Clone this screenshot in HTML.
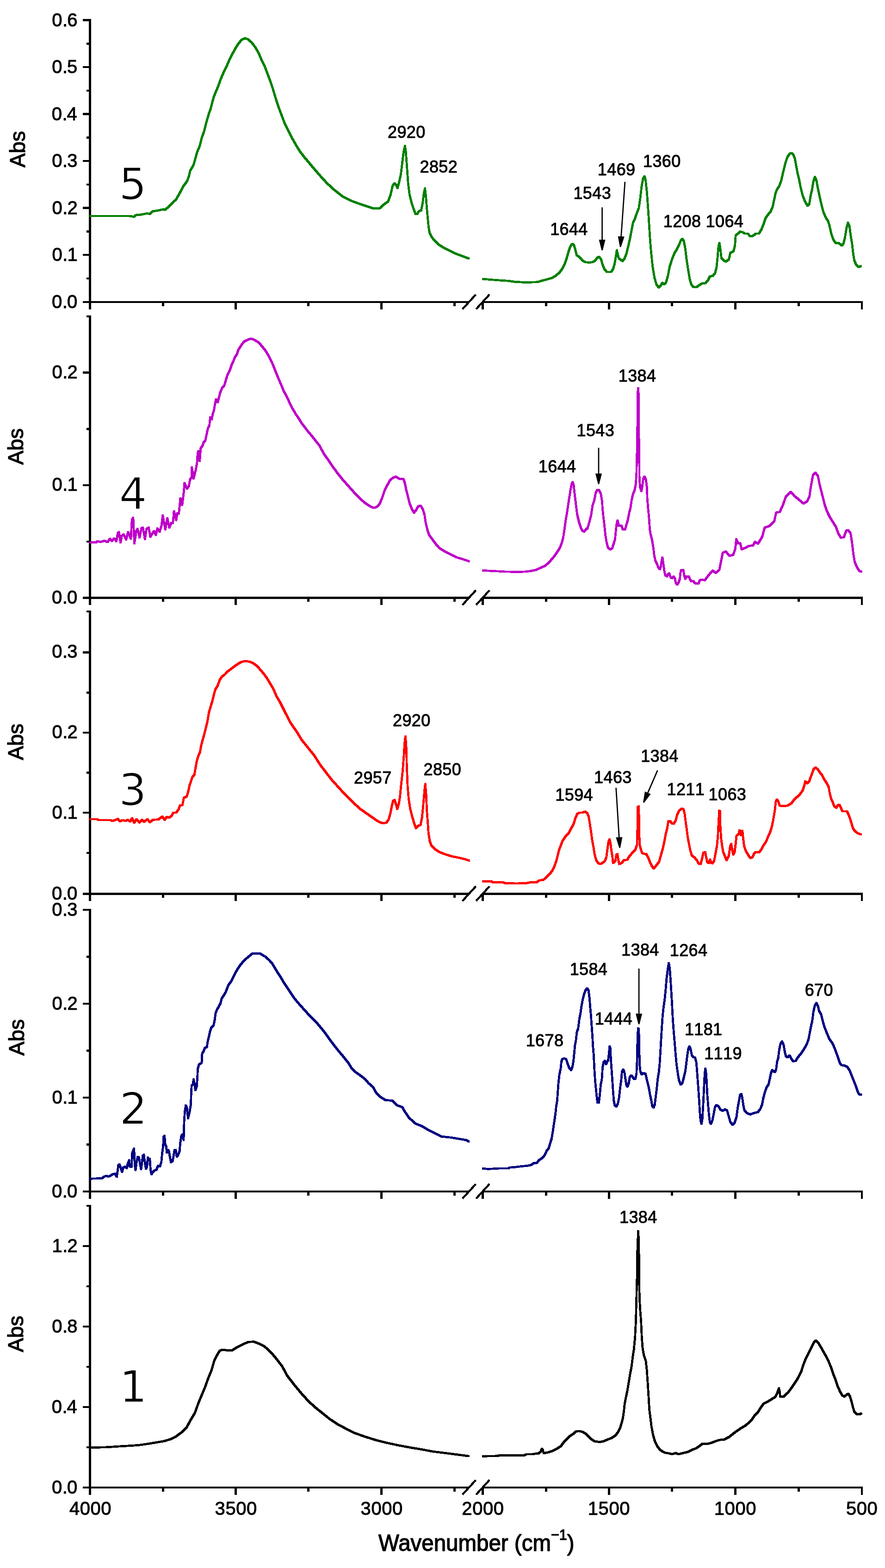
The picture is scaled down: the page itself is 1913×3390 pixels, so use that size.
<!DOCTYPE html>
<html><head><meta charset="utf-8"><title>FTIR spectra</title>
<style>html,body{margin:0;padding:0;background:#fff}svg{display:block}text{fill:#000}</style>
</head><body>
<svg width="1913" height="3390" viewBox="0 0 1913 3390" role="img" aria-label="FTIR absorbance spectra of samples 1 to 5">
<rect x="0" y="0" width="1913" height="3390" fill="#fff"/>
<g shape-rendering="crispEdges">
<rect x="192" y="41" width="5" height="628" fill="#000"/>
<rect x="192" y="651" width="822" height="4" fill="#000"/>
<rect x="1043" y="651" width="822" height="4" fill="#000"/>
<rect x="179" y="651" width="13" height="4" fill="#000"/>
<rect x="187" y="600" width="5" height="4" fill="#000"/>
<rect x="179" y="549" width="13" height="4" fill="#000"/>
<rect x="187" y="498" width="5" height="5" fill="#000"/>
<rect x="179" y="447" width="13" height="5" fill="#000"/>
<rect x="187" y="397" width="5" height="4" fill="#000"/>
<rect x="179" y="346" width="13" height="4" fill="#000"/>
<rect x="187" y="295" width="5" height="5" fill="#000"/>
<rect x="179" y="244" width="13" height="5" fill="#000"/>
<rect x="187" y="194" width="5" height="4" fill="#000"/>
<rect x="179" y="143" width="13" height="4" fill="#000"/>
<rect x="187" y="92" width="5" height="5" fill="#000"/>
<rect x="179" y="41" width="13" height="5" fill="#000"/>
<rect x="350" y="655" width="5" height="7" fill="#000"/>
<rect x="507" y="655" width="5" height="14" fill="#000"/>
<rect x="664" y="655" width="5" height="7" fill="#000"/>
<rect x="822" y="655" width="5" height="14" fill="#000"/>
<rect x="980" y="655" width="5" height="7" fill="#000"/>
<rect x="1041" y="655" width="5" height="14" fill="#000"/>
<rect x="1178" y="655" width="5" height="7" fill="#000"/>
<rect x="1314" y="655" width="5" height="14" fill="#000"/>
<rect x="1450" y="655" width="5" height="7" fill="#000"/>
<rect x="1587" y="655" width="5" height="14" fill="#000"/>
<rect x="1724" y="655" width="5" height="7" fill="#000"/>
<rect x="1861" y="655" width="4" height="14" fill="#000"/>
<line x1="999.7" y1="668.3" x2="1028.6" y2="636.7" stroke="#000" stroke-width="4.4"/>
<line x1="1029.2" y1="668.3" x2="1058.1" y2="636.7" stroke="#000" stroke-width="4.4"/>
<rect x="192" y="682" width="5" height="626" fill="#000"/>
<rect x="192" y="1290" width="822" height="5" fill="#000"/>
<rect x="1043" y="1290" width="822" height="5" fill="#000"/>
<rect x="179" y="1290" width="13" height="5" fill="#000"/>
<rect x="187" y="1169" width="5" height="4" fill="#000"/>
<rect x="179" y="1047" width="13" height="4" fill="#000"/>
<rect x="187" y="925" width="5" height="5" fill="#000"/>
<rect x="179" y="803" width="13" height="5" fill="#000"/>
<rect x="187" y="682" width="5" height="4" fill="#000"/>
<rect x="350" y="1295" width="5" height="6" fill="#000"/>
<rect x="507" y="1295" width="5" height="13" fill="#000"/>
<rect x="664" y="1295" width="5" height="6" fill="#000"/>
<rect x="822" y="1295" width="5" height="13" fill="#000"/>
<rect x="980" y="1295" width="5" height="6" fill="#000"/>
<rect x="1041" y="1295" width="5" height="13" fill="#000"/>
<rect x="1178" y="1295" width="5" height="6" fill="#000"/>
<rect x="1314" y="1295" width="5" height="13" fill="#000"/>
<rect x="1450" y="1295" width="5" height="6" fill="#000"/>
<rect x="1587" y="1295" width="5" height="13" fill="#000"/>
<rect x="1724" y="1295" width="5" height="6" fill="#000"/>
<rect x="1861" y="1295" width="4" height="13" fill="#000"/>
<line x1="999.7" y1="1307.8" x2="1028.6" y2="1276.2" stroke="#000" stroke-width="4.4"/>
<line x1="1029.2" y1="1307.8" x2="1058.1" y2="1276.2" stroke="#000" stroke-width="4.4"/>
<rect x="192" y="1320" width="5" height="628" fill="#000"/>
<rect x="192" y="1930" width="822" height="5" fill="#000"/>
<rect x="1043" y="1930" width="822" height="5" fill="#000"/>
<rect x="179" y="1930" width="13" height="5" fill="#000"/>
<rect x="187" y="1842" width="5" height="4" fill="#000"/>
<rect x="179" y="1755" width="13" height="4" fill="#000"/>
<rect x="187" y="1668" width="5" height="5" fill="#000"/>
<rect x="179" y="1582" width="13" height="4" fill="#000"/>
<rect x="187" y="1495" width="5" height="5" fill="#000"/>
<rect x="179" y="1408" width="13" height="5" fill="#000"/>
<rect x="187" y="1320" width="5" height="4" fill="#000"/>
<rect x="350" y="1935" width="5" height="6" fill="#000"/>
<rect x="507" y="1935" width="5" height="13" fill="#000"/>
<rect x="664" y="1935" width="5" height="6" fill="#000"/>
<rect x="822" y="1935" width="5" height="13" fill="#000"/>
<rect x="980" y="1935" width="5" height="6" fill="#000"/>
<rect x="1041" y="1935" width="5" height="13" fill="#000"/>
<rect x="1178" y="1935" width="5" height="6" fill="#000"/>
<rect x="1314" y="1935" width="5" height="13" fill="#000"/>
<rect x="1450" y="1935" width="5" height="6" fill="#000"/>
<rect x="1587" y="1935" width="5" height="13" fill="#000"/>
<rect x="1724" y="1935" width="5" height="6" fill="#000"/>
<rect x="1861" y="1935" width="4" height="13" fill="#000"/>
<line x1="999.7" y1="1947.8" x2="1028.6" y2="1916.2" stroke="#000" stroke-width="4.4"/>
<line x1="1029.2" y1="1947.8" x2="1058.1" y2="1916.2" stroke="#000" stroke-width="4.4"/>
<rect x="192" y="1965" width="5" height="627" fill="#000"/>
<rect x="192" y="2574" width="822" height="4" fill="#000"/>
<rect x="1043" y="2574" width="822" height="4" fill="#000"/>
<rect x="179" y="2574" width="13" height="4" fill="#000"/>
<rect x="187" y="2472" width="5" height="5" fill="#000"/>
<rect x="179" y="2371" width="13" height="4" fill="#000"/>
<rect x="187" y="2269" width="5" height="5" fill="#000"/>
<rect x="179" y="2168" width="13" height="4" fill="#000"/>
<rect x="187" y="2066" width="5" height="5" fill="#000"/>
<rect x="179" y="1965" width="13" height="4" fill="#000"/>
<rect x="350" y="2578" width="5" height="7" fill="#000"/>
<rect x="507" y="2578" width="5" height="14" fill="#000"/>
<rect x="664" y="2578" width="5" height="7" fill="#000"/>
<rect x="822" y="2578" width="5" height="14" fill="#000"/>
<rect x="980" y="2578" width="5" height="7" fill="#000"/>
<rect x="1041" y="2578" width="5" height="14" fill="#000"/>
<rect x="1178" y="2578" width="5" height="7" fill="#000"/>
<rect x="1314" y="2578" width="5" height="14" fill="#000"/>
<rect x="1450" y="2578" width="5" height="7" fill="#000"/>
<rect x="1587" y="2578" width="5" height="14" fill="#000"/>
<rect x="1724" y="2578" width="5" height="7" fill="#000"/>
<rect x="1861" y="2578" width="4" height="14" fill="#000"/>
<line x1="999.7" y1="2591.3" x2="1028.6" y2="2559.7" stroke="#000" stroke-width="4.4"/>
<line x1="1029.2" y1="2591.3" x2="1058.1" y2="2559.7" stroke="#000" stroke-width="4.4"/>
<rect x="192" y="2605" width="5" height="627" fill="#000"/>
<rect x="192" y="3214" width="822" height="4" fill="#000"/>
<rect x="1043" y="3214" width="822" height="4" fill="#000"/>
<rect x="179" y="3214" width="13" height="4" fill="#000"/>
<rect x="187" y="3127" width="5" height="4" fill="#000"/>
<rect x="179" y="3040" width="13" height="4" fill="#000"/>
<rect x="187" y="2953" width="5" height="4" fill="#000"/>
<rect x="179" y="2866" width="13" height="4" fill="#000"/>
<rect x="187" y="2779" width="5" height="4" fill="#000"/>
<rect x="179" y="2692" width="13" height="4" fill="#000"/>
<rect x="187" y="2605" width="5" height="4" fill="#000"/>
<rect x="350" y="3218" width="5" height="7" fill="#000"/>
<rect x="507" y="3218" width="5" height="14" fill="#000"/>
<rect x="664" y="3218" width="5" height="7" fill="#000"/>
<rect x="822" y="3218" width="5" height="14" fill="#000"/>
<rect x="980" y="3218" width="5" height="7" fill="#000"/>
<rect x="1041" y="3218" width="5" height="14" fill="#000"/>
<rect x="1178" y="3218" width="5" height="7" fill="#000"/>
<rect x="1314" y="3218" width="5" height="14" fill="#000"/>
<rect x="1450" y="3218" width="5" height="7" fill="#000"/>
<rect x="1587" y="3218" width="5" height="14" fill="#000"/>
<rect x="1724" y="3218" width="5" height="7" fill="#000"/>
<rect x="1861" y="3218" width="4" height="14" fill="#000"/>
<line x1="999.7" y1="3231.3" x2="1028.6" y2="3199.7" stroke="#000" stroke-width="4.4"/>
<line x1="1029.2" y1="3231.3" x2="1058.1" y2="3199.7" stroke="#000" stroke-width="4.4"/>
<g fill="none" stroke="#008000" stroke-linejoin="round" stroke-linecap="butt">
<polyline points="194.1,467.1 256.0,467.1 280.8,467.1 290.1,468.7 293.2,465.0 303.5,464.2 317.9,461.5 324.1,462.5 330.3,456.8 340.6,455.3 353.0,452.6 356.1,453.9 365.4,446.4 375.7,435.3 379.8,432.6 388.1,418.2 396.3,402.7 404.6,391.3 408.7,380.0 410.9,369.5 418.2,357.1 422.3,342.7 426.4,328.2 431.6,315.8 435.7,299.3 440.9,284.9 444.4,270.5 449.1,253.9 452.2,243.6 455.3,235.4 459.4,218.9 462.5,208.6 466.7,198.2 471.8,185.9 477.0,171.4 483.2,157.0 489.4,144.6 495.5,130.2 501.7,117.8 507.9,106.4 514.1,96.1 522.4,85.8 529.6,82.7 536.8,85.2 545.1,93.0 553.3,104.4 559.5,115.7 565.7,130.2 571.9,142.5 578.1,159.0 584.3,175.5 590.5,194.1 596.6,214.7 602.8,233.3 609.0,249.8 615.2,266.3 623.5,282.8 631.7,299.3 640.0,313.8 648.2,327.2 658.5,340.6 660.0,342.2 675.7,361.0 691.4,379.3 707.0,396.3 722.7,410.7 741.0,425.0 759.3,434.2 775.0,439.9 790.7,445.2 806.4,450.4 820.7,450.4 829.9,442.0 839.0,435.5 844.3,421.1 848.7,401.5 852.9,396.3 856.5,400.2 859.1,406.8 862.5,395.0 866.5,376.7 869.1,355.8 872.2,329.7 875.4,315.3 877.4,329.7 879.5,358.4 882.1,395.0 885.3,421.1 890.0,439.4 893.9,451.2 898.3,462.9 901.7,462.9 905.7,456.4 910.4,455.1 913.5,439.4 916.1,418.5 918.7,407.3 920.8,426.4 922.7,449.9 924.5,470.8 926.6,491.7 928.7,503.5 933.1,512.6 939.6,520.4 947.5,528.3 957.9,534.8 971.0,541.3 984.1,547.9 999.8,553.9 1014.1,559.1" stroke-width="4.5"/>
<polyline points="192.9,465.9 254.8,465.9 279.6,465.9 288.9,467.5 292.0,463.8 302.3,463.0 316.7,460.3 322.9,461.3 329.1,455.6 339.4,454.1 351.8,451.4 354.9,452.7 364.2,445.2 374.5,434.1 378.6,431.4 386.9,417.0 395.1,401.5 403.4,390.1 407.5,378.8 409.7,368.3 417.0,355.9 421.1,341.5 425.2,327.0 430.4,314.6 434.5,298.1 439.7,283.7 443.2,269.3 447.9,252.7 451.0,242.4 454.1,234.2 458.2,217.7 461.3,207.4 465.5,197.0 470.6,184.7 475.8,170.2 482.0,155.8 488.2,143.4 494.3,129.0 500.5,116.6 506.7,105.2 512.9,94.9 521.2,84.6 528.4,81.5 535.6,84.0 543.9,91.8 552.1,103.2 558.3,114.5 564.5,129.0 570.7,141.3 576.9,157.8 583.1,174.3 589.3,192.9 595.4,213.5 601.6,232.1 607.8,248.6 614.0,265.1 622.3,281.6 630.5,298.1 638.8,312.6 647.0,326.0 657.3,339.4 658.8,341.0 674.5,359.8 690.2,378.1 705.8,395.1 721.5,409.5 739.8,423.8 758.1,433.0 773.8,438.7 789.5,444.0 805.2,449.2 819.5,449.2 828.7,440.8 837.8,434.3 843.1,419.9 847.5,400.3 851.7,395.1 855.3,399.0 857.9,405.6 861.3,393.8 865.3,375.5 867.9,354.6 871.0,328.5 874.2,314.1 876.2,328.5 878.3,357.2 880.9,393.8 884.1,419.9 888.8,438.2 892.7,450.0 897.1,461.7 900.5,461.7 904.5,455.2 909.2,453.9 912.3,438.2 914.9,417.3 917.5,406.1 919.6,425.2 921.5,448.7 923.3,469.6 925.4,490.5 927.5,502.3 931.9,511.4 938.4,519.2 946.3,527.1 956.7,533.6 969.8,540.1 982.9,546.7 998.6,552.7 1012.9,557.9" stroke-width="2.2"/>
<polyline points="192.9,468.3 254.8,468.3 279.6,468.3 288.9,469.9 292.0,466.2 302.3,465.4 316.7,462.7 322.9,463.7 329.1,458.0 339.4,456.5 351.8,453.8 354.9,455.1 364.2,447.6 374.5,436.5 378.6,433.8 386.9,419.4 395.1,403.9 403.4,392.5 407.5,381.2 409.7,370.7 417.0,358.3 421.1,343.9 425.2,329.4 430.4,317.0 434.5,300.5 439.7,286.1 443.2,271.7 447.9,255.1 451.0,244.8 454.1,236.6 458.2,220.1 461.3,209.8 465.5,199.4 470.6,187.1 475.8,172.6 482.0,158.2 488.2,145.8 494.3,131.4 500.5,119.0 506.7,107.6 512.9,97.3 521.2,87.0 528.4,83.9 535.6,86.4 543.9,94.2 552.1,105.6 558.3,116.9 564.5,131.4 570.7,143.7 576.9,160.2 583.1,176.7 589.3,195.3 595.4,215.9 601.6,234.5 607.8,251.0 614.0,267.5 622.3,284.0 630.5,300.5 638.8,315.0 647.0,328.4 657.3,341.8 658.8,343.4 674.5,362.2 690.2,380.5 705.8,397.5 721.5,411.9 739.8,426.2 758.1,435.4 773.8,441.1 789.5,446.4 805.2,451.6 819.5,451.6 828.7,443.2 837.8,436.7 843.1,422.3 847.5,402.7 851.7,397.5 855.3,401.4 857.9,408.0 861.3,396.2 865.3,377.9 867.9,357.0 871.0,330.9 874.2,316.5 876.2,330.9 878.3,359.6 880.9,396.2 884.1,422.3 888.8,440.6 892.7,452.4 897.1,464.1 900.5,464.1 904.5,457.6 909.2,456.3 912.3,440.6 914.9,419.7 917.5,408.5 919.6,427.6 921.5,451.1 923.3,472.0 925.4,492.9 927.5,504.7 931.9,513.8 938.4,521.6 946.3,529.5 956.7,536.0 969.8,542.5 982.9,549.1 998.6,555.1 1012.9,560.3" stroke-width="2.2"/>
<polyline points="195.3,465.9 257.2,465.9 282.0,465.9 291.3,467.5 294.4,463.8 304.7,463.0 319.1,460.3 325.3,461.3 331.5,455.6 341.8,454.1 354.2,451.4 357.3,452.7 366.6,445.2 376.9,434.1 381.0,431.4 389.3,417.0 397.5,401.5 405.8,390.1 409.9,378.8 412.1,368.3 419.4,355.9 423.5,341.5 427.6,327.0 432.8,314.6 436.9,298.1 442.1,283.7 445.6,269.3 450.3,252.7 453.4,242.4 456.5,234.2 460.6,217.7 463.7,207.4 467.9,197.0 473.0,184.7 478.2,170.2 484.4,155.8 490.6,143.4 496.7,129.0 502.9,116.6 509.1,105.2 515.3,94.9 523.6,84.6 530.8,81.5 538.0,84.0 546.3,91.8 554.5,103.2 560.7,114.5 566.9,129.0 573.1,141.3 579.3,157.8 585.5,174.3 591.7,192.9 597.8,213.5 604.0,232.1 610.2,248.6 616.4,265.1 624.7,281.6 632.9,298.1 641.2,312.6 649.4,326.0 659.7,339.4 661.2,341.0 676.9,359.8 692.6,378.1 708.2,395.1 723.9,409.5 742.2,423.8 760.5,433.0 776.2,438.7 791.9,444.0 807.6,449.2 821.9,449.2 831.1,440.8 840.2,434.3 845.5,419.9 849.9,400.3 854.1,395.1 857.7,399.0 860.3,405.6 863.7,393.8 867.7,375.5 870.3,354.6 873.4,328.5 876.6,314.1 878.6,328.5 880.7,357.2 883.3,393.8 886.5,419.9 891.2,438.2 895.1,450.0 899.5,461.7 902.9,461.7 906.9,455.2 911.6,453.9 914.7,438.2 917.3,417.3 919.9,406.1 922.0,425.2 923.9,448.7 925.7,469.6 927.8,490.5 929.9,502.3 934.3,511.4 940.8,519.2 948.7,527.1 959.1,533.6 972.2,540.1 985.3,546.7 1001.0,552.7 1015.3,557.9" stroke-width="2.2"/>
<polyline points="195.3,468.3 257.2,468.3 282.0,468.3 291.3,469.9 294.4,466.2 304.7,465.4 319.1,462.7 325.3,463.7 331.5,458.0 341.8,456.5 354.2,453.8 357.3,455.1 366.6,447.6 376.9,436.5 381.0,433.8 389.3,419.4 397.5,403.9 405.8,392.5 409.9,381.2 412.1,370.7 419.4,358.3 423.5,343.9 427.6,329.4 432.8,317.0 436.9,300.5 442.1,286.1 445.6,271.7 450.3,255.1 453.4,244.8 456.5,236.6 460.6,220.1 463.7,209.8 467.9,199.4 473.0,187.1 478.2,172.6 484.4,158.2 490.6,145.8 496.7,131.4 502.9,119.0 509.1,107.6 515.3,97.3 523.6,87.0 530.8,83.9 538.0,86.4 546.3,94.2 554.5,105.6 560.7,116.9 566.9,131.4 573.1,143.7 579.3,160.2 585.5,176.7 591.7,195.3 597.8,215.9 604.0,234.5 610.2,251.0 616.4,267.5 624.7,284.0 632.9,300.5 641.2,315.0 649.4,328.4 659.7,341.8 661.2,343.4 676.9,362.2 692.6,380.5 708.2,397.5 723.9,411.9 742.2,426.2 760.5,435.4 776.2,441.1 791.9,446.4 807.6,451.6 821.9,451.6 831.1,443.2 840.2,436.7 845.5,422.3 849.9,402.7 854.1,397.5 857.7,401.4 860.3,408.0 863.7,396.2 867.7,377.9 870.3,357.0 873.4,330.9 876.6,316.5 878.6,330.9 880.7,359.6 883.3,396.2 886.5,422.3 891.2,440.6 895.1,452.4 899.5,464.1 902.9,464.1 906.9,457.6 911.6,456.3 914.7,440.6 917.3,419.7 919.9,408.5 922.0,427.6 923.9,451.1 925.7,472.0 927.8,492.9 929.9,504.7 934.3,513.8 940.8,521.6 948.7,529.5 959.1,536.0 972.2,542.5 985.3,549.1 1001.0,555.1 1015.3,560.3" stroke-width="2.2"/>
</g>
<g fill="none" stroke="#008000" stroke-linejoin="round" stroke-linecap="butt">
<polyline points="1043.4,603.1 1054.8,604.1 1077.5,605.9 1098.1,607.2 1112.5,609.2 1137.3,610.7 1162.0,609.7 1172.4,606.6 1182.7,603.9 1193.0,601.0 1201.3,596.2 1209.5,589.0 1215.7,580.8 1220.9,570.5 1225.0,558.1 1228.5,545.7 1231.8,535.4 1234.7,529.2 1238.0,527.5 1240.9,530.2 1243.5,539.5 1246.6,551.9 1252.8,556.0 1259.0,563.2 1265.2,566.7 1273.5,567.6 1280.7,566.7 1286.9,563.2 1291.0,557.0 1294.5,555.2 1299.3,560.4 1302.4,571.7 1306.5,582.0 1311.7,587.8 1320.9,587.8 1325.1,582.0 1328.2,571.7 1330.9,557.3 1333.3,540.8 1335.0,549.0 1337.5,558.3 1341.6,561.4 1345.7,564.5 1349.8,559.3 1354.0,549.0 1358.1,532.5 1362.2,513.9 1365.3,497.4 1368.4,480.9 1372.5,472.7 1376.7,460.3 1380.8,450.0 1383.9,429.4 1387.0,402.5 1390.1,386.0 1393.2,380.9 1395.6,390.2 1398.3,414.9 1400.4,443.8 1402.4,472.7 1403.9,497.4 1405.5,522.2 1407.6,547.0 1410.7,575.8 1414.8,600.6 1419.0,615.0 1424.1,621.7 1428.2,617.1 1432.0,610.9 1435.5,615.0 1439.6,610.9 1443.7,596.5 1447.8,575.8 1453.0,559.3 1458.2,547.0 1463.3,538.7 1467.4,530.5 1471.6,520.1 1475.1,516.6 1478.2,521.2 1480.9,534.6 1483.9,559.3 1487.0,580.0 1491.2,604.7 1494.3,615.0 1498.4,620.2 1504.6,621.2 1510.8,617.1 1517.0,613.0 1525.2,612.0 1530.4,605.8 1534.5,597.5 1540.7,596.5 1545.8,590.3 1548.9,577.9 1551.0,557.3 1553.1,532.5 1555.1,525.3 1557.2,538.7 1559.3,557.3 1563.4,562.4 1568.5,565.5 1570.0,565.2 1575.5,560.8 1578.8,546.5 1585.4,543.2 1588.7,531.1 1590.2,509.1 1594.2,505.8 1599.7,500.7 1606.3,502.5 1609.6,505.1 1616.2,505.1 1621.7,510.8 1627.2,510.2 1633.8,505.1 1640.4,505.1 1645.9,495.9 1650.3,484.9 1654.7,471.7 1660.2,464.0 1665.7,457.4 1670.1,447.5 1673.4,432.0 1676.7,416.6 1680.0,408.9 1684.4,402.3 1688.8,390.2 1693.2,370.4 1697.6,352.8 1702.0,339.6 1706.9,332.6 1710.9,330.8 1714.8,334.1 1717.9,341.8 1720.8,357.2 1724.1,374.8 1727.4,388.0 1730.7,405.6 1735.1,423.2 1740.6,436.5 1745.6,444.8 1749.4,440.9 1752.2,423.2 1755.3,410.0 1758.2,392.4 1761.5,382.5 1764.8,390.2 1767.6,405.6 1771.4,423.2 1774.7,438.7 1779.1,456.3 1784.6,469.5 1790.1,478.3 1793.4,489.3 1796.7,504.7 1801.1,517.9 1806.6,525.6 1813.2,525.6 1819.8,531.1 1823.1,526.7 1826.4,513.5 1829.7,493.7 1833.0,481.6 1836.3,489.3 1838.5,506.9 1841.8,526.7 1844.0,546.5 1846.9,564.1 1850.6,571.8 1856.1,577.3 1861.6,575.1" stroke-width="4.5"/>
<polyline points="1042.2,601.9 1053.6,602.9 1076.3,604.7 1096.9,606.0 1111.3,608.0 1136.1,609.5 1160.8,608.5 1171.2,605.4 1181.5,602.7 1191.8,599.8 1200.1,595.0 1208.3,587.8 1214.5,579.6 1219.7,569.3 1223.8,556.9 1227.3,544.5 1230.6,534.2 1233.5,528.0 1236.8,526.3 1239.7,529.0 1242.3,538.3 1245.4,550.7 1251.6,554.8 1257.8,562.0 1264.0,565.5 1272.3,566.4 1279.5,565.5 1285.7,562.0 1289.8,555.8 1293.3,554.0 1298.1,559.2 1301.2,570.5 1305.3,580.8 1310.5,586.6 1319.7,586.6 1323.9,580.8 1327.0,570.5 1329.7,556.1 1332.1,539.6 1333.8,547.8 1336.3,557.1 1340.4,560.2 1344.5,563.3 1348.6,558.1 1352.8,547.8 1356.9,531.3 1361.0,512.7 1364.1,496.2 1367.2,479.7 1371.3,471.5 1375.5,459.1 1379.6,448.8 1382.7,428.2 1385.8,401.3 1388.9,384.8 1392.0,379.7 1394.4,389.0 1397.1,413.7 1399.2,442.6 1401.2,471.5 1402.7,496.2 1404.3,521.0 1406.4,545.8 1409.5,574.6 1413.6,599.4 1417.8,613.8 1422.9,620.5 1427.0,615.9 1430.8,609.7 1434.3,613.8 1438.4,609.7 1442.5,595.3 1446.6,574.6 1451.8,558.1 1457.0,545.8 1462.1,537.5 1466.2,529.3 1470.4,518.9 1473.9,515.4 1477.0,520.0 1479.7,533.4 1482.7,558.1 1485.8,578.8 1490.0,603.5 1493.1,613.8 1497.2,619.0 1503.4,620.0 1509.6,615.9 1515.8,611.8 1524.0,610.8 1529.2,604.6 1533.3,596.3 1539.5,595.3 1544.6,589.1 1547.7,576.7 1549.8,556.1 1551.9,531.3 1553.9,524.1 1556.0,537.5 1558.1,556.1 1562.2,561.2 1567.3,564.3 1568.8,564.0 1574.3,559.6 1577.6,545.3 1584.2,542.0 1587.5,529.9 1589.0,507.9 1593.0,504.6 1598.5,499.5 1605.1,501.3 1608.4,503.9 1615.0,503.9 1620.5,509.6 1626.0,509.0 1632.6,503.9 1639.2,503.9 1644.7,494.7 1649.1,483.7 1653.5,470.5 1659.0,462.8 1664.5,456.2 1668.9,446.3 1672.2,430.8 1675.5,415.4 1678.8,407.7 1683.2,401.1 1687.6,389.0 1692.0,369.2 1696.4,351.6 1700.8,338.4 1705.7,331.4 1709.7,329.6 1713.6,332.9 1716.7,340.6 1719.6,356.0 1722.9,373.6 1726.2,386.8 1729.5,404.4 1733.9,422.0 1739.4,435.3 1744.4,443.6 1748.2,439.7 1751.0,422.0 1754.1,408.8 1757.0,391.2 1760.3,381.3 1763.6,389.0 1766.4,404.4 1770.2,422.0 1773.5,437.5 1777.9,455.1 1783.4,468.3 1788.9,477.1 1792.2,488.1 1795.5,503.5 1799.9,516.7 1805.4,524.4 1812.0,524.4 1818.6,529.9 1821.9,525.5 1825.2,512.3 1828.5,492.5 1831.8,480.4 1835.1,488.1 1837.3,505.7 1840.6,525.5 1842.8,545.3 1845.7,562.9 1849.4,570.6 1854.9,576.1 1860.4,573.9" stroke-width="2.2"/>
<polyline points="1042.2,604.3 1053.6,605.3 1076.3,607.1 1096.9,608.4 1111.3,610.4 1136.1,611.9 1160.8,610.9 1171.2,607.8 1181.5,605.1 1191.8,602.2 1200.1,597.4 1208.3,590.2 1214.5,582.0 1219.7,571.7 1223.8,559.3 1227.3,546.9 1230.6,536.6 1233.5,530.4 1236.8,528.7 1239.7,531.4 1242.3,540.7 1245.4,553.1 1251.6,557.2 1257.8,564.4 1264.0,567.9 1272.3,568.8 1279.5,567.9 1285.7,564.4 1289.8,558.2 1293.3,556.4 1298.1,561.6 1301.2,572.9 1305.3,583.2 1310.5,589.0 1319.7,589.0 1323.9,583.2 1327.0,572.9 1329.7,558.5 1332.1,542.0 1333.8,550.2 1336.3,559.5 1340.4,562.6 1344.5,565.7 1348.6,560.5 1352.8,550.2 1356.9,533.7 1361.0,515.1 1364.1,498.6 1367.2,482.1 1371.3,473.9 1375.5,461.5 1379.6,451.2 1382.7,430.6 1385.8,403.7 1388.9,387.2 1392.0,382.1 1394.4,391.4 1397.1,416.1 1399.2,445.0 1401.2,473.9 1402.7,498.6 1404.3,523.4 1406.4,548.2 1409.5,577.0 1413.6,601.8 1417.8,616.2 1422.9,622.9 1427.0,618.3 1430.8,612.1 1434.3,616.2 1438.4,612.1 1442.5,597.7 1446.6,577.0 1451.8,560.5 1457.0,548.2 1462.1,539.9 1466.2,531.7 1470.4,521.3 1473.9,517.8 1477.0,522.4 1479.7,535.8 1482.7,560.5 1485.8,581.2 1490.0,605.9 1493.1,616.2 1497.2,621.4 1503.4,622.4 1509.6,618.3 1515.8,614.2 1524.0,613.2 1529.2,607.0 1533.3,598.7 1539.5,597.7 1544.6,591.5 1547.7,579.1 1549.8,558.5 1551.9,533.7 1553.9,526.5 1556.0,539.9 1558.1,558.5 1562.2,563.6 1567.3,566.7 1568.8,566.4 1574.3,562.0 1577.6,547.7 1584.2,544.4 1587.5,532.3 1589.0,510.3 1593.0,507.0 1598.5,501.9 1605.1,503.7 1608.4,506.3 1615.0,506.3 1620.5,512.0 1626.0,511.4 1632.6,506.3 1639.2,506.3 1644.7,497.1 1649.1,486.1 1653.5,472.9 1659.0,465.2 1664.5,458.6 1668.9,448.7 1672.2,433.2 1675.5,417.8 1678.8,410.1 1683.2,403.5 1687.6,391.4 1692.0,371.6 1696.4,354.0 1700.8,340.8 1705.7,333.8 1709.7,332.0 1713.6,335.3 1716.7,343.0 1719.6,358.4 1722.9,376.0 1726.2,389.2 1729.5,406.8 1733.9,424.4 1739.4,437.7 1744.4,446.0 1748.2,442.1 1751.0,424.4 1754.1,411.2 1757.0,393.6 1760.3,383.7 1763.6,391.4 1766.4,406.8 1770.2,424.4 1773.5,439.9 1777.9,457.5 1783.4,470.7 1788.9,479.5 1792.2,490.5 1795.5,505.9 1799.9,519.1 1805.4,526.8 1812.0,526.8 1818.6,532.3 1821.9,527.9 1825.2,514.7 1828.5,494.9 1831.8,482.8 1835.1,490.5 1837.3,508.1 1840.6,527.9 1842.8,547.7 1845.7,565.3 1849.4,573.0 1854.9,578.5 1860.4,576.3" stroke-width="2.2"/>
<polyline points="1044.6,601.9 1056.0,602.9 1078.7,604.7 1099.3,606.0 1113.7,608.0 1138.5,609.5 1163.2,608.5 1173.6,605.4 1183.9,602.7 1194.2,599.8 1202.5,595.0 1210.7,587.8 1216.9,579.6 1222.1,569.3 1226.2,556.9 1229.7,544.5 1233.0,534.2 1235.9,528.0 1239.2,526.3 1242.1,529.0 1244.7,538.3 1247.8,550.7 1254.0,554.8 1260.2,562.0 1266.4,565.5 1274.7,566.4 1281.9,565.5 1288.1,562.0 1292.2,555.8 1295.7,554.0 1300.5,559.2 1303.6,570.5 1307.7,580.8 1312.9,586.6 1322.1,586.6 1326.3,580.8 1329.4,570.5 1332.1,556.1 1334.5,539.6 1336.2,547.8 1338.7,557.1 1342.8,560.2 1346.9,563.3 1351.0,558.1 1355.2,547.8 1359.3,531.3 1363.4,512.7 1366.5,496.2 1369.6,479.7 1373.7,471.5 1377.9,459.1 1382.0,448.8 1385.1,428.2 1388.2,401.3 1391.3,384.8 1394.4,379.7 1396.8,389.0 1399.5,413.7 1401.6,442.6 1403.6,471.5 1405.1,496.2 1406.7,521.0 1408.8,545.8 1411.9,574.6 1416.0,599.4 1420.2,613.8 1425.3,620.5 1429.4,615.9 1433.2,609.7 1436.7,613.8 1440.8,609.7 1444.9,595.3 1449.0,574.6 1454.2,558.1 1459.4,545.8 1464.5,537.5 1468.6,529.3 1472.8,518.9 1476.3,515.4 1479.4,520.0 1482.1,533.4 1485.1,558.1 1488.2,578.8 1492.4,603.5 1495.5,613.8 1499.6,619.0 1505.8,620.0 1512.0,615.9 1518.2,611.8 1526.4,610.8 1531.6,604.6 1535.7,596.3 1541.9,595.3 1547.0,589.1 1550.1,576.7 1552.2,556.1 1554.3,531.3 1556.3,524.1 1558.4,537.5 1560.5,556.1 1564.6,561.2 1569.7,564.3 1571.2,564.0 1576.7,559.6 1580.0,545.3 1586.6,542.0 1589.9,529.9 1591.4,507.9 1595.4,504.6 1600.9,499.5 1607.5,501.3 1610.8,503.9 1617.4,503.9 1622.9,509.6 1628.4,509.0 1635.0,503.9 1641.6,503.9 1647.1,494.7 1651.5,483.7 1655.9,470.5 1661.4,462.8 1666.9,456.2 1671.3,446.3 1674.6,430.8 1677.9,415.4 1681.2,407.7 1685.6,401.1 1690.0,389.0 1694.4,369.2 1698.8,351.6 1703.2,338.4 1708.1,331.4 1712.1,329.6 1716.0,332.9 1719.1,340.6 1722.0,356.0 1725.3,373.6 1728.6,386.8 1731.9,404.4 1736.3,422.0 1741.8,435.3 1746.8,443.6 1750.6,439.7 1753.4,422.0 1756.5,408.8 1759.4,391.2 1762.7,381.3 1766.0,389.0 1768.8,404.4 1772.6,422.0 1775.9,437.5 1780.3,455.1 1785.8,468.3 1791.3,477.1 1794.6,488.1 1797.9,503.5 1802.3,516.7 1807.8,524.4 1814.4,524.4 1821.0,529.9 1824.3,525.5 1827.6,512.3 1830.9,492.5 1834.2,480.4 1837.5,488.1 1839.7,505.7 1843.0,525.5 1845.2,545.3 1848.1,562.9 1851.8,570.6 1857.3,576.1 1862.8,573.9" stroke-width="2.2"/>
<polyline points="1044.6,604.3 1056.0,605.3 1078.7,607.1 1099.3,608.4 1113.7,610.4 1138.5,611.9 1163.2,610.9 1173.6,607.8 1183.9,605.1 1194.2,602.2 1202.5,597.4 1210.7,590.2 1216.9,582.0 1222.1,571.7 1226.2,559.3 1229.7,546.9 1233.0,536.6 1235.9,530.4 1239.2,528.7 1242.1,531.4 1244.7,540.7 1247.8,553.1 1254.0,557.2 1260.2,564.4 1266.4,567.9 1274.7,568.8 1281.9,567.9 1288.1,564.4 1292.2,558.2 1295.7,556.4 1300.5,561.6 1303.6,572.9 1307.7,583.2 1312.9,589.0 1322.1,589.0 1326.3,583.2 1329.4,572.9 1332.1,558.5 1334.5,542.0 1336.2,550.2 1338.7,559.5 1342.8,562.6 1346.9,565.7 1351.0,560.5 1355.2,550.2 1359.3,533.7 1363.4,515.1 1366.5,498.6 1369.6,482.1 1373.7,473.9 1377.9,461.5 1382.0,451.2 1385.1,430.6 1388.2,403.7 1391.3,387.2 1394.4,382.1 1396.8,391.4 1399.5,416.1 1401.6,445.0 1403.6,473.9 1405.1,498.6 1406.7,523.4 1408.8,548.2 1411.9,577.0 1416.0,601.8 1420.2,616.2 1425.3,622.9 1429.4,618.3 1433.2,612.1 1436.7,616.2 1440.8,612.1 1444.9,597.7 1449.0,577.0 1454.2,560.5 1459.4,548.2 1464.5,539.9 1468.6,531.7 1472.8,521.3 1476.3,517.8 1479.4,522.4 1482.1,535.8 1485.1,560.5 1488.2,581.2 1492.4,605.9 1495.5,616.2 1499.6,621.4 1505.8,622.4 1512.0,618.3 1518.2,614.2 1526.4,613.2 1531.6,607.0 1535.7,598.7 1541.9,597.7 1547.0,591.5 1550.1,579.1 1552.2,558.5 1554.3,533.7 1556.3,526.5 1558.4,539.9 1560.5,558.5 1564.6,563.6 1569.7,566.7 1571.2,566.4 1576.7,562.0 1580.0,547.7 1586.6,544.4 1589.9,532.3 1591.4,510.3 1595.4,507.0 1600.9,501.9 1607.5,503.7 1610.8,506.3 1617.4,506.3 1622.9,512.0 1628.4,511.4 1635.0,506.3 1641.6,506.3 1647.1,497.1 1651.5,486.1 1655.9,472.9 1661.4,465.2 1666.9,458.6 1671.3,448.7 1674.6,433.2 1677.9,417.8 1681.2,410.1 1685.6,403.5 1690.0,391.4 1694.4,371.6 1698.8,354.0 1703.2,340.8 1708.1,333.8 1712.1,332.0 1716.0,335.3 1719.1,343.0 1722.0,358.4 1725.3,376.0 1728.6,389.2 1731.9,406.8 1736.3,424.4 1741.8,437.7 1746.8,446.0 1750.6,442.1 1753.4,424.4 1756.5,411.2 1759.4,393.6 1762.7,383.7 1766.0,391.4 1768.8,406.8 1772.6,424.4 1775.9,439.9 1780.3,457.5 1785.8,470.7 1791.3,479.5 1794.6,490.5 1797.9,505.9 1802.3,519.1 1807.8,526.8 1814.4,526.8 1821.0,532.3 1824.3,527.9 1827.6,514.7 1830.9,494.9 1834.2,482.8 1837.5,490.5 1839.7,508.1 1843.0,527.9 1845.2,547.7 1848.1,565.3 1851.8,573.0 1857.3,578.5 1862.8,576.3" stroke-width="2.2"/>
</g>
<g fill="none" stroke="#be00c8" stroke-linejoin="round" stroke-linecap="butt">
<polyline points="193.9,1172.9 207.9,1172.4 210.6,1170.2 216.8,1171.6 225.8,1169.3 232.9,1172.0 237.4,1164.8 241.9,1169.3 246.9,1163.9 251.7,1170.2 254.4,1153.2 257.1,1150.5 260.6,1172.9 263.3,1158.6 267.2,1155.0 272.6,1166.6 276.7,1150.5 283.0,1164.8 285.1,1123.7 288.0,1119.2 290.5,1174.7 294.6,1148.7 297.3,1143.4 301.8,1162.2 305.9,1141.6 308.9,1140.7 313.4,1165.7 316.6,1143.4 321.4,1140.7 325.0,1160.4 333.1,1147.9 337.0,1156.8 340.2,1142.5 345.2,1149.6 349.1,1136.2 351.8,1113.9 357.2,1145.2 361.7,1120.1 366.1,1140.7 370.6,1130.0 373.8,1130.9 376.0,1104.9 381.0,1124.6 383.1,1109.4 386.7,1110.3 389.9,1077.2 393.9,1091.5 397.4,1062.9 398.7,1044.4 404.2,1056.5 408.6,1049.9 410.8,1036.7 414.1,1032.3 414.8,1010.3 418.5,1034.5 422.9,1016.9 425.8,1001.5 427.3,979.5 428.9,975.1 431.7,997.1 433.9,968.5 437.7,964.1 440.5,955.3 443.8,953.1 446.0,942.1 449.3,926.7 452.6,920.1 454.4,902.5 457.5,906.9 459.7,895.9 462.5,887.1 464.7,873.9 466.9,862.9 470.7,869.5 473.5,858.5 475.7,849.7 480.1,838.7 484.5,834.3 487.8,823.2 491.8,810.0 496.6,801.2 500.6,789.1 504.3,781.4 507.6,772.6 512.0,766.0 515.4,756.1 520.9,747.3 527.5,738.5 534.1,735.2 542.9,731.9 551.7,735.7 559.4,740.7 567.1,749.5 574.8,759.4 581.4,770.4 586.9,781.4 592.4,794.6 596.8,805.6 601.2,816.6 607.8,832.0 613.3,845.3 619.9,857.4 625.4,869.5 632.0,882.7 639.7,895.9 647.4,906.9 651.8,914.6 659.5,924.5 666.1,933.3 673.8,942.1 681.5,952.0 690.3,963.0 696.9,975.1 699.8,980.9 709.7,994.5 719.6,1009.3 729.5,1022.9 739.4,1035.3 749.3,1046.5 759.2,1057.6 769.1,1068.7 779.0,1078.7 788.9,1087.3 798.8,1094.0 807.5,1098.0 814.9,1096.0 821.1,1088.6 826.1,1076.2 831.0,1061.3 837.2,1048.9 843.4,1037.8 849.6,1032.8 855.8,1030.4 863.2,1035.3 871.9,1035.3 875.1,1044.0 878.1,1058.8 881.8,1073.7 885.5,1088.6 890.5,1100.9 894.9,1108.4 899.1,1103.4 904.1,1094.7 909.0,1093.0 914.0,1100.9 917.7,1113.3 920.2,1130.6 923.9,1145.5 927.6,1156.6 935.0,1166.5 942.4,1176.5 949.9,1185.1 959.8,1191.3 972.2,1197.5 987.0,1204.9 1001.9,1209.4 1014.3,1213.6" stroke-width="4.5"/>
<polyline points="192.7,1171.7 206.7,1171.2 209.4,1169.0 215.6,1170.4 224.6,1168.1 231.7,1170.8 236.2,1163.6 240.7,1168.1 245.7,1162.7 250.5,1169.0 253.2,1152.0 255.9,1149.3 259.4,1171.7 262.1,1157.4 266.0,1153.8 271.4,1165.4 275.5,1149.3 281.8,1163.6 283.9,1122.5 286.8,1118.0 289.3,1173.5 293.4,1147.5 296.1,1142.2 300.6,1161.0 304.7,1140.4 307.7,1139.5 312.2,1164.5 315.4,1142.2 320.2,1139.5 323.8,1159.2 331.9,1146.7 335.8,1155.6 339.0,1141.3 344.0,1148.4 347.9,1135.0 350.6,1112.7 356.0,1144.0 360.5,1118.9 364.9,1139.5 369.4,1128.8 372.6,1129.7 374.8,1103.7 379.8,1123.4 381.9,1108.2 385.5,1109.1 388.7,1076.0 392.7,1090.3 396.2,1061.7 397.5,1043.2 403.0,1055.3 407.4,1048.7 409.6,1035.5 412.9,1031.1 413.6,1009.1 417.3,1033.3 421.7,1015.7 424.6,1000.3 426.1,978.3 427.7,973.9 430.5,995.9 432.7,967.3 436.5,962.9 439.3,954.1 442.6,951.9 444.8,940.9 448.1,925.5 451.4,918.9 453.2,901.3 456.3,905.7 458.5,894.7 461.3,885.9 463.5,872.7 465.7,861.7 469.5,868.3 472.3,857.3 474.5,848.5 478.9,837.5 483.3,833.1 486.6,822.0 490.6,808.8 495.4,800.0 499.4,787.9 503.1,780.2 506.4,771.4 510.8,764.8 514.2,754.9 519.7,746.1 526.3,737.3 532.9,734.0 541.7,730.7 550.5,734.5 558.2,739.5 565.9,748.3 573.6,758.2 580.2,769.2 585.7,780.2 591.2,793.4 595.6,804.4 600.0,815.4 606.6,830.8 612.1,844.1 618.7,856.2 624.2,868.3 630.8,881.5 638.5,894.7 646.2,905.7 650.6,913.4 658.3,923.3 664.9,932.1 672.6,940.9 680.3,950.8 689.1,961.8 695.7,973.9 698.6,979.7 708.5,993.3 718.4,1008.1 728.3,1021.7 738.2,1034.1 748.1,1045.3 758.0,1056.4 767.9,1067.5 777.8,1077.5 787.7,1086.1 797.6,1092.8 806.3,1096.8 813.7,1094.8 819.9,1087.4 824.9,1075.0 829.8,1060.1 836.0,1047.7 842.2,1036.6 848.4,1031.6 854.6,1029.2 862.0,1034.1 870.7,1034.1 873.9,1042.8 876.9,1057.6 880.6,1072.5 884.3,1087.4 889.3,1099.7 893.7,1107.2 897.9,1102.2 902.9,1093.5 907.8,1091.8 912.8,1099.7 916.5,1112.1 919.0,1129.4 922.7,1144.3 926.4,1155.4 933.8,1165.3 941.2,1175.3 948.7,1183.9 958.6,1190.1 971.0,1196.3 985.8,1203.7 1000.7,1208.2 1013.1,1212.4" stroke-width="2.2"/>
<polyline points="192.7,1174.1 206.7,1173.6 209.4,1171.4 215.6,1172.8 224.6,1170.5 231.7,1173.2 236.2,1166.0 240.7,1170.5 245.7,1165.1 250.5,1171.4 253.2,1154.4 255.9,1151.7 259.4,1174.1 262.1,1159.8 266.0,1156.2 271.4,1167.8 275.5,1151.7 281.8,1166.0 283.9,1124.9 286.8,1120.4 289.3,1175.9 293.4,1149.9 296.1,1144.6 300.6,1163.4 304.7,1142.8 307.7,1141.9 312.2,1166.9 315.4,1144.6 320.2,1141.9 323.8,1161.6 331.9,1149.1 335.8,1158.0 339.0,1143.7 344.0,1150.8 347.9,1137.4 350.6,1115.1 356.0,1146.4 360.5,1121.3 364.9,1141.9 369.4,1131.2 372.6,1132.1 374.8,1106.1 379.8,1125.8 381.9,1110.6 385.5,1111.5 388.7,1078.4 392.7,1092.7 396.2,1064.1 397.5,1045.6 403.0,1057.7 407.4,1051.1 409.6,1037.9 412.9,1033.5 413.6,1011.5 417.3,1035.7 421.7,1018.1 424.6,1002.7 426.1,980.7 427.7,976.3 430.5,998.3 432.7,969.7 436.5,965.3 439.3,956.5 442.6,954.3 444.8,943.3 448.1,927.9 451.4,921.3 453.2,903.7 456.3,908.1 458.5,897.1 461.3,888.3 463.5,875.1 465.7,864.1 469.5,870.7 472.3,859.7 474.5,850.9 478.9,839.9 483.3,835.5 486.6,824.4 490.6,811.2 495.4,802.4 499.4,790.3 503.1,782.6 506.4,773.8 510.8,767.2 514.2,757.3 519.7,748.5 526.3,739.7 532.9,736.4 541.7,733.1 550.5,736.9 558.2,741.9 565.9,750.7 573.6,760.6 580.2,771.6 585.7,782.6 591.2,795.8 595.6,806.8 600.0,817.8 606.6,833.2 612.1,846.5 618.7,858.6 624.2,870.7 630.8,883.9 638.5,897.1 646.2,908.1 650.6,915.8 658.3,925.7 664.9,934.5 672.6,943.3 680.3,953.2 689.1,964.2 695.7,976.3 698.6,982.1 708.5,995.7 718.4,1010.5 728.3,1024.1 738.2,1036.5 748.1,1047.7 758.0,1058.8 767.9,1069.9 777.8,1079.9 787.7,1088.5 797.6,1095.2 806.3,1099.2 813.7,1097.2 819.9,1089.8 824.9,1077.4 829.8,1062.5 836.0,1050.1 842.2,1039.0 848.4,1034.0 854.6,1031.6 862.0,1036.5 870.7,1036.5 873.9,1045.2 876.9,1060.0 880.6,1074.9 884.3,1089.8 889.3,1102.1 893.7,1109.6 897.9,1104.6 902.9,1095.9 907.8,1094.2 912.8,1102.1 916.5,1114.5 919.0,1131.8 922.7,1146.7 926.4,1157.8 933.8,1167.7 941.2,1177.7 948.7,1186.3 958.6,1192.5 971.0,1198.7 985.8,1206.1 1000.7,1210.6 1013.1,1214.8" stroke-width="2.2"/>
<polyline points="195.1,1171.7 209.1,1171.2 211.8,1169.0 218.0,1170.4 227.0,1168.1 234.1,1170.8 238.6,1163.6 243.1,1168.1 248.1,1162.7 252.9,1169.0 255.6,1152.0 258.3,1149.3 261.8,1171.7 264.5,1157.4 268.4,1153.8 273.8,1165.4 277.9,1149.3 284.2,1163.6 286.3,1122.5 289.2,1118.0 291.7,1173.5 295.8,1147.5 298.5,1142.2 303.0,1161.0 307.1,1140.4 310.1,1139.5 314.6,1164.5 317.8,1142.2 322.6,1139.5 326.2,1159.2 334.3,1146.7 338.2,1155.6 341.4,1141.3 346.4,1148.4 350.3,1135.0 353.0,1112.7 358.4,1144.0 362.9,1118.9 367.3,1139.5 371.8,1128.8 375.0,1129.7 377.2,1103.7 382.2,1123.4 384.3,1108.2 387.9,1109.1 391.1,1076.0 395.1,1090.3 398.6,1061.7 399.9,1043.2 405.4,1055.3 409.8,1048.7 412.0,1035.5 415.3,1031.1 416.0,1009.1 419.7,1033.3 424.1,1015.7 427.0,1000.3 428.5,978.3 430.1,973.9 432.9,995.9 435.1,967.3 438.9,962.9 441.7,954.1 445.0,951.9 447.2,940.9 450.5,925.5 453.8,918.9 455.6,901.3 458.7,905.7 460.9,894.7 463.7,885.9 465.9,872.7 468.1,861.7 471.9,868.3 474.7,857.3 476.9,848.5 481.3,837.5 485.7,833.1 489.0,822.0 493.0,808.8 497.8,800.0 501.8,787.9 505.5,780.2 508.8,771.4 513.2,764.8 516.6,754.9 522.1,746.1 528.7,737.3 535.3,734.0 544.1,730.7 552.9,734.5 560.6,739.5 568.3,748.3 576.0,758.2 582.6,769.2 588.1,780.2 593.6,793.4 598.0,804.4 602.4,815.4 609.0,830.8 614.5,844.1 621.1,856.2 626.6,868.3 633.2,881.5 640.9,894.7 648.6,905.7 653.0,913.4 660.7,923.3 667.3,932.1 675.0,940.9 682.7,950.8 691.5,961.8 698.1,973.9 701.0,979.7 710.9,993.3 720.8,1008.1 730.7,1021.7 740.6,1034.1 750.5,1045.3 760.4,1056.4 770.3,1067.5 780.2,1077.5 790.1,1086.1 800.0,1092.8 808.7,1096.8 816.1,1094.8 822.3,1087.4 827.3,1075.0 832.2,1060.1 838.4,1047.7 844.6,1036.6 850.8,1031.6 857.0,1029.2 864.4,1034.1 873.1,1034.1 876.3,1042.8 879.3,1057.6 883.0,1072.5 886.7,1087.4 891.7,1099.7 896.1,1107.2 900.3,1102.2 905.3,1093.5 910.2,1091.8 915.2,1099.7 918.9,1112.1 921.4,1129.4 925.1,1144.3 928.8,1155.4 936.2,1165.3 943.6,1175.3 951.1,1183.9 961.0,1190.1 973.4,1196.3 988.2,1203.7 1003.1,1208.2 1015.5,1212.4" stroke-width="2.2"/>
<polyline points="195.1,1174.1 209.1,1173.6 211.8,1171.4 218.0,1172.8 227.0,1170.5 234.1,1173.2 238.6,1166.0 243.1,1170.5 248.1,1165.1 252.9,1171.4 255.6,1154.4 258.3,1151.7 261.8,1174.1 264.5,1159.8 268.4,1156.2 273.8,1167.8 277.9,1151.7 284.2,1166.0 286.3,1124.9 289.2,1120.4 291.7,1175.9 295.8,1149.9 298.5,1144.6 303.0,1163.4 307.1,1142.8 310.1,1141.9 314.6,1166.9 317.8,1144.6 322.6,1141.9 326.2,1161.6 334.3,1149.1 338.2,1158.0 341.4,1143.7 346.4,1150.8 350.3,1137.4 353.0,1115.1 358.4,1146.4 362.9,1121.3 367.3,1141.9 371.8,1131.2 375.0,1132.1 377.2,1106.1 382.2,1125.8 384.3,1110.6 387.9,1111.5 391.1,1078.4 395.1,1092.7 398.6,1064.1 399.9,1045.6 405.4,1057.7 409.8,1051.1 412.0,1037.9 415.3,1033.5 416.0,1011.5 419.7,1035.7 424.1,1018.1 427.0,1002.7 428.5,980.7 430.1,976.3 432.9,998.3 435.1,969.7 438.9,965.3 441.7,956.5 445.0,954.3 447.2,943.3 450.5,927.9 453.8,921.3 455.6,903.7 458.7,908.1 460.9,897.1 463.7,888.3 465.9,875.1 468.1,864.1 471.9,870.7 474.7,859.7 476.9,850.9 481.3,839.9 485.7,835.5 489.0,824.4 493.0,811.2 497.8,802.4 501.8,790.3 505.5,782.6 508.8,773.8 513.2,767.2 516.6,757.3 522.1,748.5 528.7,739.7 535.3,736.4 544.1,733.1 552.9,736.9 560.6,741.9 568.3,750.7 576.0,760.6 582.6,771.6 588.1,782.6 593.6,795.8 598.0,806.8 602.4,817.8 609.0,833.2 614.5,846.5 621.1,858.6 626.6,870.7 633.2,883.9 640.9,897.1 648.6,908.1 653.0,915.8 660.7,925.7 667.3,934.5 675.0,943.3 682.7,953.2 691.5,964.2 698.1,976.3 701.0,982.1 710.9,995.7 720.8,1010.5 730.7,1024.1 740.6,1036.5 750.5,1047.7 760.4,1058.8 770.3,1069.9 780.2,1079.9 790.1,1088.5 800.0,1095.2 808.7,1099.2 816.1,1097.2 822.3,1089.8 827.3,1077.4 832.2,1062.5 838.4,1050.1 844.6,1039.0 850.8,1034.0 857.0,1031.6 864.4,1036.5 873.1,1036.5 876.3,1045.2 879.3,1060.0 883.0,1074.9 886.7,1089.8 891.7,1102.1 896.1,1109.6 900.3,1104.6 905.3,1095.9 910.2,1094.2 915.2,1102.1 918.9,1114.5 921.4,1131.8 925.1,1146.7 928.8,1157.8 936.2,1167.7 943.6,1177.7 951.1,1186.3 961.0,1192.5 973.4,1198.7 988.2,1206.1 1003.1,1210.6 1015.5,1214.8" stroke-width="2.2"/>
</g>
<g fill="none" stroke="#be00c8" stroke-linejoin="round" stroke-linecap="butt">
<polyline points="1043.4,1233.4 1071.3,1234.8 1091.9,1235.9 1116.7,1236.5 1133.2,1236.1 1145.5,1234.8 1157.9,1232.4 1168.2,1227.8 1178.6,1223.1 1186.8,1215.8 1193.0,1208.6 1199.2,1201.4 1205.4,1192.1 1210.5,1183.9 1214.7,1172.5 1217.8,1160.1 1220.2,1143.6 1222.9,1125.1 1225.6,1108.6 1228.1,1092.0 1230.6,1075.5 1233.2,1059.0 1235.7,1046.7 1237.8,1042.1 1240.0,1048.7 1242.1,1067.3 1244.6,1087.9 1247.7,1112.7 1251.8,1129.2 1255.9,1141.6 1259.0,1147.8 1262.7,1149.4 1267.3,1143.6 1270.0,1142.3 1274.0,1128.4 1277.9,1112.6 1280.9,1092.8 1284.8,1080.9 1287.8,1065.1 1290.8,1059.5 1294.7,1059.2 1298.7,1067.1 1301.3,1082.9 1302.7,1102.7 1304.6,1120.5 1306.6,1136.4 1308.6,1156.2 1311.2,1172.0 1314.0,1183.9 1319.5,1188.2 1323.5,1184.9 1326.4,1176.0 1329.4,1166.1 1331.4,1146.3 1333.0,1132.4 1334.9,1125.5 1337.7,1136.4 1343.6,1136.8 1346.2,1144.7 1351.2,1144.7 1354.1,1134.4 1357.1,1124.5 1360.1,1108.6 1363.1,1096.8 1365.4,1080.9 1368.0,1069.1 1372.0,1059.2 1374.5,1045.3 1375.9,1021.5 1376.9,978.0 1377.9,918.6 1378.9,839.4 1380.1,839.4 1380.9,918.6 1381.5,978.0 1382.3,1037.4 1383.8,1053.2 1386.4,1062.1 1388.4,1051.2 1390.4,1035.4 1393.1,1029.9 1396.3,1037.4 1398.3,1053.2 1399.1,1077.0 1401.1,1100.7 1403.0,1120.5 1404.6,1144.3 1406.6,1156.2 1409.6,1168.0 1412.2,1183.9 1414.1,1199.7 1416.5,1211.6 1419.5,1217.5 1422.4,1225.5 1426.0,1231.0 1428.4,1225.5 1430.0,1213.6 1431.9,1205.3 1433.9,1219.5 1435.9,1233.4 1437.9,1243.3 1441.3,1246.2 1444.2,1241.3 1446.6,1239.7 1449.2,1247.2 1452.1,1250.2 1456.1,1246.2 1459.1,1251.2 1460.5,1259.1 1463.6,1264.1 1467.0,1259.1 1469.6,1251.2 1471.0,1237.3 1472.9,1231.8 1476.9,1231.8 1478.9,1243.3 1481.4,1251.6 1484.2,1246.2 1488.8,1246.2 1491.7,1253.2 1494.7,1257.1 1498.7,1256.1 1501.6,1260.1 1505.6,1262.1 1509.6,1261.5 1513.1,1254.2 1516.5,1253.2 1523.5,1254.4 1531.4,1244.0 1540.5,1233.5 1547.0,1238.7 1554.9,1232.2 1558.8,1212.6 1562.2,1195.6 1568.5,1192.2 1577.1,1201.6 1584.9,1199.5 1589.4,1186.5 1591.5,1165.6 1595.4,1174.7 1599.8,1173.9 1603.2,1187.8 1612.4,1183.9 1617.6,1180.7 1628.1,1179.1 1632.0,1171.3 1638.5,1175.5 1647.7,1160.3 1652.9,1140.7 1663.3,1137.3 1673.8,1126.4 1677.7,1108.1 1685.6,1106.8 1692.1,1092.4 1698.6,1074.1 1709.1,1063.1 1716.9,1072.0 1727.4,1080.6 1736.5,1088.5 1744.4,1084.5 1749.6,1074.1 1753.0,1050.6 1757.4,1027.0 1762.1,1021.8 1767.9,1028.3 1771.8,1048.0 1777.0,1068.9 1782.3,1089.8 1787.5,1105.4 1794.0,1118.5 1800.6,1129.0 1807.1,1139.4 1812.3,1153.8 1817.5,1162.4 1824.1,1161.6 1829.3,1147.3 1833.2,1146.0 1838.4,1152.5 1841.8,1173.4 1844.5,1196.9 1847.6,1215.2 1852.8,1227.0 1858.0,1234.8 1862.8,1236.1" stroke-width="4.5"/>
<polyline points="1042.2,1232.2 1070.1,1233.6 1090.7,1234.7 1115.5,1235.3 1132.0,1234.9 1144.3,1233.6 1156.7,1231.2 1167.0,1226.6 1177.4,1221.9 1185.6,1214.6 1191.8,1207.4 1198.0,1200.2 1204.2,1190.9 1209.3,1182.7 1213.5,1171.3 1216.6,1158.9 1219.0,1142.4 1221.7,1123.9 1224.4,1107.4 1226.9,1090.8 1229.4,1074.3 1232.0,1057.8 1234.5,1045.5 1236.6,1040.9 1238.8,1047.5 1240.9,1066.1 1243.4,1086.7 1246.5,1111.5 1250.6,1128.0 1254.7,1140.4 1257.8,1146.6 1261.5,1148.2 1266.1,1142.4 1268.8,1141.1 1272.8,1127.2 1276.7,1111.4 1279.7,1091.6 1283.6,1079.7 1286.6,1063.9 1289.6,1058.3 1293.5,1058.0 1297.5,1065.9 1300.1,1081.7 1301.5,1101.5 1303.4,1119.3 1305.4,1135.2 1307.4,1155.0 1310.0,1170.8 1312.8,1182.7 1318.3,1187.0 1322.3,1183.7 1325.2,1174.8 1328.2,1164.9 1330.2,1145.1 1331.8,1131.2 1333.7,1124.3 1336.5,1135.2 1342.4,1135.6 1345.0,1143.5 1350.0,1143.5 1352.9,1133.2 1355.9,1123.3 1358.9,1107.4 1361.9,1095.6 1364.2,1079.7 1366.8,1067.9 1370.8,1058.0 1373.3,1044.1 1374.7,1020.3 1375.7,976.8 1376.7,917.4 1377.7,838.2 1378.9,838.2 1379.7,917.4 1380.3,976.8 1381.1,1036.2 1382.6,1052.0 1385.2,1060.9 1387.2,1050.0 1389.2,1034.2 1391.9,1028.7 1395.1,1036.2 1397.1,1052.0 1397.9,1075.8 1399.9,1099.5 1401.8,1119.3 1403.4,1143.1 1405.4,1155.0 1408.4,1166.8 1411.0,1182.7 1412.9,1198.5 1415.3,1210.4 1418.3,1216.3 1421.2,1224.3 1424.8,1229.8 1427.2,1224.3 1428.8,1212.4 1430.7,1204.1 1432.7,1218.3 1434.7,1232.2 1436.7,1242.1 1440.1,1245.0 1443.0,1240.1 1445.4,1238.5 1448.0,1246.0 1450.9,1249.0 1454.9,1245.0 1457.9,1250.0 1459.3,1257.9 1462.4,1262.9 1465.8,1257.9 1468.4,1250.0 1469.8,1236.1 1471.7,1230.6 1475.7,1230.6 1477.7,1242.1 1480.2,1250.4 1483.0,1245.0 1487.6,1245.0 1490.5,1252.0 1493.5,1255.9 1497.5,1254.9 1500.4,1258.9 1504.4,1260.9 1508.4,1260.3 1511.9,1253.0 1515.3,1252.0 1522.3,1253.2 1530.2,1242.8 1539.3,1232.3 1545.8,1237.5 1553.7,1231.0 1557.6,1211.4 1561.0,1194.4 1567.3,1191.0 1575.9,1200.4 1583.7,1198.3 1588.2,1185.3 1590.3,1164.4 1594.2,1173.5 1598.6,1172.7 1602.0,1186.6 1611.2,1182.7 1616.4,1179.5 1626.9,1177.9 1630.8,1170.1 1637.3,1174.3 1646.5,1159.1 1651.7,1139.5 1662.1,1136.1 1672.6,1125.2 1676.5,1106.9 1684.4,1105.6 1690.9,1091.2 1697.4,1072.9 1707.9,1061.9 1715.7,1070.8 1726.2,1079.4 1735.3,1087.3 1743.2,1083.3 1748.4,1072.9 1751.8,1049.4 1756.2,1025.8 1760.9,1020.6 1766.7,1027.1 1770.6,1046.8 1775.8,1067.7 1781.1,1088.6 1786.3,1104.2 1792.8,1117.3 1799.4,1127.8 1805.9,1138.2 1811.1,1152.6 1816.3,1161.2 1822.9,1160.4 1828.1,1146.1 1832.0,1144.8 1837.2,1151.3 1840.6,1172.2 1843.3,1195.7 1846.4,1214.0 1851.6,1225.8 1856.8,1233.6 1861.6,1234.9" stroke-width="2.2"/>
<polyline points="1042.2,1234.6 1070.1,1236.0 1090.7,1237.1 1115.5,1237.7 1132.0,1237.3 1144.3,1236.0 1156.7,1233.6 1167.0,1229.0 1177.4,1224.3 1185.6,1217.0 1191.8,1209.8 1198.0,1202.6 1204.2,1193.3 1209.3,1185.1 1213.5,1173.7 1216.6,1161.3 1219.0,1144.8 1221.7,1126.3 1224.4,1109.8 1226.9,1093.2 1229.4,1076.7 1232.0,1060.2 1234.5,1047.9 1236.6,1043.3 1238.8,1049.9 1240.9,1068.5 1243.4,1089.1 1246.5,1113.9 1250.6,1130.4 1254.7,1142.8 1257.8,1149.0 1261.5,1150.6 1266.1,1144.8 1268.8,1143.5 1272.8,1129.6 1276.7,1113.8 1279.7,1094.0 1283.6,1082.1 1286.6,1066.3 1289.6,1060.7 1293.5,1060.4 1297.5,1068.3 1300.1,1084.1 1301.5,1103.9 1303.4,1121.7 1305.4,1137.6 1307.4,1157.4 1310.0,1173.2 1312.8,1185.1 1318.3,1189.4 1322.3,1186.1 1325.2,1177.2 1328.2,1167.3 1330.2,1147.5 1331.8,1133.6 1333.7,1126.7 1336.5,1137.6 1342.4,1138.0 1345.0,1145.9 1350.0,1145.9 1352.9,1135.6 1355.9,1125.7 1358.9,1109.8 1361.9,1098.0 1364.2,1082.1 1366.8,1070.3 1370.8,1060.4 1373.3,1046.5 1374.7,1022.7 1375.7,979.2 1376.7,919.8 1377.7,840.6 1378.9,840.6 1379.7,919.8 1380.3,979.2 1381.1,1038.6 1382.6,1054.4 1385.2,1063.3 1387.2,1052.4 1389.2,1036.6 1391.9,1031.1 1395.1,1038.6 1397.1,1054.4 1397.9,1078.2 1399.9,1101.9 1401.8,1121.7 1403.4,1145.5 1405.4,1157.4 1408.4,1169.2 1411.0,1185.1 1412.9,1200.9 1415.3,1212.8 1418.3,1218.7 1421.2,1226.7 1424.8,1232.2 1427.2,1226.7 1428.8,1214.8 1430.7,1206.5 1432.7,1220.7 1434.7,1234.6 1436.7,1244.5 1440.1,1247.4 1443.0,1242.5 1445.4,1240.9 1448.0,1248.4 1450.9,1251.4 1454.9,1247.4 1457.9,1252.4 1459.3,1260.3 1462.4,1265.3 1465.8,1260.3 1468.4,1252.4 1469.8,1238.5 1471.7,1233.0 1475.7,1233.0 1477.7,1244.5 1480.2,1252.8 1483.0,1247.4 1487.6,1247.4 1490.5,1254.4 1493.5,1258.3 1497.5,1257.3 1500.4,1261.3 1504.4,1263.3 1508.4,1262.7 1511.9,1255.4 1515.3,1254.4 1522.3,1255.6 1530.2,1245.2 1539.3,1234.7 1545.8,1239.9 1553.7,1233.4 1557.6,1213.8 1561.0,1196.8 1567.3,1193.4 1575.9,1202.8 1583.7,1200.7 1588.2,1187.7 1590.3,1166.8 1594.2,1175.9 1598.6,1175.1 1602.0,1189.0 1611.2,1185.1 1616.4,1181.9 1626.9,1180.3 1630.8,1172.5 1637.3,1176.7 1646.5,1161.5 1651.7,1141.9 1662.1,1138.5 1672.6,1127.6 1676.5,1109.3 1684.4,1108.0 1690.9,1093.6 1697.4,1075.3 1707.9,1064.3 1715.7,1073.2 1726.2,1081.8 1735.3,1089.7 1743.2,1085.7 1748.4,1075.3 1751.8,1051.8 1756.2,1028.2 1760.9,1023.0 1766.7,1029.5 1770.6,1049.2 1775.8,1070.1 1781.1,1091.0 1786.3,1106.6 1792.8,1119.7 1799.4,1130.2 1805.9,1140.6 1811.1,1155.0 1816.3,1163.6 1822.9,1162.8 1828.1,1148.5 1832.0,1147.2 1837.2,1153.7 1840.6,1174.6 1843.3,1198.1 1846.4,1216.4 1851.6,1228.2 1856.8,1236.0 1861.6,1237.3" stroke-width="2.2"/>
<polyline points="1044.6,1232.2 1072.5,1233.6 1093.1,1234.7 1117.9,1235.3 1134.4,1234.9 1146.7,1233.6 1159.1,1231.2 1169.4,1226.6 1179.8,1221.9 1188.0,1214.6 1194.2,1207.4 1200.4,1200.2 1206.6,1190.9 1211.7,1182.7 1215.9,1171.3 1219.0,1158.9 1221.4,1142.4 1224.1,1123.9 1226.8,1107.4 1229.3,1090.8 1231.8,1074.3 1234.4,1057.8 1236.9,1045.5 1239.0,1040.9 1241.2,1047.5 1243.3,1066.1 1245.8,1086.7 1248.9,1111.5 1253.0,1128.0 1257.1,1140.4 1260.2,1146.6 1263.9,1148.2 1268.5,1142.4 1271.2,1141.1 1275.2,1127.2 1279.1,1111.4 1282.1,1091.6 1286.0,1079.7 1289.0,1063.9 1292.0,1058.3 1295.9,1058.0 1299.9,1065.9 1302.5,1081.7 1303.9,1101.5 1305.8,1119.3 1307.8,1135.2 1309.8,1155.0 1312.4,1170.8 1315.2,1182.7 1320.7,1187.0 1324.7,1183.7 1327.6,1174.8 1330.6,1164.9 1332.6,1145.1 1334.2,1131.2 1336.1,1124.3 1338.9,1135.2 1344.8,1135.6 1347.4,1143.5 1352.4,1143.5 1355.3,1133.2 1358.3,1123.3 1361.3,1107.4 1364.3,1095.6 1366.6,1079.7 1369.2,1067.9 1373.2,1058.0 1375.7,1044.1 1377.1,1020.3 1378.1,976.8 1379.1,917.4 1380.1,838.2 1381.3,838.2 1382.1,917.4 1382.7,976.8 1383.5,1036.2 1385.0,1052.0 1387.6,1060.9 1389.6,1050.0 1391.6,1034.2 1394.3,1028.7 1397.5,1036.2 1399.5,1052.0 1400.3,1075.8 1402.3,1099.5 1404.2,1119.3 1405.8,1143.1 1407.8,1155.0 1410.8,1166.8 1413.4,1182.7 1415.3,1198.5 1417.7,1210.4 1420.7,1216.3 1423.6,1224.3 1427.2,1229.8 1429.6,1224.3 1431.2,1212.4 1433.1,1204.1 1435.1,1218.3 1437.1,1232.2 1439.1,1242.1 1442.5,1245.0 1445.4,1240.1 1447.8,1238.5 1450.4,1246.0 1453.3,1249.0 1457.3,1245.0 1460.3,1250.0 1461.7,1257.9 1464.8,1262.9 1468.2,1257.9 1470.8,1250.0 1472.2,1236.1 1474.1,1230.6 1478.1,1230.6 1480.1,1242.1 1482.6,1250.4 1485.4,1245.0 1490.0,1245.0 1492.9,1252.0 1495.9,1255.9 1499.9,1254.9 1502.8,1258.9 1506.8,1260.9 1510.8,1260.3 1514.3,1253.0 1517.7,1252.0 1524.7,1253.2 1532.6,1242.8 1541.7,1232.3 1548.2,1237.5 1556.1,1231.0 1560.0,1211.4 1563.4,1194.4 1569.7,1191.0 1578.3,1200.4 1586.1,1198.3 1590.6,1185.3 1592.7,1164.4 1596.6,1173.5 1601.0,1172.7 1604.4,1186.6 1613.6,1182.7 1618.8,1179.5 1629.3,1177.9 1633.2,1170.1 1639.7,1174.3 1648.9,1159.1 1654.1,1139.5 1664.5,1136.1 1675.0,1125.2 1678.9,1106.9 1686.8,1105.6 1693.3,1091.2 1699.8,1072.9 1710.3,1061.9 1718.1,1070.8 1728.6,1079.4 1737.7,1087.3 1745.6,1083.3 1750.8,1072.9 1754.2,1049.4 1758.6,1025.8 1763.3,1020.6 1769.1,1027.1 1773.0,1046.8 1778.2,1067.7 1783.5,1088.6 1788.7,1104.2 1795.2,1117.3 1801.8,1127.8 1808.3,1138.2 1813.5,1152.6 1818.7,1161.2 1825.3,1160.4 1830.5,1146.1 1834.4,1144.8 1839.6,1151.3 1843.0,1172.2 1845.7,1195.7 1848.8,1214.0 1854.0,1225.8 1859.2,1233.6 1864.0,1234.9" stroke-width="2.2"/>
<polyline points="1044.6,1234.6 1072.5,1236.0 1093.1,1237.1 1117.9,1237.7 1134.4,1237.3 1146.7,1236.0 1159.1,1233.6 1169.4,1229.0 1179.8,1224.3 1188.0,1217.0 1194.2,1209.8 1200.4,1202.6 1206.6,1193.3 1211.7,1185.1 1215.9,1173.7 1219.0,1161.3 1221.4,1144.8 1224.1,1126.3 1226.8,1109.8 1229.3,1093.2 1231.8,1076.7 1234.4,1060.2 1236.9,1047.9 1239.0,1043.3 1241.2,1049.9 1243.3,1068.5 1245.8,1089.1 1248.9,1113.9 1253.0,1130.4 1257.1,1142.8 1260.2,1149.0 1263.9,1150.6 1268.5,1144.8 1271.2,1143.5 1275.2,1129.6 1279.1,1113.8 1282.1,1094.0 1286.0,1082.1 1289.0,1066.3 1292.0,1060.7 1295.9,1060.4 1299.9,1068.3 1302.5,1084.1 1303.9,1103.9 1305.8,1121.7 1307.8,1137.6 1309.8,1157.4 1312.4,1173.2 1315.2,1185.1 1320.7,1189.4 1324.7,1186.1 1327.6,1177.2 1330.6,1167.3 1332.6,1147.5 1334.2,1133.6 1336.1,1126.7 1338.9,1137.6 1344.8,1138.0 1347.4,1145.9 1352.4,1145.9 1355.3,1135.6 1358.3,1125.7 1361.3,1109.8 1364.3,1098.0 1366.6,1082.1 1369.2,1070.3 1373.2,1060.4 1375.7,1046.5 1377.1,1022.7 1378.1,979.2 1379.1,919.8 1380.1,840.6 1381.3,840.6 1382.1,919.8 1382.7,979.2 1383.5,1038.6 1385.0,1054.4 1387.6,1063.3 1389.6,1052.4 1391.6,1036.6 1394.3,1031.1 1397.5,1038.6 1399.5,1054.4 1400.3,1078.2 1402.3,1101.9 1404.2,1121.7 1405.8,1145.5 1407.8,1157.4 1410.8,1169.2 1413.4,1185.1 1415.3,1200.9 1417.7,1212.8 1420.7,1218.7 1423.6,1226.7 1427.2,1232.2 1429.6,1226.7 1431.2,1214.8 1433.1,1206.5 1435.1,1220.7 1437.1,1234.6 1439.1,1244.5 1442.5,1247.4 1445.4,1242.5 1447.8,1240.9 1450.4,1248.4 1453.3,1251.4 1457.3,1247.4 1460.3,1252.4 1461.7,1260.3 1464.8,1265.3 1468.2,1260.3 1470.8,1252.4 1472.2,1238.5 1474.1,1233.0 1478.1,1233.0 1480.1,1244.5 1482.6,1252.8 1485.4,1247.4 1490.0,1247.4 1492.9,1254.4 1495.9,1258.3 1499.9,1257.3 1502.8,1261.3 1506.8,1263.3 1510.8,1262.7 1514.3,1255.4 1517.7,1254.4 1524.7,1255.6 1532.6,1245.2 1541.7,1234.7 1548.2,1239.9 1556.1,1233.4 1560.0,1213.8 1563.4,1196.8 1569.7,1193.4 1578.3,1202.8 1586.1,1200.7 1590.6,1187.7 1592.7,1166.8 1596.6,1175.9 1601.0,1175.1 1604.4,1189.0 1613.6,1185.1 1618.8,1181.9 1629.3,1180.3 1633.2,1172.5 1639.7,1176.7 1648.9,1161.5 1654.1,1141.9 1664.5,1138.5 1675.0,1127.6 1678.9,1109.3 1686.8,1108.0 1693.3,1093.6 1699.8,1075.3 1710.3,1064.3 1718.1,1073.2 1728.6,1081.8 1737.7,1089.7 1745.6,1085.7 1750.8,1075.3 1754.2,1051.8 1758.6,1028.2 1763.3,1023.0 1769.1,1029.5 1773.0,1049.2 1778.2,1070.1 1783.5,1091.0 1788.7,1106.6 1795.2,1119.7 1801.8,1130.2 1808.3,1140.6 1813.5,1155.0 1818.7,1163.6 1825.3,1162.8 1830.5,1148.5 1834.4,1147.2 1839.6,1153.7 1843.0,1174.6 1845.7,1198.1 1848.8,1216.4 1854.0,1228.2 1859.2,1236.0 1864.0,1237.3" stroke-width="2.2"/>
</g>
<g fill="none" stroke="#ff0000" stroke-linejoin="round" stroke-linecap="butt">
<polyline points="194.5,1770.9 210.6,1770.9 212.7,1772.9 239.5,1772.9 242.6,1775.0 247.8,1773.5 255.0,1770.5 259.1,1776.2 265.3,1772.9 271.5,1775.0 275.6,1772.5 281.8,1776.2 285.3,1768.8 290.1,1778.7 295.2,1770.9 301.4,1778.3 306.6,1772.5 311.7,1777.1 318.3,1770.9 324.1,1777.7 330.3,1772.5 342.7,1771.5 350.9,1765.3 356.1,1772.5 360.2,1765.9 365.4,1768.0 371.6,1763.2 374.7,1757.0 380.9,1757.0 386.0,1749.8 389.1,1741.6 394.3,1740.5 397.4,1725.1 403.5,1722.0 406.6,1712.7 409.7,1698.2 413.9,1685.9 415.9,1679.7 420.1,1675.5 422.1,1663.2 425.2,1646.7 428.3,1635.3 432.4,1626.0 434.5,1613.6 437.6,1601.3 440.7,1590.9 443.8,1578.6 446.9,1566.2 448.3,1560.0 451.6,1540.3 455.1,1528.6 458.6,1516.9 462.1,1502.9 465.6,1490.0 470.3,1483.0 475.0,1470.2 479.6,1463.1 485.5,1458.5 492.5,1451.4 501.8,1444.4 511.2,1437.4 520.6,1431.6 529.9,1429.2 539.3,1430.4 547.4,1433.9 555.6,1439.8 562.6,1447.9 569.7,1456.1 576.7,1465.5 583.7,1477.2 590.7,1488.9 597.7,1505.2 604.7,1516.9 611.7,1530.9 618.8,1545.0 625.8,1559.0 635.1,1573.0 643.3,1584.7 651.5,1598.8 660.9,1610.5 670.2,1622.1 679.6,1633.8 692.4,1653.9 704.8,1670.0 717.1,1686.1 729.5,1699.7 741.9,1713.3 754.3,1725.7 766.7,1738.1 779.0,1749.2 791.4,1757.9 803.8,1766.5 816.2,1775.2 826.1,1779.7 834.7,1778.9 839.7,1772.7 843.4,1760.4 846.4,1745.5 849.6,1731.9 852.8,1729.4 855.8,1738.1 858.8,1749.2 862.0,1738.1 864.5,1723.2 866.9,1698.5 870.2,1668.7 872.6,1639.0 874.4,1609.3 876.3,1592.0 878.1,1611.8 879.3,1653.9 881.0,1698.5 883.5,1728.2 886.7,1748.0 891.7,1767.8 895.4,1780.2 899.1,1790.6 904.1,1785.1 909.0,1783.9 912.2,1767.8 914.7,1743.0 917.2,1713.3 919.2,1694.7 921.2,1718.3 922.6,1750.5 924.6,1777.7 926.4,1802.4 928.8,1817.3 932.5,1828.4 940.0,1835.9 949.9,1842.1 962.3,1847.0 977.1,1851.5 992.0,1854.4 1004.3,1857.4 1014.7,1860.6" stroke-width="4.5"/>
<polyline points="193.3,1769.7 209.4,1769.7 211.5,1771.7 238.3,1771.7 241.4,1773.8 246.6,1772.3 253.8,1769.3 257.9,1775.0 264.1,1771.7 270.3,1773.8 274.4,1771.3 280.6,1775.0 284.1,1767.6 288.9,1777.5 294.0,1769.7 300.2,1777.1 305.4,1771.3 310.5,1775.9 317.1,1769.7 322.9,1776.5 329.1,1771.3 341.5,1770.3 349.7,1764.1 354.9,1771.3 359.0,1764.7 364.2,1766.8 370.4,1762.0 373.5,1755.8 379.7,1755.8 384.8,1748.6 387.9,1740.4 393.1,1739.3 396.2,1723.9 402.3,1720.8 405.4,1711.5 408.5,1697.0 412.7,1684.7 414.7,1678.5 418.9,1674.3 420.9,1662.0 424.0,1645.5 427.1,1634.1 431.2,1624.8 433.3,1612.4 436.4,1600.1 439.5,1589.7 442.6,1577.4 445.7,1565.0 447.1,1558.8 450.4,1539.1 453.9,1527.4 457.4,1515.7 460.9,1501.7 464.4,1488.8 469.1,1481.8 473.8,1469.0 478.4,1461.9 484.3,1457.3 491.3,1450.2 500.6,1443.2 510.0,1436.2 519.4,1430.4 528.7,1428.0 538.1,1429.2 546.2,1432.7 554.4,1438.6 561.4,1446.7 568.5,1454.9 575.5,1464.3 582.5,1476.0 589.5,1487.7 596.5,1504.0 603.5,1515.7 610.5,1529.7 617.6,1543.8 624.6,1557.8 633.9,1571.8 642.1,1583.5 650.3,1597.6 659.7,1609.3 669.0,1620.9 678.4,1632.6 691.2,1652.7 703.6,1668.8 715.9,1684.9 728.3,1698.5 740.7,1712.1 753.1,1724.5 765.5,1736.9 777.8,1748.0 790.2,1756.7 802.6,1765.3 815.0,1774.0 824.9,1778.5 833.5,1777.7 838.5,1771.5 842.2,1759.2 845.2,1744.3 848.4,1730.7 851.6,1728.2 854.6,1736.9 857.6,1748.0 860.8,1736.9 863.3,1722.0 865.7,1697.3 869.0,1667.5 871.4,1637.8 873.2,1608.1 875.1,1590.8 876.9,1610.6 878.1,1652.7 879.8,1697.3 882.3,1727.0 885.5,1746.8 890.5,1766.6 894.2,1779.0 897.9,1789.4 902.9,1783.9 907.8,1782.7 911.0,1766.6 913.5,1741.8 916.0,1712.1 918.0,1693.5 920.0,1717.1 921.4,1749.3 923.4,1776.5 925.2,1801.2 927.6,1816.1 931.3,1827.2 938.8,1834.7 948.7,1840.9 961.1,1845.8 975.9,1850.3 990.8,1853.2 1003.1,1856.2 1013.5,1859.4" stroke-width="2.2"/>
<polyline points="193.3,1772.1 209.4,1772.1 211.5,1774.1 238.3,1774.1 241.4,1776.2 246.6,1774.7 253.8,1771.7 257.9,1777.4 264.1,1774.1 270.3,1776.2 274.4,1773.7 280.6,1777.4 284.1,1770.0 288.9,1779.9 294.0,1772.1 300.2,1779.5 305.4,1773.7 310.5,1778.3 317.1,1772.1 322.9,1778.9 329.1,1773.7 341.5,1772.7 349.7,1766.5 354.9,1773.7 359.0,1767.1 364.2,1769.2 370.4,1764.4 373.5,1758.2 379.7,1758.2 384.8,1751.0 387.9,1742.8 393.1,1741.7 396.2,1726.3 402.3,1723.2 405.4,1713.9 408.5,1699.4 412.7,1687.1 414.7,1680.9 418.9,1676.7 420.9,1664.4 424.0,1647.9 427.1,1636.5 431.2,1627.2 433.3,1614.8 436.4,1602.5 439.5,1592.1 442.6,1579.8 445.7,1567.4 447.1,1561.2 450.4,1541.5 453.9,1529.8 457.4,1518.1 460.9,1504.1 464.4,1491.2 469.1,1484.2 473.8,1471.4 478.4,1464.3 484.3,1459.7 491.3,1452.6 500.6,1445.6 510.0,1438.6 519.4,1432.8 528.7,1430.4 538.1,1431.6 546.2,1435.1 554.4,1441.0 561.4,1449.1 568.5,1457.3 575.5,1466.7 582.5,1478.4 589.5,1490.1 596.5,1506.4 603.5,1518.1 610.5,1532.1 617.6,1546.2 624.6,1560.2 633.9,1574.2 642.1,1585.9 650.3,1600.0 659.7,1611.7 669.0,1623.3 678.4,1635.0 691.2,1655.1 703.6,1671.2 715.9,1687.3 728.3,1700.9 740.7,1714.5 753.1,1726.9 765.5,1739.3 777.8,1750.4 790.2,1759.1 802.6,1767.7 815.0,1776.4 824.9,1780.9 833.5,1780.1 838.5,1773.9 842.2,1761.6 845.2,1746.7 848.4,1733.1 851.6,1730.6 854.6,1739.3 857.6,1750.4 860.8,1739.3 863.3,1724.4 865.7,1699.7 869.0,1669.9 871.4,1640.2 873.2,1610.5 875.1,1593.2 876.9,1613.0 878.1,1655.1 879.8,1699.7 882.3,1729.4 885.5,1749.2 890.5,1769.0 894.2,1781.4 897.9,1791.8 902.9,1786.3 907.8,1785.1 911.0,1769.0 913.5,1744.2 916.0,1714.5 918.0,1695.9 920.0,1719.5 921.4,1751.7 923.4,1778.9 925.2,1803.6 927.6,1818.5 931.3,1829.6 938.8,1837.1 948.7,1843.3 961.1,1848.2 975.9,1852.7 990.8,1855.6 1003.1,1858.6 1013.5,1861.8" stroke-width="2.2"/>
<polyline points="195.7,1769.7 211.8,1769.7 213.9,1771.7 240.7,1771.7 243.8,1773.8 249.0,1772.3 256.2,1769.3 260.3,1775.0 266.5,1771.7 272.7,1773.8 276.8,1771.3 283.0,1775.0 286.5,1767.6 291.3,1777.5 296.4,1769.7 302.6,1777.1 307.8,1771.3 312.9,1775.9 319.5,1769.7 325.3,1776.5 331.5,1771.3 343.9,1770.3 352.1,1764.1 357.3,1771.3 361.4,1764.7 366.6,1766.8 372.8,1762.0 375.9,1755.8 382.1,1755.8 387.2,1748.6 390.3,1740.4 395.5,1739.3 398.6,1723.9 404.7,1720.8 407.8,1711.5 410.9,1697.0 415.1,1684.7 417.1,1678.5 421.3,1674.3 423.3,1662.0 426.4,1645.5 429.5,1634.1 433.6,1624.8 435.7,1612.4 438.8,1600.1 441.9,1589.7 445.0,1577.4 448.1,1565.0 449.5,1558.8 452.8,1539.1 456.3,1527.4 459.8,1515.7 463.3,1501.7 466.8,1488.8 471.5,1481.8 476.2,1469.0 480.8,1461.9 486.7,1457.3 493.7,1450.2 503.0,1443.2 512.4,1436.2 521.8,1430.4 531.1,1428.0 540.5,1429.2 548.6,1432.7 556.8,1438.6 563.8,1446.7 570.9,1454.9 577.9,1464.3 584.9,1476.0 591.9,1487.7 598.9,1504.0 605.9,1515.7 612.9,1529.7 620.0,1543.8 627.0,1557.8 636.3,1571.8 644.5,1583.5 652.7,1597.6 662.1,1609.3 671.4,1620.9 680.8,1632.6 693.6,1652.7 706.0,1668.8 718.3,1684.9 730.7,1698.5 743.1,1712.1 755.5,1724.5 767.9,1736.9 780.2,1748.0 792.6,1756.7 805.0,1765.3 817.4,1774.0 827.3,1778.5 835.9,1777.7 840.9,1771.5 844.6,1759.2 847.6,1744.3 850.8,1730.7 854.0,1728.2 857.0,1736.9 860.0,1748.0 863.2,1736.9 865.7,1722.0 868.1,1697.3 871.4,1667.5 873.8,1637.8 875.6,1608.1 877.5,1590.8 879.3,1610.6 880.5,1652.7 882.2,1697.3 884.7,1727.0 887.9,1746.8 892.9,1766.6 896.6,1779.0 900.3,1789.4 905.3,1783.9 910.2,1782.7 913.4,1766.6 915.9,1741.8 918.4,1712.1 920.4,1693.5 922.4,1717.1 923.8,1749.3 925.8,1776.5 927.6,1801.2 930.0,1816.1 933.7,1827.2 941.2,1834.7 951.1,1840.9 963.5,1845.8 978.3,1850.3 993.2,1853.2 1005.5,1856.2 1015.9,1859.4" stroke-width="2.2"/>
<polyline points="195.7,1772.1 211.8,1772.1 213.9,1774.1 240.7,1774.1 243.8,1776.2 249.0,1774.7 256.2,1771.7 260.3,1777.4 266.5,1774.1 272.7,1776.2 276.8,1773.7 283.0,1777.4 286.5,1770.0 291.3,1779.9 296.4,1772.1 302.6,1779.5 307.8,1773.7 312.9,1778.3 319.5,1772.1 325.3,1778.9 331.5,1773.7 343.9,1772.7 352.1,1766.5 357.3,1773.7 361.4,1767.1 366.6,1769.2 372.8,1764.4 375.9,1758.2 382.1,1758.2 387.2,1751.0 390.3,1742.8 395.5,1741.7 398.6,1726.3 404.7,1723.2 407.8,1713.9 410.9,1699.4 415.1,1687.1 417.1,1680.9 421.3,1676.7 423.3,1664.4 426.4,1647.9 429.5,1636.5 433.6,1627.2 435.7,1614.8 438.8,1602.5 441.9,1592.1 445.0,1579.8 448.1,1567.4 449.5,1561.2 452.8,1541.5 456.3,1529.8 459.8,1518.1 463.3,1504.1 466.8,1491.2 471.5,1484.2 476.2,1471.4 480.8,1464.3 486.7,1459.7 493.7,1452.6 503.0,1445.6 512.4,1438.6 521.8,1432.8 531.1,1430.4 540.5,1431.6 548.6,1435.1 556.8,1441.0 563.8,1449.1 570.9,1457.3 577.9,1466.7 584.9,1478.4 591.9,1490.1 598.9,1506.4 605.9,1518.1 612.9,1532.1 620.0,1546.2 627.0,1560.2 636.3,1574.2 644.5,1585.9 652.7,1600.0 662.1,1611.7 671.4,1623.3 680.8,1635.0 693.6,1655.1 706.0,1671.2 718.3,1687.3 730.7,1700.9 743.1,1714.5 755.5,1726.9 767.9,1739.3 780.2,1750.4 792.6,1759.1 805.0,1767.7 817.4,1776.4 827.3,1780.9 835.9,1780.1 840.9,1773.9 844.6,1761.6 847.6,1746.7 850.8,1733.1 854.0,1730.6 857.0,1739.3 860.0,1750.4 863.2,1739.3 865.7,1724.4 868.1,1699.7 871.4,1669.9 873.8,1640.2 875.6,1610.5 877.5,1593.2 879.3,1613.0 880.5,1655.1 882.2,1699.7 884.7,1729.4 887.9,1749.2 892.9,1769.0 896.6,1781.4 900.3,1791.8 905.3,1786.3 910.2,1785.1 913.4,1769.0 915.9,1744.2 918.4,1714.5 920.4,1695.9 922.4,1719.5 923.8,1751.7 925.8,1778.9 927.6,1803.6 930.0,1818.5 933.7,1829.6 941.2,1837.1 951.1,1843.3 963.5,1848.2 978.3,1852.7 993.2,1855.6 1005.5,1858.6 1015.9,1861.8" stroke-width="2.2"/>
</g>
<g fill="none" stroke="#ff0000" stroke-linejoin="round" stroke-linecap="butt">
<polyline points="1043.4,1905.4 1063.0,1905.8 1065.1,1907.4 1087.8,1907.8 1091.9,1909.5 1116.7,1909.9 1137.3,1909.5 1145.5,1907.8 1160.0,1907.4 1166.2,1903.3 1174.4,1902.3 1180.6,1897.1 1186.8,1890.9 1193.0,1883.7 1198.2,1873.4 1202.3,1862.0 1205.4,1849.7 1208.5,1837.3 1212.6,1827.0 1215.7,1818.7 1220.9,1810.5 1225.0,1805.3 1230.1,1800.1 1235.3,1789.8 1240.0,1781.6 1243.5,1769.2 1247.7,1759.9 1251.8,1756.8 1259.0,1756.8 1264.2,1754.7 1269.3,1757.8 1272.4,1765.1 1275.1,1781.6 1277.6,1798.1 1280.1,1816.6 1282.8,1831.1 1285.4,1847.6 1288.9,1860.0 1293.1,1866.2 1297.8,1868.2 1300.0,1867.2 1307.2,1862.0 1310.7,1853.8 1312.8,1837.3 1315.5,1818.7 1317.5,1814.6 1319.6,1822.8 1321.7,1839.3 1323.7,1851.7 1325.2,1866.2 1329.9,1862.0 1332.6,1847.6 1334.7,1846.6 1336.7,1860.0 1338.8,1868.2 1344.4,1865.1 1348.5,1859.6 1355.7,1858.9 1360.9,1850.7 1367.1,1843.5 1373.2,1837.3 1376.8,1827.0 1378.0,1789.8 1378.8,1744.4 1380.9,1743.4 1381.7,1789.8 1382.5,1824.9 1385.0,1835.2 1387.7,1843.5 1391.8,1845.9 1397.0,1846.6 1401.1,1853.8 1405.2,1864.1 1408.9,1872.4 1413.1,1877.5 1418.6,1871.3 1424.8,1863.1 1429.0,1847.6 1433.1,1833.1 1436.2,1818.7 1439.3,1802.2 1442.4,1789.8 1444.8,1775.4 1448.6,1775.0 1452.7,1780.5 1456.8,1780.5 1460.9,1773.3 1464.0,1760.9 1468.2,1752.7 1473.3,1748.1 1477.4,1749.6 1479.9,1758.9 1482.0,1775.4 1484.0,1789.8 1486.7,1810.5 1489.8,1827.0 1492.3,1839.3 1495.6,1849.7 1501.2,1853.8 1506.3,1860.0 1510.5,1867.2 1514.6,1868.2 1517.7,1855.8 1520.4,1843.5 1524.5,1842.4 1526.5,1853.8 1529.0,1864.1 1532.1,1866.2 1534.8,1857.9 1537.3,1865.1 1539.8,1866.6 1543.5,1862.0 1546.6,1845.5 1549.7,1829.0 1551.7,1808.4 1553.4,1775.4 1554.8,1752.7 1556.3,1753.7 1557.1,1785.7 1558.9,1814.6 1561.0,1829.0 1563.1,1841.4 1567.2,1851.7 1570.7,1860.0 1575.5,1849.8 1578.4,1828.9 1580.6,1824.5 1582.8,1837.7 1585.0,1847.6 1588.0,1842.1 1590.2,1824.5 1592.0,1806.9 1596.4,1803.6 1598.6,1794.8 1601.9,1805.8 1604.8,1795.9 1606.3,1811.3 1608.5,1828.9 1611.8,1838.8 1616.2,1846.5 1619.5,1852.0 1622.8,1855.3 1626.8,1853.1 1629.9,1845.4 1633.8,1842.1 1640.4,1843.2 1645.9,1836.6 1650.3,1827.8 1655.8,1820.1 1660.2,1809.1 1664.6,1799.2 1667.9,1789.3 1670.8,1776.1 1673.0,1762.9 1675.2,1749.7 1676.7,1734.3 1678.9,1728.7 1682.2,1732.0 1685.5,1742.0 1693.2,1742.6 1702.0,1742.0 1710.9,1736.5 1717.5,1727.6 1724.1,1722.1 1729.6,1716.6 1735.1,1708.9 1738.4,1699.0 1740.6,1689.1 1745.0,1693.5 1749.4,1689.1 1752.7,1679.2 1756.0,1670.4 1758.8,1662.7 1763.2,1659.4 1768.1,1663.8 1772.5,1670.4 1776.9,1675.9 1781.3,1684.7 1786.8,1692.4 1791.2,1701.2 1793.4,1714.4 1796.7,1727.6 1800.0,1734.3 1803.3,1743.1 1807.7,1746.4 1811.0,1740.9 1814.7,1739.8 1817.6,1746.4 1820.9,1754.1 1830.8,1754.1 1834.1,1760.7 1837.4,1769.5 1840.7,1780.5 1844.0,1791.5 1848.4,1797.0 1853.9,1801.4 1861.6,1804.2" stroke-width="4.5"/>
<polyline points="1042.2,1904.2 1061.8,1904.6 1063.9,1906.2 1086.6,1906.6 1090.7,1908.3 1115.5,1908.7 1136.1,1908.3 1144.3,1906.6 1158.8,1906.2 1165.0,1902.1 1173.2,1901.1 1179.4,1895.9 1185.6,1889.7 1191.8,1882.5 1197.0,1872.2 1201.1,1860.8 1204.2,1848.5 1207.3,1836.1 1211.4,1825.8 1214.5,1817.5 1219.7,1809.3 1223.8,1804.1 1228.9,1798.9 1234.1,1788.6 1238.8,1780.4 1242.3,1768.0 1246.5,1758.7 1250.6,1755.6 1257.8,1755.6 1263.0,1753.5 1268.1,1756.6 1271.2,1763.9 1273.9,1780.4 1276.4,1796.9 1278.9,1815.4 1281.6,1829.9 1284.2,1846.4 1287.7,1858.8 1291.9,1865.0 1296.6,1867.0 1298.8,1866.0 1306.0,1860.8 1309.5,1852.6 1311.6,1836.1 1314.3,1817.5 1316.3,1813.4 1318.4,1821.6 1320.5,1838.1 1322.5,1850.5 1324.0,1865.0 1328.7,1860.8 1331.4,1846.4 1333.5,1845.4 1335.5,1858.8 1337.6,1867.0 1343.2,1863.9 1347.3,1858.4 1354.5,1857.7 1359.7,1849.5 1365.9,1842.3 1372.0,1836.1 1375.6,1825.8 1376.8,1788.6 1377.6,1743.2 1379.7,1742.2 1380.5,1788.6 1381.3,1823.7 1383.8,1834.0 1386.5,1842.3 1390.6,1844.7 1395.8,1845.4 1399.9,1852.6 1404.0,1862.9 1407.7,1871.2 1411.9,1876.3 1417.4,1870.1 1423.6,1861.9 1427.8,1846.4 1431.9,1831.9 1435.0,1817.5 1438.1,1801.0 1441.2,1788.6 1443.6,1774.2 1447.4,1773.8 1451.5,1779.3 1455.6,1779.3 1459.7,1772.1 1462.8,1759.7 1467.0,1751.5 1472.1,1746.9 1476.2,1748.4 1478.7,1757.7 1480.8,1774.2 1482.8,1788.6 1485.5,1809.3 1488.6,1825.8 1491.1,1838.1 1494.4,1848.5 1500.0,1852.6 1505.1,1858.8 1509.3,1866.0 1513.4,1867.0 1516.5,1854.6 1519.2,1842.3 1523.3,1841.2 1525.3,1852.6 1527.8,1862.9 1530.9,1865.0 1533.6,1856.7 1536.1,1863.9 1538.6,1865.4 1542.3,1860.8 1545.4,1844.3 1548.5,1827.8 1550.5,1807.2 1552.2,1774.2 1553.6,1751.5 1555.1,1752.5 1555.9,1784.5 1557.7,1813.4 1559.8,1827.8 1561.9,1840.2 1566.0,1850.5 1569.5,1858.8 1574.3,1848.6 1577.2,1827.7 1579.4,1823.3 1581.6,1836.5 1583.8,1846.4 1586.8,1840.9 1589.0,1823.3 1590.8,1805.7 1595.2,1802.4 1597.4,1793.6 1600.7,1804.6 1603.6,1794.7 1605.1,1810.1 1607.3,1827.7 1610.6,1837.6 1615.0,1845.3 1618.3,1850.8 1621.6,1854.1 1625.6,1851.9 1628.7,1844.2 1632.6,1840.9 1639.2,1842.0 1644.7,1835.4 1649.1,1826.6 1654.6,1818.9 1659.0,1807.9 1663.4,1798.0 1666.7,1788.1 1669.6,1774.9 1671.8,1761.7 1674.0,1748.5 1675.5,1733.1 1677.7,1727.5 1681.0,1730.8 1684.3,1740.8 1692.0,1741.4 1700.8,1740.8 1709.7,1735.3 1716.3,1726.4 1722.9,1720.9 1728.4,1715.4 1733.9,1707.7 1737.2,1697.8 1739.4,1687.9 1743.8,1692.3 1748.2,1687.9 1751.5,1678.0 1754.8,1669.2 1757.6,1661.5 1762.0,1658.2 1766.9,1662.6 1771.3,1669.2 1775.7,1674.7 1780.1,1683.5 1785.6,1691.2 1790.0,1700.0 1792.2,1713.2 1795.5,1726.4 1798.8,1733.1 1802.1,1741.9 1806.5,1745.2 1809.8,1739.7 1813.5,1738.6 1816.4,1745.2 1819.7,1752.9 1829.6,1752.9 1832.9,1759.5 1836.2,1768.3 1839.5,1779.3 1842.8,1790.3 1847.2,1795.8 1852.7,1800.2 1860.4,1803.0" stroke-width="2.2"/>
<polyline points="1042.2,1906.6 1061.8,1907.0 1063.9,1908.6 1086.6,1909.0 1090.7,1910.7 1115.5,1911.1 1136.1,1910.7 1144.3,1909.0 1158.8,1908.6 1165.0,1904.5 1173.2,1903.5 1179.4,1898.3 1185.6,1892.1 1191.8,1884.9 1197.0,1874.6 1201.1,1863.2 1204.2,1850.9 1207.3,1838.5 1211.4,1828.2 1214.5,1819.9 1219.7,1811.7 1223.8,1806.5 1228.9,1801.3 1234.1,1791.0 1238.8,1782.8 1242.3,1770.4 1246.5,1761.1 1250.6,1758.0 1257.8,1758.0 1263.0,1755.9 1268.1,1759.0 1271.2,1766.3 1273.9,1782.8 1276.4,1799.3 1278.9,1817.8 1281.6,1832.3 1284.2,1848.8 1287.7,1861.2 1291.9,1867.4 1296.6,1869.4 1298.8,1868.4 1306.0,1863.2 1309.5,1855.0 1311.6,1838.5 1314.3,1819.9 1316.3,1815.8 1318.4,1824.0 1320.5,1840.5 1322.5,1852.9 1324.0,1867.4 1328.7,1863.2 1331.4,1848.8 1333.5,1847.8 1335.5,1861.2 1337.6,1869.4 1343.2,1866.3 1347.3,1860.8 1354.5,1860.1 1359.7,1851.9 1365.9,1844.7 1372.0,1838.5 1375.6,1828.2 1376.8,1791.0 1377.6,1745.6 1379.7,1744.6 1380.5,1791.0 1381.3,1826.1 1383.8,1836.4 1386.5,1844.7 1390.6,1847.1 1395.8,1847.8 1399.9,1855.0 1404.0,1865.3 1407.7,1873.6 1411.9,1878.7 1417.4,1872.5 1423.6,1864.3 1427.8,1848.8 1431.9,1834.3 1435.0,1819.9 1438.1,1803.4 1441.2,1791.0 1443.6,1776.6 1447.4,1776.2 1451.5,1781.7 1455.6,1781.7 1459.7,1774.5 1462.8,1762.1 1467.0,1753.9 1472.1,1749.3 1476.2,1750.8 1478.7,1760.1 1480.8,1776.6 1482.8,1791.0 1485.5,1811.7 1488.6,1828.2 1491.1,1840.5 1494.4,1850.9 1500.0,1855.0 1505.1,1861.2 1509.3,1868.4 1513.4,1869.4 1516.5,1857.0 1519.2,1844.7 1523.3,1843.6 1525.3,1855.0 1527.8,1865.3 1530.9,1867.4 1533.6,1859.1 1536.1,1866.3 1538.6,1867.8 1542.3,1863.2 1545.4,1846.7 1548.5,1830.2 1550.5,1809.6 1552.2,1776.6 1553.6,1753.9 1555.1,1754.9 1555.9,1786.9 1557.7,1815.8 1559.8,1830.2 1561.9,1842.6 1566.0,1852.9 1569.5,1861.2 1574.3,1851.0 1577.2,1830.1 1579.4,1825.7 1581.6,1838.9 1583.8,1848.8 1586.8,1843.3 1589.0,1825.7 1590.8,1808.1 1595.2,1804.8 1597.4,1796.0 1600.7,1807.0 1603.6,1797.1 1605.1,1812.5 1607.3,1830.1 1610.6,1840.0 1615.0,1847.7 1618.3,1853.2 1621.6,1856.5 1625.6,1854.3 1628.7,1846.6 1632.6,1843.3 1639.2,1844.4 1644.7,1837.8 1649.1,1829.0 1654.6,1821.3 1659.0,1810.3 1663.4,1800.4 1666.7,1790.5 1669.6,1777.3 1671.8,1764.1 1674.0,1750.9 1675.5,1735.5 1677.7,1729.9 1681.0,1733.2 1684.3,1743.2 1692.0,1743.8 1700.8,1743.2 1709.7,1737.7 1716.3,1728.8 1722.9,1723.3 1728.4,1717.8 1733.9,1710.1 1737.2,1700.2 1739.4,1690.3 1743.8,1694.7 1748.2,1690.3 1751.5,1680.4 1754.8,1671.6 1757.6,1663.9 1762.0,1660.6 1766.9,1665.0 1771.3,1671.6 1775.7,1677.1 1780.1,1685.9 1785.6,1693.6 1790.0,1702.4 1792.2,1715.6 1795.5,1728.8 1798.8,1735.5 1802.1,1744.3 1806.5,1747.6 1809.8,1742.1 1813.5,1741.0 1816.4,1747.6 1819.7,1755.3 1829.6,1755.3 1832.9,1761.9 1836.2,1770.7 1839.5,1781.7 1842.8,1792.7 1847.2,1798.2 1852.7,1802.6 1860.4,1805.4" stroke-width="2.2"/>
<polyline points="1044.6,1904.2 1064.2,1904.6 1066.3,1906.2 1089.0,1906.6 1093.1,1908.3 1117.9,1908.7 1138.5,1908.3 1146.7,1906.6 1161.2,1906.2 1167.4,1902.1 1175.6,1901.1 1181.8,1895.9 1188.0,1889.7 1194.2,1882.5 1199.4,1872.2 1203.5,1860.8 1206.6,1848.5 1209.7,1836.1 1213.8,1825.8 1216.9,1817.5 1222.1,1809.3 1226.2,1804.1 1231.3,1798.9 1236.5,1788.6 1241.2,1780.4 1244.7,1768.0 1248.9,1758.7 1253.0,1755.6 1260.2,1755.6 1265.4,1753.5 1270.5,1756.6 1273.6,1763.9 1276.3,1780.4 1278.8,1796.9 1281.3,1815.4 1284.0,1829.9 1286.6,1846.4 1290.1,1858.8 1294.3,1865.0 1299.0,1867.0 1301.2,1866.0 1308.4,1860.8 1311.9,1852.6 1314.0,1836.1 1316.7,1817.5 1318.7,1813.4 1320.8,1821.6 1322.9,1838.1 1324.9,1850.5 1326.4,1865.0 1331.1,1860.8 1333.8,1846.4 1335.9,1845.4 1337.9,1858.8 1340.0,1867.0 1345.6,1863.9 1349.7,1858.4 1356.9,1857.7 1362.1,1849.5 1368.3,1842.3 1374.4,1836.1 1378.0,1825.8 1379.2,1788.6 1380.0,1743.2 1382.1,1742.2 1382.9,1788.6 1383.7,1823.7 1386.2,1834.0 1388.9,1842.3 1393.0,1844.7 1398.2,1845.4 1402.3,1852.6 1406.4,1862.9 1410.1,1871.2 1414.3,1876.3 1419.8,1870.1 1426.0,1861.9 1430.2,1846.4 1434.3,1831.9 1437.4,1817.5 1440.5,1801.0 1443.6,1788.6 1446.0,1774.2 1449.8,1773.8 1453.9,1779.3 1458.0,1779.3 1462.1,1772.1 1465.2,1759.7 1469.4,1751.5 1474.5,1746.9 1478.6,1748.4 1481.1,1757.7 1483.2,1774.2 1485.2,1788.6 1487.9,1809.3 1491.0,1825.8 1493.5,1838.1 1496.8,1848.5 1502.4,1852.6 1507.5,1858.8 1511.7,1866.0 1515.8,1867.0 1518.9,1854.6 1521.6,1842.3 1525.7,1841.2 1527.7,1852.6 1530.2,1862.9 1533.3,1865.0 1536.0,1856.7 1538.5,1863.9 1541.0,1865.4 1544.7,1860.8 1547.8,1844.3 1550.9,1827.8 1552.9,1807.2 1554.6,1774.2 1556.0,1751.5 1557.5,1752.5 1558.3,1784.5 1560.1,1813.4 1562.2,1827.8 1564.3,1840.2 1568.4,1850.5 1571.9,1858.8 1576.7,1848.6 1579.6,1827.7 1581.8,1823.3 1584.0,1836.5 1586.2,1846.4 1589.2,1840.9 1591.4,1823.3 1593.2,1805.7 1597.6,1802.4 1599.8,1793.6 1603.1,1804.6 1606.0,1794.7 1607.5,1810.1 1609.7,1827.7 1613.0,1837.6 1617.4,1845.3 1620.7,1850.8 1624.0,1854.1 1628.0,1851.9 1631.1,1844.2 1635.0,1840.9 1641.6,1842.0 1647.1,1835.4 1651.5,1826.6 1657.0,1818.9 1661.4,1807.9 1665.8,1798.0 1669.1,1788.1 1672.0,1774.9 1674.2,1761.7 1676.4,1748.5 1677.9,1733.1 1680.1,1727.5 1683.4,1730.8 1686.7,1740.8 1694.4,1741.4 1703.2,1740.8 1712.1,1735.3 1718.7,1726.4 1725.3,1720.9 1730.8,1715.4 1736.3,1707.7 1739.6,1697.8 1741.8,1687.9 1746.2,1692.3 1750.6,1687.9 1753.9,1678.0 1757.2,1669.2 1760.0,1661.5 1764.4,1658.2 1769.3,1662.6 1773.7,1669.2 1778.1,1674.7 1782.5,1683.5 1788.0,1691.2 1792.4,1700.0 1794.6,1713.2 1797.9,1726.4 1801.2,1733.1 1804.5,1741.9 1808.9,1745.2 1812.2,1739.7 1815.9,1738.6 1818.8,1745.2 1822.1,1752.9 1832.0,1752.9 1835.3,1759.5 1838.6,1768.3 1841.9,1779.3 1845.2,1790.3 1849.6,1795.8 1855.1,1800.2 1862.8,1803.0" stroke-width="2.2"/>
<polyline points="1044.6,1906.6 1064.2,1907.0 1066.3,1908.6 1089.0,1909.0 1093.1,1910.7 1117.9,1911.1 1138.5,1910.7 1146.7,1909.0 1161.2,1908.6 1167.4,1904.5 1175.6,1903.5 1181.8,1898.3 1188.0,1892.1 1194.2,1884.9 1199.4,1874.6 1203.5,1863.2 1206.6,1850.9 1209.7,1838.5 1213.8,1828.2 1216.9,1819.9 1222.1,1811.7 1226.2,1806.5 1231.3,1801.3 1236.5,1791.0 1241.2,1782.8 1244.7,1770.4 1248.9,1761.1 1253.0,1758.0 1260.2,1758.0 1265.4,1755.9 1270.5,1759.0 1273.6,1766.3 1276.3,1782.8 1278.8,1799.3 1281.3,1817.8 1284.0,1832.3 1286.6,1848.8 1290.1,1861.2 1294.3,1867.4 1299.0,1869.4 1301.2,1868.4 1308.4,1863.2 1311.9,1855.0 1314.0,1838.5 1316.7,1819.9 1318.7,1815.8 1320.8,1824.0 1322.9,1840.5 1324.9,1852.9 1326.4,1867.4 1331.1,1863.2 1333.8,1848.8 1335.9,1847.8 1337.9,1861.2 1340.0,1869.4 1345.6,1866.3 1349.7,1860.8 1356.9,1860.1 1362.1,1851.9 1368.3,1844.7 1374.4,1838.5 1378.0,1828.2 1379.2,1791.0 1380.0,1745.6 1382.1,1744.6 1382.9,1791.0 1383.7,1826.1 1386.2,1836.4 1388.9,1844.7 1393.0,1847.1 1398.2,1847.8 1402.3,1855.0 1406.4,1865.3 1410.1,1873.6 1414.3,1878.7 1419.8,1872.5 1426.0,1864.3 1430.2,1848.8 1434.3,1834.3 1437.4,1819.9 1440.5,1803.4 1443.6,1791.0 1446.0,1776.6 1449.8,1776.2 1453.9,1781.7 1458.0,1781.7 1462.1,1774.5 1465.2,1762.1 1469.4,1753.9 1474.5,1749.3 1478.6,1750.8 1481.1,1760.1 1483.2,1776.6 1485.2,1791.0 1487.9,1811.7 1491.0,1828.2 1493.5,1840.5 1496.8,1850.9 1502.4,1855.0 1507.5,1861.2 1511.7,1868.4 1515.8,1869.4 1518.9,1857.0 1521.6,1844.7 1525.7,1843.6 1527.7,1855.0 1530.2,1865.3 1533.3,1867.4 1536.0,1859.1 1538.5,1866.3 1541.0,1867.8 1544.7,1863.2 1547.8,1846.7 1550.9,1830.2 1552.9,1809.6 1554.6,1776.6 1556.0,1753.9 1557.5,1754.9 1558.3,1786.9 1560.1,1815.8 1562.2,1830.2 1564.3,1842.6 1568.4,1852.9 1571.9,1861.2 1576.7,1851.0 1579.6,1830.1 1581.8,1825.7 1584.0,1838.9 1586.2,1848.8 1589.2,1843.3 1591.4,1825.7 1593.2,1808.1 1597.6,1804.8 1599.8,1796.0 1603.1,1807.0 1606.0,1797.1 1607.5,1812.5 1609.7,1830.1 1613.0,1840.0 1617.4,1847.7 1620.7,1853.2 1624.0,1856.5 1628.0,1854.3 1631.1,1846.6 1635.0,1843.3 1641.6,1844.4 1647.1,1837.8 1651.5,1829.0 1657.0,1821.3 1661.4,1810.3 1665.8,1800.4 1669.1,1790.5 1672.0,1777.3 1674.2,1764.1 1676.4,1750.9 1677.9,1735.5 1680.1,1729.9 1683.4,1733.2 1686.7,1743.2 1694.4,1743.8 1703.2,1743.2 1712.1,1737.7 1718.7,1728.8 1725.3,1723.3 1730.8,1717.8 1736.3,1710.1 1739.6,1700.2 1741.8,1690.3 1746.2,1694.7 1750.6,1690.3 1753.9,1680.4 1757.2,1671.6 1760.0,1663.9 1764.4,1660.6 1769.3,1665.0 1773.7,1671.6 1778.1,1677.1 1782.5,1685.9 1788.0,1693.6 1792.4,1702.4 1794.6,1715.6 1797.9,1728.8 1801.2,1735.5 1804.5,1744.3 1808.9,1747.6 1812.2,1742.1 1815.9,1741.0 1818.8,1747.6 1822.1,1755.3 1832.0,1755.3 1835.3,1761.9 1838.6,1770.7 1841.9,1781.7 1845.2,1792.7 1849.6,1798.2 1855.1,1802.6 1862.8,1805.4" stroke-width="2.2"/>
</g>
<g fill="none" stroke="#000080" stroke-linejoin="round" stroke-linecap="butt">
<polyline points="194.5,2549.5 199.1,2548.0 220.3,2547.6 224.0,2544.6 229.3,2542.2 233.9,2543.7 238.4,2542.2 243.0,2538.9 248.3,2537.4 252.3,2544.2 254.3,2531.3 255.8,2519.2 258.1,2516.9 261.1,2525.3 263.8,2534.0 266.4,2524.5 270.9,2522.2 274.0,2525.3 276.2,2516.2 279.3,2508.6 280.8,2522.2 284.6,2522.2 285.6,2493.5 289.9,2482.9 291.1,2516.2 292.9,2529.8 295.2,2513.1 297.7,2501.0 300.5,2502.6 302.7,2516.2 305.0,2527.5 306.8,2514.7 308.8,2498.0 311.0,2496.5 312.9,2511.6 315.6,2526.8 317.9,2522.2 319.4,2502.6 321.6,2508.6 323.9,2505.6 325.4,2528.3 327.4,2538.9 330.0,2534.3 333.7,2530.6 338.3,2529.0 341.3,2520.7 345.8,2521.5 348.9,2511.6 350.4,2495.0 352.7,2476.8 353.7,2457.2 355.7,2455.7 357.2,2473.8 359.2,2478.3 360.7,2492.0 363.2,2485.9 365.5,2490.5 367.8,2504.1 369.8,2513.1 373.1,2510.1 375.4,2498.0 377.3,2485.9 379.9,2485.9 382.2,2501.0 385.2,2496.5 388.2,2488.9 389.7,2470.8 392.0,2455.7 395.0,2452.6 397.0,2464.7 398.0,2425.4 399.6,2402.7 401.8,2389.8 404.1,2395.1 406.4,2417.8 410.0,2403.3 412.4,2389.0 413.2,2367.6 414.1,2347.9 416.8,2344.3 418.6,2333.6 420.8,2346.1 422.5,2356.8 425.4,2347.9 426.7,2328.2 427.6,2310.3 430.2,2301.4 432.9,2299.6 436.1,2297.8 436.9,2278.2 440.1,2272.8 442.8,2265.6 447.2,2263.9 449.4,2249.5 451.7,2240.6 454.0,2229.9 457.1,2220.9 461.5,2217.4 464.2,2204.8 466.0,2190.5 469.6,2181.6 473.1,2176.2 476.7,2169.1 479.4,2158.3 483.0,2153.0 487.5,2145.8 491.0,2136.9 493.7,2129.7 499.1,2122.6 503.5,2113.6 507.1,2106.5 511.6,2098.4 516.1,2091.3 520.5,2085.0 525.9,2078.8 531.3,2073.4 536.6,2068.9 542.0,2064.5 545.6,2061.4 561.7,2061.4 567.0,2064.5 574.2,2068.9 581.3,2075.2 588.5,2083.2 593.9,2092.2 599.2,2101.1 606.4,2111.9 613.5,2124.4 620.7,2135.1 627.8,2145.8 635.0,2156.6 642.1,2165.5 650.0,2174.4 658.2,2183.7 672.3,2199.2 686.4,2213.3 700.5,2230.2 714.6,2250.0 728.7,2268.3 742.8,2285.2 754.1,2299.3 759.7,2309.2 768.2,2317.6 779.4,2325.5 789.3,2333.2 796.4,2341.6 806.2,2350.1 813.3,2362.8 821.7,2371.2 833.0,2378.3 848.5,2379.7 858.4,2389.6 869.7,2393.8 875.3,2403.7 883.8,2416.3 897.9,2429.0 912.0,2434.7 926.1,2443.1 940.2,2450.2 954.3,2457.2 974.0,2459.2 996.6,2462.9 1007.9,2464.8 1014.1,2468.5" stroke-width="4.5"/>
<polyline points="193.3,2548.3 197.9,2546.8 219.1,2546.4 222.8,2543.4 228.1,2541.0 232.7,2542.5 237.2,2541.0 241.8,2537.7 247.1,2536.2 251.1,2543.0 253.1,2530.1 254.6,2518.0 256.9,2515.7 259.9,2524.1 262.6,2532.8 265.2,2523.3 269.7,2521.0 272.8,2524.1 275.0,2515.0 278.1,2507.4 279.6,2521.0 283.4,2521.0 284.4,2492.3 288.7,2481.7 289.9,2515.0 291.7,2528.6 294.0,2511.9 296.5,2499.8 299.3,2501.4 301.5,2515.0 303.8,2526.3 305.6,2513.5 307.6,2496.8 309.8,2495.3 311.7,2510.4 314.4,2525.6 316.7,2521.0 318.2,2501.4 320.4,2507.4 322.7,2504.4 324.2,2527.1 326.2,2537.7 328.8,2533.1 332.5,2529.4 337.1,2527.8 340.1,2519.5 344.6,2520.3 347.7,2510.4 349.2,2493.8 351.5,2475.6 352.5,2456.0 354.5,2454.5 356.0,2472.6 358.0,2477.1 359.5,2490.8 362.0,2484.7 364.3,2489.3 366.6,2502.9 368.6,2511.9 371.9,2508.9 374.2,2496.8 376.1,2484.7 378.7,2484.7 381.0,2499.8 384.0,2495.3 387.0,2487.7 388.5,2469.6 390.8,2454.5 393.8,2451.4 395.8,2463.5 396.8,2424.2 398.4,2401.5 400.6,2388.6 402.9,2393.9 405.2,2416.6 408.8,2402.1 411.2,2387.8 412.0,2366.4 412.9,2346.7 415.6,2343.1 417.4,2332.4 419.6,2344.9 421.3,2355.6 424.2,2346.7 425.5,2327.0 426.4,2309.1 429.0,2300.2 431.7,2298.4 434.9,2296.6 435.7,2277.0 438.9,2271.6 441.6,2264.4 446.0,2262.7 448.2,2248.3 450.5,2239.4 452.8,2228.7 455.9,2219.7 460.3,2216.2 463.0,2203.6 464.8,2189.3 468.4,2180.4 471.9,2175.0 475.5,2167.9 478.2,2157.1 481.8,2151.8 486.3,2144.6 489.8,2135.7 492.5,2128.5 497.9,2121.4 502.3,2112.4 505.9,2105.3 510.4,2097.2 514.9,2090.1 519.3,2083.8 524.7,2077.6 530.1,2072.2 535.4,2067.7 540.8,2063.3 544.4,2060.2 560.5,2060.2 565.8,2063.3 573.0,2067.7 580.1,2074.0 587.3,2082.0 592.7,2091.0 598.0,2099.9 605.2,2110.7 612.3,2123.2 619.5,2133.9 626.6,2144.6 633.8,2155.4 640.9,2164.3 648.8,2173.2 657.0,2182.5 671.1,2198.0 685.2,2212.1 699.3,2229.0 713.4,2248.8 727.5,2267.1 741.6,2284.0 752.9,2298.1 758.5,2308.0 767.0,2316.4 778.2,2324.3 788.1,2332.0 795.2,2340.4 805.0,2348.9 812.1,2361.6 820.5,2370.0 831.8,2377.1 847.3,2378.5 857.2,2388.4 868.5,2392.6 874.1,2402.5 882.6,2415.1 896.7,2427.8 910.8,2433.5 924.9,2441.9 939.0,2449.0 953.1,2456.0 972.8,2458.0 995.4,2461.7 1006.7,2463.6 1012.9,2467.3" stroke-width="2.2"/>
<polyline points="193.3,2550.7 197.9,2549.2 219.1,2548.8 222.8,2545.8 228.1,2543.4 232.7,2544.9 237.2,2543.4 241.8,2540.1 247.1,2538.6 251.1,2545.4 253.1,2532.5 254.6,2520.4 256.9,2518.1 259.9,2526.5 262.6,2535.2 265.2,2525.7 269.7,2523.4 272.8,2526.5 275.0,2517.4 278.1,2509.8 279.6,2523.4 283.4,2523.4 284.4,2494.7 288.7,2484.1 289.9,2517.4 291.7,2531.0 294.0,2514.3 296.5,2502.2 299.3,2503.8 301.5,2517.4 303.8,2528.7 305.6,2515.9 307.6,2499.2 309.8,2497.7 311.7,2512.8 314.4,2528.0 316.7,2523.4 318.2,2503.8 320.4,2509.8 322.7,2506.8 324.2,2529.5 326.2,2540.1 328.8,2535.5 332.5,2531.8 337.1,2530.2 340.1,2521.9 344.6,2522.7 347.7,2512.8 349.2,2496.2 351.5,2478.0 352.5,2458.4 354.5,2456.9 356.0,2475.0 358.0,2479.5 359.5,2493.2 362.0,2487.1 364.3,2491.7 366.6,2505.3 368.6,2514.3 371.9,2511.3 374.2,2499.2 376.1,2487.1 378.7,2487.1 381.0,2502.2 384.0,2497.7 387.0,2490.1 388.5,2472.0 390.8,2456.9 393.8,2453.8 395.8,2465.9 396.8,2426.6 398.4,2403.9 400.6,2391.0 402.9,2396.3 405.2,2419.0 408.8,2404.5 411.2,2390.2 412.0,2368.8 412.9,2349.1 415.6,2345.5 417.4,2334.8 419.6,2347.3 421.3,2358.0 424.2,2349.1 425.5,2329.4 426.4,2311.5 429.0,2302.6 431.7,2300.8 434.9,2299.0 435.7,2279.4 438.9,2274.0 441.6,2266.8 446.0,2265.1 448.2,2250.7 450.5,2241.8 452.8,2231.1 455.9,2222.1 460.3,2218.6 463.0,2206.0 464.8,2191.7 468.4,2182.8 471.9,2177.4 475.5,2170.3 478.2,2159.5 481.8,2154.2 486.3,2147.0 489.8,2138.1 492.5,2130.9 497.9,2123.8 502.3,2114.8 505.9,2107.7 510.4,2099.6 514.9,2092.5 519.3,2086.2 524.7,2080.0 530.1,2074.6 535.4,2070.1 540.8,2065.7 544.4,2062.6 560.5,2062.6 565.8,2065.7 573.0,2070.1 580.1,2076.4 587.3,2084.4 592.7,2093.4 598.0,2102.3 605.2,2113.1 612.3,2125.6 619.5,2136.3 626.6,2147.0 633.8,2157.8 640.9,2166.7 648.8,2175.6 657.0,2184.9 671.1,2200.4 685.2,2214.5 699.3,2231.4 713.4,2251.2 727.5,2269.5 741.6,2286.4 752.9,2300.5 758.5,2310.4 767.0,2318.8 778.2,2326.7 788.1,2334.4 795.2,2342.8 805.0,2351.3 812.1,2364.0 820.5,2372.4 831.8,2379.5 847.3,2380.9 857.2,2390.8 868.5,2395.0 874.1,2404.9 882.6,2417.5 896.7,2430.2 910.8,2435.9 924.9,2444.3 939.0,2451.4 953.1,2458.4 972.8,2460.4 995.4,2464.1 1006.7,2466.0 1012.9,2469.7" stroke-width="2.2"/>
<polyline points="195.7,2548.3 200.3,2546.8 221.5,2546.4 225.2,2543.4 230.5,2541.0 235.1,2542.5 239.6,2541.0 244.2,2537.7 249.5,2536.2 253.5,2543.0 255.5,2530.1 257.0,2518.0 259.3,2515.7 262.3,2524.1 265.0,2532.8 267.6,2523.3 272.1,2521.0 275.2,2524.1 277.4,2515.0 280.5,2507.4 282.0,2521.0 285.8,2521.0 286.8,2492.3 291.1,2481.7 292.3,2515.0 294.1,2528.6 296.4,2511.9 298.9,2499.8 301.7,2501.4 303.9,2515.0 306.2,2526.3 308.0,2513.5 310.0,2496.8 312.2,2495.3 314.1,2510.4 316.8,2525.6 319.1,2521.0 320.6,2501.4 322.8,2507.4 325.1,2504.4 326.6,2527.1 328.6,2537.7 331.2,2533.1 334.9,2529.4 339.5,2527.8 342.5,2519.5 347.0,2520.3 350.1,2510.4 351.6,2493.8 353.9,2475.6 354.9,2456.0 356.9,2454.5 358.4,2472.6 360.4,2477.1 361.9,2490.8 364.4,2484.7 366.7,2489.3 369.0,2502.9 371.0,2511.9 374.3,2508.9 376.6,2496.8 378.5,2484.7 381.1,2484.7 383.4,2499.8 386.4,2495.3 389.4,2487.7 390.9,2469.6 393.2,2454.5 396.2,2451.4 398.2,2463.5 399.2,2424.2 400.8,2401.5 403.0,2388.6 405.3,2393.9 407.6,2416.6 411.2,2402.1 413.6,2387.8 414.4,2366.4 415.3,2346.7 418.0,2343.1 419.8,2332.4 422.0,2344.9 423.7,2355.6 426.6,2346.7 427.9,2327.0 428.8,2309.1 431.4,2300.2 434.1,2298.4 437.3,2296.6 438.1,2277.0 441.3,2271.6 444.0,2264.4 448.4,2262.7 450.6,2248.3 452.9,2239.4 455.2,2228.7 458.3,2219.7 462.7,2216.2 465.4,2203.6 467.2,2189.3 470.8,2180.4 474.3,2175.0 477.9,2167.9 480.6,2157.1 484.2,2151.8 488.7,2144.6 492.2,2135.7 494.9,2128.5 500.3,2121.4 504.7,2112.4 508.3,2105.3 512.8,2097.2 517.3,2090.1 521.7,2083.8 527.1,2077.6 532.5,2072.2 537.8,2067.7 543.2,2063.3 546.8,2060.2 562.9,2060.2 568.2,2063.3 575.4,2067.7 582.5,2074.0 589.7,2082.0 595.1,2091.0 600.4,2099.9 607.6,2110.7 614.7,2123.2 621.9,2133.9 629.0,2144.6 636.2,2155.4 643.3,2164.3 651.2,2173.2 659.4,2182.5 673.5,2198.0 687.6,2212.1 701.7,2229.0 715.8,2248.8 729.9,2267.1 744.0,2284.0 755.3,2298.1 760.9,2308.0 769.4,2316.4 780.6,2324.3 790.5,2332.0 797.6,2340.4 807.4,2348.9 814.5,2361.6 822.9,2370.0 834.2,2377.1 849.7,2378.5 859.6,2388.4 870.9,2392.6 876.5,2402.5 885.0,2415.1 899.1,2427.8 913.2,2433.5 927.3,2441.9 941.4,2449.0 955.5,2456.0 975.2,2458.0 997.8,2461.7 1009.1,2463.6 1015.3,2467.3" stroke-width="2.2"/>
<polyline points="195.7,2550.7 200.3,2549.2 221.5,2548.8 225.2,2545.8 230.5,2543.4 235.1,2544.9 239.6,2543.4 244.2,2540.1 249.5,2538.6 253.5,2545.4 255.5,2532.5 257.0,2520.4 259.3,2518.1 262.3,2526.5 265.0,2535.2 267.6,2525.7 272.1,2523.4 275.2,2526.5 277.4,2517.4 280.5,2509.8 282.0,2523.4 285.8,2523.4 286.8,2494.7 291.1,2484.1 292.3,2517.4 294.1,2531.0 296.4,2514.3 298.9,2502.2 301.7,2503.8 303.9,2517.4 306.2,2528.7 308.0,2515.9 310.0,2499.2 312.2,2497.7 314.1,2512.8 316.8,2528.0 319.1,2523.4 320.6,2503.8 322.8,2509.8 325.1,2506.8 326.6,2529.5 328.6,2540.1 331.2,2535.5 334.9,2531.8 339.5,2530.2 342.5,2521.9 347.0,2522.7 350.1,2512.8 351.6,2496.2 353.9,2478.0 354.9,2458.4 356.9,2456.9 358.4,2475.0 360.4,2479.5 361.9,2493.2 364.4,2487.1 366.7,2491.7 369.0,2505.3 371.0,2514.3 374.3,2511.3 376.6,2499.2 378.5,2487.1 381.1,2487.1 383.4,2502.2 386.4,2497.7 389.4,2490.1 390.9,2472.0 393.2,2456.9 396.2,2453.8 398.2,2465.9 399.2,2426.6 400.8,2403.9 403.0,2391.0 405.3,2396.3 407.6,2419.0 411.2,2404.5 413.6,2390.2 414.4,2368.8 415.3,2349.1 418.0,2345.5 419.8,2334.8 422.0,2347.3 423.7,2358.0 426.6,2349.1 427.9,2329.4 428.8,2311.5 431.4,2302.6 434.1,2300.8 437.3,2299.0 438.1,2279.4 441.3,2274.0 444.0,2266.8 448.4,2265.1 450.6,2250.7 452.9,2241.8 455.2,2231.1 458.3,2222.1 462.7,2218.6 465.4,2206.0 467.2,2191.7 470.8,2182.8 474.3,2177.4 477.9,2170.3 480.6,2159.5 484.2,2154.2 488.7,2147.0 492.2,2138.1 494.9,2130.9 500.3,2123.8 504.7,2114.8 508.3,2107.7 512.8,2099.6 517.3,2092.5 521.7,2086.2 527.1,2080.0 532.5,2074.6 537.8,2070.1 543.2,2065.7 546.8,2062.6 562.9,2062.6 568.2,2065.7 575.4,2070.1 582.5,2076.4 589.7,2084.4 595.1,2093.4 600.4,2102.3 607.6,2113.1 614.7,2125.6 621.9,2136.3 629.0,2147.0 636.2,2157.8 643.3,2166.7 651.2,2175.6 659.4,2184.9 673.5,2200.4 687.6,2214.5 701.7,2231.4 715.8,2251.2 729.9,2269.5 744.0,2286.4 755.3,2300.5 760.9,2310.4 769.4,2318.8 780.6,2326.7 790.5,2334.4 797.6,2342.8 807.4,2351.3 814.5,2364.0 822.9,2372.4 834.2,2379.5 849.7,2380.9 859.6,2390.8 870.9,2395.0 876.5,2404.9 885.0,2417.5 899.1,2430.2 913.2,2435.9 927.3,2444.3 941.4,2451.4 955.5,2458.4 975.2,2460.4 997.8,2464.1 1009.1,2466.0 1015.3,2469.7" stroke-width="2.2"/>
</g>
<g fill="none" stroke="#000080" stroke-linejoin="round" stroke-linecap="butt">
<polyline points="1043.6,2526.3 1055.2,2527.4 1082.4,2525.9 1099.2,2525.9 1101.3,2524.2 1113.9,2523.2 1126.4,2521.7 1143.2,2520.0 1149.5,2518.0 1153.7,2514.8 1160.0,2514.2 1166.3,2507.5 1172.5,2503.3 1177.8,2497.0 1181.4,2488.6 1186.2,2482.3 1189.3,2471.8 1192.5,2461.4 1194.6,2448.8 1196.7,2434.1 1198.8,2421.5 1200.8,2406.8 1202.3,2392.2 1204.4,2379.6 1205.7,2360.7 1207.1,2341.9 1209.2,2323.0 1212.0,2310.4 1213.4,2295.7 1215.5,2289.5 1219.7,2288.4 1223.9,2289.9 1227.0,2299.9 1230.2,2308.3 1234.4,2313.6 1237.5,2306.2 1239.6,2293.6 1241.3,2276.9 1242.8,2260.1 1244.9,2249.6 1247.0,2230.8 1249.7,2224.5 1252.2,2203.5 1254.7,2190.9 1256.8,2176.3 1259.5,2161.6 1262.7,2149.0 1265.8,2140.6 1269.0,2136.8 1272.1,2140.6 1274.2,2157.4 1275.7,2176.3 1277.4,2195.1 1279.0,2218.2 1280.5,2239.1 1281.6,2260.1 1283.2,2279.0 1284.7,2308.3 1286.2,2333.5 1287.8,2350.2 1289.5,2367.0 1291.6,2383.8 1294.5,2383.8 1296.6,2367.0 1298.7,2344.0 1301.0,2333.5 1302.5,2308.3 1304.6,2296.8 1307.3,2293.6 1310.1,2301.0 1312.2,2295.7 1314.7,2291.6 1316.4,2276.9 1317.8,2262.2 1319.3,2266.4 1320.5,2291.6 1322.0,2312.5 1323.5,2333.5 1325.2,2358.6 1326.8,2379.6 1328.9,2390.1 1332.5,2392.2 1335.6,2385.9 1338.2,2373.3 1340.2,2354.4 1343.0,2333.5 1344.4,2316.7 1347.2,2312.5 1349.9,2318.8 1352.0,2333.5 1354.1,2346.1 1356.6,2349.2 1359.1,2341.9 1361.2,2329.3 1363.9,2325.1 1367.1,2327.2 1370.2,2332.4 1373.4,2332.4 1375.9,2320.9 1377.1,2291.6 1378.0,2249.6 1379.2,2223.4 1380.9,2224.5 1381.8,2260.1 1382.6,2302.0 1384.3,2316.7 1387.0,2323.0 1391.2,2319.9 1395.4,2321.9 1398.1,2333.5 1400.6,2344.0 1403.1,2354.4 1405.2,2367.0 1408.0,2379.6 1410.1,2392.2 1412.8,2394.3 1415.3,2388.0 1417.4,2371.2 1419.5,2354.4 1421.6,2333.5 1424.1,2318.8 1425.8,2302.0 1427.5,2274.8 1428.9,2249.6 1430.4,2224.5 1432.1,2199.3 1434.2,2178.4 1436.7,2161.6 1438.8,2140.6 1440.9,2115.5 1443.6,2094.5 1445.7,2081.9 1447.8,2094.5 1449.3,2115.5 1450.9,2140.6 1452.6,2170.0 1454.1,2199.3 1456.2,2228.7 1458.3,2253.8 1460.4,2279.0 1462.5,2302.0 1465.2,2320.9 1467.7,2335.6 1471.5,2345.0 1475.0,2341.9 1478.2,2329.3 1481.3,2316.7 1483.4,2299.9 1485.5,2283.2 1487.6,2268.5 1490.3,2262.2 1492.9,2268.5 1495.4,2281.1 1498.7,2285.7 1502.3,2286.3 1505.0,2295.7 1506.5,2312.5 1508.0,2333.5 1509.6,2354.4 1511.3,2379.6 1512.8,2404.8 1514.2,2421.5 1516.3,2429.9 1518.4,2417.3 1520.1,2385.9 1521.8,2350.2 1523.3,2320.9 1524.7,2310.4 1526.4,2320.9 1527.7,2341.9 1528.9,2367.0 1530.6,2388.0 1532.3,2408.9 1534.4,2425.7 1536.9,2429.9 1540.0,2421.5 1542.7,2408.9 1545.3,2394.3 1548.4,2389.0 1552.6,2391.1 1556.8,2398.5 1562.0,2401.6 1567.3,2398.5 1571.5,2400.6 1574.4,2410.5 1578.8,2425.9 1583.6,2432.1 1588.0,2427.0 1592.0,2414.9 1594.6,2395.1 1597.5,2379.7 1599.7,2367.6 1602.6,2365.4 1604.8,2375.3 1607.0,2390.7 1609.2,2400.6 1614.0,2406.1 1621.7,2409.4 1629.4,2406.5 1638.2,2404.3 1643.7,2397.3 1647.5,2387.4 1649.7,2375.3 1653.2,2362.1 1656.9,2351.1 1661.3,2344.5 1664.2,2331.3 1666.4,2320.3 1669.0,2313.7 1672.3,2315.9 1675.2,2318.1 1677.8,2311.5 1679.6,2296.1 1682.2,2287.3 1684.4,2269.7 1687.1,2256.5 1690.6,2251.6 1693.7,2258.7 1696.5,2274.1 1698.7,2282.9 1702.0,2286.2 1706.9,2281.8 1710.9,2289.5 1714.2,2294.3 1719.7,2293.9 1725.2,2285.1 1731.8,2277.4 1738.4,2267.5 1743.9,2257.6 1747.8,2246.5 1750.5,2232.2 1753.1,2219.0 1756.0,2205.8 1758.2,2188.2 1761.0,2175.0 1764.8,2168.4 1768.1,2175.0 1770.7,2186.0 1774.7,2192.6 1778.0,2205.8 1781.7,2219.0 1786.8,2232.2 1792.3,2245.4 1800.0,2256.5 1805.5,2269.7 1811.0,2285.1 1815.4,2298.3 1818.7,2302.7 1825.3,2303.8 1830.8,2306.0 1836.3,2313.7 1840.7,2324.7 1845.1,2335.7 1849.5,2346.7 1853.9,2359.9 1857.2,2366.1 1862.3,2366.9" stroke-width="4.5"/>
<polyline points="1042.4,2525.1 1054.0,2526.2 1081.2,2524.7 1098.0,2524.7 1100.1,2523.0 1112.7,2522.0 1125.2,2520.5 1142.0,2518.8 1148.3,2516.8 1152.5,2513.6 1158.8,2513.0 1165.1,2506.3 1171.3,2502.1 1176.6,2495.8 1180.2,2487.4 1185.0,2481.1 1188.1,2470.6 1191.3,2460.2 1193.4,2447.6 1195.5,2432.9 1197.5,2420.3 1199.6,2405.6 1201.1,2391.0 1203.2,2378.4 1204.5,2359.5 1205.9,2340.7 1208.0,2321.8 1210.8,2309.2 1212.2,2294.5 1214.3,2288.3 1218.5,2287.2 1222.7,2288.7 1225.8,2298.7 1229.0,2307.1 1233.2,2312.4 1236.3,2305.0 1238.4,2292.4 1240.1,2275.7 1241.6,2258.9 1243.7,2248.4 1245.8,2229.6 1248.5,2223.3 1251.0,2202.3 1253.5,2189.7 1255.6,2175.1 1258.3,2160.4 1261.5,2147.8 1264.6,2139.4 1267.8,2135.6 1270.9,2139.4 1273.0,2156.2 1274.5,2175.1 1276.2,2193.9 1277.8,2217.0 1279.3,2237.9 1280.4,2258.9 1282.0,2277.8 1283.5,2307.1 1285.0,2332.3 1286.6,2349.0 1288.3,2365.8 1290.4,2382.6 1293.3,2382.6 1295.4,2365.8 1297.5,2342.8 1299.8,2332.3 1301.3,2307.1 1303.4,2295.6 1306.1,2292.4 1308.9,2299.8 1311.0,2294.5 1313.5,2290.4 1315.2,2275.7 1316.6,2261.0 1318.1,2265.2 1319.3,2290.4 1320.8,2311.3 1322.3,2332.3 1324.0,2357.4 1325.6,2378.4 1327.7,2388.9 1331.3,2391.0 1334.4,2384.7 1337.0,2372.1 1339.0,2353.2 1341.8,2332.3 1343.2,2315.5 1346.0,2311.3 1348.7,2317.6 1350.8,2332.3 1352.9,2344.9 1355.4,2348.0 1357.9,2340.7 1360.0,2328.1 1362.7,2323.9 1365.9,2326.0 1369.0,2331.2 1372.2,2331.2 1374.7,2319.7 1375.9,2290.4 1376.8,2248.4 1378.0,2222.2 1379.7,2223.3 1380.6,2258.9 1381.4,2300.8 1383.1,2315.5 1385.8,2321.8 1390.0,2318.7 1394.2,2320.7 1396.9,2332.3 1399.4,2342.8 1401.9,2353.2 1404.0,2365.8 1406.8,2378.4 1408.9,2391.0 1411.6,2393.1 1414.1,2386.8 1416.2,2370.0 1418.3,2353.2 1420.4,2332.3 1422.9,2317.6 1424.6,2300.8 1426.3,2273.6 1427.7,2248.4 1429.2,2223.3 1430.9,2198.1 1433.0,2177.2 1435.5,2160.4 1437.6,2139.4 1439.7,2114.3 1442.4,2093.3 1444.5,2080.7 1446.6,2093.3 1448.1,2114.3 1449.7,2139.4 1451.4,2168.8 1452.9,2198.1 1455.0,2227.5 1457.1,2252.6 1459.2,2277.8 1461.3,2300.8 1464.0,2319.7 1466.5,2334.4 1470.3,2343.8 1473.8,2340.7 1477.0,2328.1 1480.1,2315.5 1482.2,2298.7 1484.3,2282.0 1486.4,2267.3 1489.1,2261.0 1491.7,2267.3 1494.2,2279.9 1497.5,2284.5 1501.1,2285.1 1503.8,2294.5 1505.3,2311.3 1506.8,2332.3 1508.4,2353.2 1510.1,2378.4 1511.6,2403.6 1513.0,2420.3 1515.1,2428.7 1517.2,2416.1 1518.9,2384.7 1520.6,2349.0 1522.1,2319.7 1523.5,2309.2 1525.2,2319.7 1526.5,2340.7 1527.7,2365.8 1529.4,2386.8 1531.1,2407.7 1533.2,2424.5 1535.7,2428.7 1538.8,2420.3 1541.5,2407.7 1544.1,2393.1 1547.2,2387.8 1551.4,2389.9 1555.6,2397.3 1560.8,2400.4 1566.1,2397.3 1570.3,2399.4 1573.2,2409.3 1577.6,2424.7 1582.4,2430.9 1586.8,2425.8 1590.8,2413.7 1593.4,2393.9 1596.3,2378.5 1598.5,2366.4 1601.4,2364.2 1603.6,2374.1 1605.8,2389.5 1608.0,2399.4 1612.8,2404.9 1620.5,2408.2 1628.2,2405.3 1637.0,2403.1 1642.5,2396.1 1646.3,2386.2 1648.5,2374.1 1652.0,2360.9 1655.7,2349.9 1660.1,2343.3 1663.0,2330.1 1665.2,2319.1 1667.8,2312.5 1671.1,2314.7 1674.0,2316.9 1676.6,2310.3 1678.4,2294.9 1681.0,2286.1 1683.2,2268.5 1685.9,2255.3 1689.4,2250.4 1692.5,2257.5 1695.3,2272.9 1697.5,2281.7 1700.8,2285.0 1705.7,2280.6 1709.7,2288.3 1713.0,2293.1 1718.5,2292.7 1724.0,2283.9 1730.6,2276.2 1737.2,2266.3 1742.7,2256.4 1746.6,2245.3 1749.3,2231.0 1751.9,2217.8 1754.8,2204.6 1757.0,2187.0 1759.8,2173.8 1763.6,2167.2 1766.9,2173.8 1769.5,2184.8 1773.5,2191.4 1776.8,2204.6 1780.5,2217.8 1785.6,2231.0 1791.1,2244.2 1798.8,2255.3 1804.3,2268.5 1809.8,2283.9 1814.2,2297.1 1817.5,2301.5 1824.1,2302.6 1829.6,2304.8 1835.1,2312.5 1839.5,2323.5 1843.9,2334.5 1848.3,2345.5 1852.7,2358.7 1856.0,2364.9 1861.1,2365.7" stroke-width="2.2"/>
<polyline points="1042.4,2527.5 1054.0,2528.6 1081.2,2527.1 1098.0,2527.1 1100.1,2525.4 1112.7,2524.4 1125.2,2522.9 1142.0,2521.2 1148.3,2519.2 1152.5,2516.0 1158.8,2515.4 1165.1,2508.7 1171.3,2504.5 1176.6,2498.2 1180.2,2489.8 1185.0,2483.5 1188.1,2473.0 1191.3,2462.6 1193.4,2450.0 1195.5,2435.3 1197.5,2422.7 1199.6,2408.0 1201.1,2393.4 1203.2,2380.8 1204.5,2361.9 1205.9,2343.1 1208.0,2324.2 1210.8,2311.6 1212.2,2296.9 1214.3,2290.7 1218.5,2289.6 1222.7,2291.1 1225.8,2301.1 1229.0,2309.5 1233.2,2314.8 1236.3,2307.4 1238.4,2294.8 1240.1,2278.1 1241.6,2261.3 1243.7,2250.8 1245.8,2232.0 1248.5,2225.7 1251.0,2204.7 1253.5,2192.1 1255.6,2177.5 1258.3,2162.8 1261.5,2150.2 1264.6,2141.8 1267.8,2138.0 1270.9,2141.8 1273.0,2158.6 1274.5,2177.5 1276.2,2196.3 1277.8,2219.4 1279.3,2240.3 1280.4,2261.3 1282.0,2280.2 1283.5,2309.5 1285.0,2334.7 1286.6,2351.4 1288.3,2368.2 1290.4,2385.0 1293.3,2385.0 1295.4,2368.2 1297.5,2345.2 1299.8,2334.7 1301.3,2309.5 1303.4,2298.0 1306.1,2294.8 1308.9,2302.2 1311.0,2296.9 1313.5,2292.8 1315.2,2278.1 1316.6,2263.4 1318.1,2267.6 1319.3,2292.8 1320.8,2313.7 1322.3,2334.7 1324.0,2359.8 1325.6,2380.8 1327.7,2391.3 1331.3,2393.4 1334.4,2387.1 1337.0,2374.5 1339.0,2355.6 1341.8,2334.7 1343.2,2317.9 1346.0,2313.7 1348.7,2320.0 1350.8,2334.7 1352.9,2347.3 1355.4,2350.4 1357.9,2343.1 1360.0,2330.5 1362.7,2326.3 1365.9,2328.4 1369.0,2333.6 1372.2,2333.6 1374.7,2322.1 1375.9,2292.8 1376.8,2250.8 1378.0,2224.6 1379.7,2225.7 1380.6,2261.3 1381.4,2303.2 1383.1,2317.9 1385.8,2324.2 1390.0,2321.1 1394.2,2323.1 1396.9,2334.7 1399.4,2345.2 1401.9,2355.6 1404.0,2368.2 1406.8,2380.8 1408.9,2393.4 1411.6,2395.5 1414.1,2389.2 1416.2,2372.4 1418.3,2355.6 1420.4,2334.7 1422.9,2320.0 1424.6,2303.2 1426.3,2276.0 1427.7,2250.8 1429.2,2225.7 1430.9,2200.5 1433.0,2179.6 1435.5,2162.8 1437.6,2141.8 1439.7,2116.7 1442.4,2095.7 1444.5,2083.1 1446.6,2095.7 1448.1,2116.7 1449.7,2141.8 1451.4,2171.2 1452.9,2200.5 1455.0,2229.9 1457.1,2255.0 1459.2,2280.2 1461.3,2303.2 1464.0,2322.1 1466.5,2336.8 1470.3,2346.2 1473.8,2343.1 1477.0,2330.5 1480.1,2317.9 1482.2,2301.1 1484.3,2284.4 1486.4,2269.7 1489.1,2263.4 1491.7,2269.7 1494.2,2282.3 1497.5,2286.9 1501.1,2287.5 1503.8,2296.9 1505.3,2313.7 1506.8,2334.7 1508.4,2355.6 1510.1,2380.8 1511.6,2406.0 1513.0,2422.7 1515.1,2431.1 1517.2,2418.5 1518.9,2387.1 1520.6,2351.4 1522.1,2322.1 1523.5,2311.6 1525.2,2322.1 1526.5,2343.1 1527.7,2368.2 1529.4,2389.2 1531.1,2410.1 1533.2,2426.9 1535.7,2431.1 1538.8,2422.7 1541.5,2410.1 1544.1,2395.5 1547.2,2390.2 1551.4,2392.3 1555.6,2399.7 1560.8,2402.8 1566.1,2399.7 1570.3,2401.8 1573.2,2411.7 1577.6,2427.1 1582.4,2433.3 1586.8,2428.2 1590.8,2416.1 1593.4,2396.3 1596.3,2380.9 1598.5,2368.8 1601.4,2366.6 1603.6,2376.5 1605.8,2391.9 1608.0,2401.8 1612.8,2407.3 1620.5,2410.6 1628.2,2407.7 1637.0,2405.5 1642.5,2398.5 1646.3,2388.6 1648.5,2376.5 1652.0,2363.3 1655.7,2352.3 1660.1,2345.7 1663.0,2332.5 1665.2,2321.5 1667.8,2314.9 1671.1,2317.1 1674.0,2319.3 1676.6,2312.7 1678.4,2297.3 1681.0,2288.5 1683.2,2270.9 1685.9,2257.7 1689.4,2252.8 1692.5,2259.9 1695.3,2275.3 1697.5,2284.1 1700.8,2287.4 1705.7,2283.0 1709.7,2290.7 1713.0,2295.5 1718.5,2295.1 1724.0,2286.3 1730.6,2278.6 1737.2,2268.7 1742.7,2258.8 1746.6,2247.7 1749.3,2233.4 1751.9,2220.2 1754.8,2207.0 1757.0,2189.4 1759.8,2176.2 1763.6,2169.6 1766.9,2176.2 1769.5,2187.2 1773.5,2193.8 1776.8,2207.0 1780.5,2220.2 1785.6,2233.4 1791.1,2246.6 1798.8,2257.7 1804.3,2270.9 1809.8,2286.3 1814.2,2299.5 1817.5,2303.9 1824.1,2305.0 1829.6,2307.2 1835.1,2314.9 1839.5,2325.9 1843.9,2336.9 1848.3,2347.9 1852.7,2361.1 1856.0,2367.3 1861.1,2368.1" stroke-width="2.2"/>
<polyline points="1044.8,2525.1 1056.4,2526.2 1083.6,2524.7 1100.4,2524.7 1102.5,2523.0 1115.1,2522.0 1127.6,2520.5 1144.4,2518.8 1150.7,2516.8 1154.9,2513.6 1161.2,2513.0 1167.5,2506.3 1173.7,2502.1 1179.0,2495.8 1182.6,2487.4 1187.4,2481.1 1190.5,2470.6 1193.7,2460.2 1195.8,2447.6 1197.9,2432.9 1200.0,2420.3 1202.0,2405.6 1203.5,2391.0 1205.6,2378.4 1206.9,2359.5 1208.3,2340.7 1210.4,2321.8 1213.2,2309.2 1214.6,2294.5 1216.7,2288.3 1220.9,2287.2 1225.1,2288.7 1228.2,2298.7 1231.4,2307.1 1235.6,2312.4 1238.7,2305.0 1240.8,2292.4 1242.5,2275.7 1244.0,2258.9 1246.1,2248.4 1248.2,2229.6 1250.9,2223.3 1253.4,2202.3 1255.9,2189.7 1258.0,2175.1 1260.7,2160.4 1263.9,2147.8 1267.0,2139.4 1270.2,2135.6 1273.3,2139.4 1275.4,2156.2 1276.9,2175.1 1278.6,2193.9 1280.2,2217.0 1281.7,2237.9 1282.8,2258.9 1284.4,2277.8 1285.9,2307.1 1287.4,2332.3 1289.0,2349.0 1290.7,2365.8 1292.8,2382.6 1295.7,2382.6 1297.8,2365.8 1299.9,2342.8 1302.2,2332.3 1303.7,2307.1 1305.8,2295.6 1308.5,2292.4 1311.3,2299.8 1313.4,2294.5 1315.9,2290.4 1317.6,2275.7 1319.0,2261.0 1320.5,2265.2 1321.7,2290.4 1323.2,2311.3 1324.7,2332.3 1326.4,2357.4 1328.0,2378.4 1330.1,2388.9 1333.7,2391.0 1336.8,2384.7 1339.4,2372.1 1341.4,2353.2 1344.2,2332.3 1345.6,2315.5 1348.4,2311.3 1351.1,2317.6 1353.2,2332.3 1355.3,2344.9 1357.8,2348.0 1360.3,2340.7 1362.4,2328.1 1365.1,2323.9 1368.3,2326.0 1371.4,2331.2 1374.6,2331.2 1377.1,2319.7 1378.3,2290.4 1379.2,2248.4 1380.4,2222.2 1382.1,2223.3 1383.0,2258.9 1383.8,2300.8 1385.5,2315.5 1388.2,2321.8 1392.4,2318.7 1396.6,2320.7 1399.3,2332.3 1401.8,2342.8 1404.3,2353.2 1406.4,2365.8 1409.2,2378.4 1411.3,2391.0 1414.0,2393.1 1416.5,2386.8 1418.6,2370.0 1420.7,2353.2 1422.8,2332.3 1425.3,2317.6 1427.0,2300.8 1428.7,2273.6 1430.1,2248.4 1431.6,2223.3 1433.3,2198.1 1435.4,2177.2 1437.9,2160.4 1440.0,2139.4 1442.1,2114.3 1444.8,2093.3 1446.9,2080.7 1449.0,2093.3 1450.5,2114.3 1452.1,2139.4 1453.8,2168.8 1455.3,2198.1 1457.4,2227.5 1459.5,2252.6 1461.6,2277.8 1463.7,2300.8 1466.4,2319.7 1468.9,2334.4 1472.7,2343.8 1476.2,2340.7 1479.4,2328.1 1482.5,2315.5 1484.6,2298.7 1486.7,2282.0 1488.8,2267.3 1491.5,2261.0 1494.1,2267.3 1496.6,2279.9 1499.9,2284.5 1503.5,2285.1 1506.2,2294.5 1507.7,2311.3 1509.2,2332.3 1510.8,2353.2 1512.5,2378.4 1514.0,2403.6 1515.4,2420.3 1517.5,2428.7 1519.6,2416.1 1521.3,2384.7 1523.0,2349.0 1524.5,2319.7 1525.9,2309.2 1527.6,2319.7 1528.9,2340.7 1530.1,2365.8 1531.8,2386.8 1533.5,2407.7 1535.6,2424.5 1538.1,2428.7 1541.2,2420.3 1543.9,2407.7 1546.5,2393.1 1549.6,2387.8 1553.8,2389.9 1558.0,2397.3 1563.2,2400.4 1568.5,2397.3 1572.7,2399.4 1575.6,2409.3 1580.0,2424.7 1584.8,2430.9 1589.2,2425.8 1593.2,2413.7 1595.8,2393.9 1598.7,2378.5 1600.9,2366.4 1603.8,2364.2 1606.0,2374.1 1608.2,2389.5 1610.4,2399.4 1615.2,2404.9 1622.9,2408.2 1630.6,2405.3 1639.4,2403.1 1644.9,2396.1 1648.7,2386.2 1650.9,2374.1 1654.4,2360.9 1658.1,2349.9 1662.5,2343.3 1665.4,2330.1 1667.6,2319.1 1670.2,2312.5 1673.5,2314.7 1676.4,2316.9 1679.0,2310.3 1680.8,2294.9 1683.4,2286.1 1685.6,2268.5 1688.3,2255.3 1691.8,2250.4 1694.9,2257.5 1697.7,2272.9 1699.9,2281.7 1703.2,2285.0 1708.1,2280.6 1712.1,2288.3 1715.4,2293.1 1720.9,2292.7 1726.4,2283.9 1733.0,2276.2 1739.6,2266.3 1745.1,2256.4 1749.0,2245.3 1751.7,2231.0 1754.3,2217.8 1757.2,2204.6 1759.4,2187.0 1762.2,2173.8 1766.0,2167.2 1769.3,2173.8 1771.9,2184.8 1775.9,2191.4 1779.2,2204.6 1782.9,2217.8 1788.0,2231.0 1793.5,2244.2 1801.2,2255.3 1806.7,2268.5 1812.2,2283.9 1816.6,2297.1 1819.9,2301.5 1826.5,2302.6 1832.0,2304.8 1837.5,2312.5 1841.9,2323.5 1846.3,2334.5 1850.7,2345.5 1855.1,2358.7 1858.4,2364.9 1863.5,2365.7" stroke-width="2.2"/>
<polyline points="1044.8,2527.5 1056.4,2528.6 1083.6,2527.1 1100.4,2527.1 1102.5,2525.4 1115.1,2524.4 1127.6,2522.9 1144.4,2521.2 1150.7,2519.2 1154.9,2516.0 1161.2,2515.4 1167.5,2508.7 1173.7,2504.5 1179.0,2498.2 1182.6,2489.8 1187.4,2483.5 1190.5,2473.0 1193.7,2462.6 1195.8,2450.0 1197.9,2435.3 1200.0,2422.7 1202.0,2408.0 1203.5,2393.4 1205.6,2380.8 1206.9,2361.9 1208.3,2343.1 1210.4,2324.2 1213.2,2311.6 1214.6,2296.9 1216.7,2290.7 1220.9,2289.6 1225.1,2291.1 1228.2,2301.1 1231.4,2309.5 1235.6,2314.8 1238.7,2307.4 1240.8,2294.8 1242.5,2278.1 1244.0,2261.3 1246.1,2250.8 1248.2,2232.0 1250.9,2225.7 1253.4,2204.7 1255.9,2192.1 1258.0,2177.5 1260.7,2162.8 1263.9,2150.2 1267.0,2141.8 1270.2,2138.0 1273.3,2141.8 1275.4,2158.6 1276.9,2177.5 1278.6,2196.3 1280.2,2219.4 1281.7,2240.3 1282.8,2261.3 1284.4,2280.2 1285.9,2309.5 1287.4,2334.7 1289.0,2351.4 1290.7,2368.2 1292.8,2385.0 1295.7,2385.0 1297.8,2368.2 1299.9,2345.2 1302.2,2334.7 1303.7,2309.5 1305.8,2298.0 1308.5,2294.8 1311.3,2302.2 1313.4,2296.9 1315.9,2292.8 1317.6,2278.1 1319.0,2263.4 1320.5,2267.6 1321.7,2292.8 1323.2,2313.7 1324.7,2334.7 1326.4,2359.8 1328.0,2380.8 1330.1,2391.3 1333.7,2393.4 1336.8,2387.1 1339.4,2374.5 1341.4,2355.6 1344.2,2334.7 1345.6,2317.9 1348.4,2313.7 1351.1,2320.0 1353.2,2334.7 1355.3,2347.3 1357.8,2350.4 1360.3,2343.1 1362.4,2330.5 1365.1,2326.3 1368.3,2328.4 1371.4,2333.6 1374.6,2333.6 1377.1,2322.1 1378.3,2292.8 1379.2,2250.8 1380.4,2224.6 1382.1,2225.7 1383.0,2261.3 1383.8,2303.2 1385.5,2317.9 1388.2,2324.2 1392.4,2321.1 1396.6,2323.1 1399.3,2334.7 1401.8,2345.2 1404.3,2355.6 1406.4,2368.2 1409.2,2380.8 1411.3,2393.4 1414.0,2395.5 1416.5,2389.2 1418.6,2372.4 1420.7,2355.6 1422.8,2334.7 1425.3,2320.0 1427.0,2303.2 1428.7,2276.0 1430.1,2250.8 1431.6,2225.7 1433.3,2200.5 1435.4,2179.6 1437.9,2162.8 1440.0,2141.8 1442.1,2116.7 1444.8,2095.7 1446.9,2083.1 1449.0,2095.7 1450.5,2116.7 1452.1,2141.8 1453.8,2171.2 1455.3,2200.5 1457.4,2229.9 1459.5,2255.0 1461.6,2280.2 1463.7,2303.2 1466.4,2322.1 1468.9,2336.8 1472.7,2346.2 1476.2,2343.1 1479.4,2330.5 1482.5,2317.9 1484.6,2301.1 1486.7,2284.4 1488.8,2269.7 1491.5,2263.4 1494.1,2269.7 1496.6,2282.3 1499.9,2286.9 1503.5,2287.5 1506.2,2296.9 1507.7,2313.7 1509.2,2334.7 1510.8,2355.6 1512.5,2380.8 1514.0,2406.0 1515.4,2422.7 1517.5,2431.1 1519.6,2418.5 1521.3,2387.1 1523.0,2351.4 1524.5,2322.1 1525.9,2311.6 1527.6,2322.1 1528.9,2343.1 1530.1,2368.2 1531.8,2389.2 1533.5,2410.1 1535.6,2426.9 1538.1,2431.1 1541.2,2422.7 1543.9,2410.1 1546.5,2395.5 1549.6,2390.2 1553.8,2392.3 1558.0,2399.7 1563.2,2402.8 1568.5,2399.7 1572.7,2401.8 1575.6,2411.7 1580.0,2427.1 1584.8,2433.3 1589.2,2428.2 1593.2,2416.1 1595.8,2396.3 1598.7,2380.9 1600.9,2368.8 1603.8,2366.6 1606.0,2376.5 1608.2,2391.9 1610.4,2401.8 1615.2,2407.3 1622.9,2410.6 1630.6,2407.7 1639.4,2405.5 1644.9,2398.5 1648.7,2388.6 1650.9,2376.5 1654.4,2363.3 1658.1,2352.3 1662.5,2345.7 1665.4,2332.5 1667.6,2321.5 1670.2,2314.9 1673.5,2317.1 1676.4,2319.3 1679.0,2312.7 1680.8,2297.3 1683.4,2288.5 1685.6,2270.9 1688.3,2257.7 1691.8,2252.8 1694.9,2259.9 1697.7,2275.3 1699.9,2284.1 1703.2,2287.4 1708.1,2283.0 1712.1,2290.7 1715.4,2295.5 1720.9,2295.1 1726.4,2286.3 1733.0,2278.6 1739.6,2268.7 1745.1,2258.8 1749.0,2247.7 1751.7,2233.4 1754.3,2220.2 1757.2,2207.0 1759.4,2189.4 1762.2,2176.2 1766.0,2169.6 1769.3,2176.2 1771.9,2187.2 1775.9,2193.8 1779.2,2207.0 1782.9,2220.2 1788.0,2233.4 1793.5,2246.6 1801.2,2257.7 1806.7,2270.9 1812.2,2286.3 1816.6,2299.5 1819.9,2303.9 1826.5,2305.0 1832.0,2307.2 1837.5,2314.9 1841.9,2325.9 1846.3,2336.9 1850.7,2347.9 1855.1,2361.1 1858.4,2367.3 1863.5,2368.1" stroke-width="2.2"/>
</g>
<g fill="none" stroke="#000000" stroke-linejoin="round" stroke-linecap="butt">
<polyline points="194.3,3129.6 227.6,3129.0 253.5,3127.3 276.7,3125.9 299.8,3124.4 320.0,3121.5 337.3,3118.6 354.6,3115.7 369.1,3111.4 380.6,3105.6 392.2,3097.0 403.8,3085.4 412.4,3069.5 421.1,3055.1 428.3,3034.9 435.5,3017.5 442.8,3000.2 450.0,2980.0 457.2,2962.7 463.0,2942.4 468.7,2930.9 474.5,2920.8 480.3,2917.9 490.4,2919.3 502.0,2919.3 513.5,2912.1 525.1,2906.3 536.6,2901.4 548.2,2900.6 559.7,2904.9 571.3,2910.7 582.8,2920.8 594.4,2933.8 610.0,2954.0 620.9,2974.3 636.4,2994.4 651.9,3013.0 667.4,3030.0 682.8,3043.9 698.3,3056.3 713.8,3068.7 729.3,3078.9 747.8,3088.8 766.4,3098.1 788.1,3105.8 812.8,3113.5 837.6,3119.7 862.4,3125.0 887.1,3129.6 911.9,3133.7 936.6,3138.3 961.4,3141.4 986.1,3144.5 1014.0,3148.2" stroke-width="4.5"/>
<polyline points="193.1,3128.4 226.4,3127.8 252.3,3126.1 275.5,3124.7 298.6,3123.2 318.8,3120.3 336.1,3117.4 353.4,3114.5 367.9,3110.2 379.4,3104.4 391.0,3095.8 402.6,3084.2 411.2,3068.3 419.9,3053.9 427.1,3033.7 434.3,3016.3 441.6,2999.0 448.8,2978.8 456.0,2961.5 461.8,2941.2 467.5,2929.7 473.3,2919.6 479.1,2916.7 489.2,2918.1 500.8,2918.1 512.3,2910.9 523.9,2905.1 535.4,2900.2 547.0,2899.4 558.5,2903.7 570.1,2909.5 581.6,2919.6 593.2,2932.6 608.8,2952.8 619.7,2973.1 635.2,2993.2 650.7,3011.8 666.2,3028.8 681.6,3042.7 697.1,3055.1 712.6,3067.5 728.1,3077.7 746.6,3087.6 765.2,3096.9 786.9,3104.6 811.6,3112.3 836.4,3118.5 861.2,3123.8 885.9,3128.4 910.7,3132.5 935.4,3137.1 960.2,3140.2 984.9,3143.3 1012.8,3147.0" stroke-width="2.2"/>
<polyline points="193.1,3130.8 226.4,3130.2 252.3,3128.5 275.5,3127.1 298.6,3125.6 318.8,3122.7 336.1,3119.8 353.4,3116.9 367.9,3112.6 379.4,3106.8 391.0,3098.2 402.6,3086.6 411.2,3070.7 419.9,3056.3 427.1,3036.1 434.3,3018.7 441.6,3001.4 448.8,2981.2 456.0,2963.9 461.8,2943.6 467.5,2932.1 473.3,2922.0 479.1,2919.1 489.2,2920.5 500.8,2920.5 512.3,2913.3 523.9,2907.5 535.4,2902.6 547.0,2901.8 558.5,2906.1 570.1,2911.9 581.6,2922.0 593.2,2935.0 608.8,2955.2 619.7,2975.5 635.2,2995.6 650.7,3014.2 666.2,3031.2 681.6,3045.1 697.1,3057.5 712.6,3069.9 728.1,3080.1 746.6,3090.0 765.2,3099.3 786.9,3107.0 811.6,3114.7 836.4,3120.9 861.2,3126.2 885.9,3130.8 910.7,3134.9 935.4,3139.5 960.2,3142.6 984.9,3145.7 1012.8,3149.4" stroke-width="2.2"/>
<polyline points="195.5,3128.4 228.8,3127.8 254.7,3126.1 277.9,3124.7 301.0,3123.2 321.2,3120.3 338.5,3117.4 355.8,3114.5 370.3,3110.2 381.8,3104.4 393.4,3095.8 405.0,3084.2 413.6,3068.3 422.3,3053.9 429.5,3033.7 436.7,3016.3 444.0,2999.0 451.2,2978.8 458.4,2961.5 464.2,2941.2 469.9,2929.7 475.7,2919.6 481.5,2916.7 491.6,2918.1 503.2,2918.1 514.7,2910.9 526.3,2905.1 537.8,2900.2 549.4,2899.4 560.9,2903.7 572.5,2909.5 584.0,2919.6 595.6,2932.6 611.2,2952.8 622.1,2973.1 637.6,2993.2 653.1,3011.8 668.6,3028.8 684.0,3042.7 699.5,3055.1 715.0,3067.5 730.5,3077.7 749.0,3087.6 767.6,3096.9 789.3,3104.6 814.0,3112.3 838.8,3118.5 863.6,3123.8 888.3,3128.4 913.1,3132.5 937.8,3137.1 962.6,3140.2 987.3,3143.3 1015.2,3147.0" stroke-width="2.2"/>
<polyline points="195.5,3130.8 228.8,3130.2 254.7,3128.5 277.9,3127.1 301.0,3125.6 321.2,3122.7 338.5,3119.8 355.8,3116.9 370.3,3112.6 381.8,3106.8 393.4,3098.2 405.0,3086.6 413.6,3070.7 422.3,3056.3 429.5,3036.1 436.7,3018.7 444.0,3001.4 451.2,2981.2 458.4,2963.9 464.2,2943.6 469.9,2932.1 475.7,2922.0 481.5,2919.1 491.6,2920.5 503.2,2920.5 514.7,2913.3 526.3,2907.5 537.8,2902.6 549.4,2901.8 560.9,2906.1 572.5,2911.9 584.0,2922.0 595.6,2935.0 611.2,2955.2 622.1,2975.5 637.6,2995.6 653.1,3014.2 668.6,3031.2 684.0,3045.1 699.5,3057.5 715.0,3069.9 730.5,3080.1 749.0,3090.0 767.6,3099.3 789.3,3107.0 814.0,3114.7 838.8,3120.9 863.6,3126.2 888.3,3130.8 913.1,3134.9 937.8,3139.5 962.6,3142.6 987.3,3145.7 1015.2,3149.4" stroke-width="2.2"/>
</g>
<g fill="none" stroke="#000000" stroke-linejoin="round" stroke-linecap="butt">
<polyline points="1043.2,3148.4 1076.2,3147.7 1080.6,3146.2 1133.4,3146.2 1137.8,3144.0 1151.0,3144.0 1156.5,3142.9 1164.3,3142.4 1168.7,3138.5 1171.3,3131.9 1173.5,3135.2 1175.3,3141.8 1184.1,3140.2 1195.1,3136.7 1203.9,3131.9 1212.7,3126.4 1218.2,3118.7 1225.9,3110.9 1232.5,3104.3 1239.1,3099.9 1245.7,3094.4 1252.3,3094.0 1258.9,3095.5 1266.6,3099.9 1272.1,3105.4 1278.7,3112.0 1285.3,3116.0 1296.3,3117.6 1305.1,3116.0 1313.9,3112.0 1322.7,3108.7 1330.4,3103.2 1335.9,3096.6 1340.3,3087.8 1343.6,3076.8 1346.5,3065.8 1348.7,3050.4 1350.0,3037.2 1352.4,3023.9 1355.9,3007.6 1358.7,2991.3 1361.7,2972.7 1365.2,2954.0 1367.5,2935.4 1370.3,2916.8 1372.7,2891.1 1374.5,2856.2 1375.7,2809.6 1376.9,2763.0 1378.0,2693.2 1379.7,2661.7 1381.1,2693.2 1381.5,2763.0 1382.5,2809.6 1383.9,2832.9 1385.7,2856.2 1387.3,2891.1 1389.0,2914.4 1392.0,2930.7 1396.0,2942.4 1398.3,2963.4 1400.2,2991.3 1402.0,3019.3 1403.6,3047.2 1406.0,3065.8 1408.3,3084.5 1411.8,3103.1 1416.0,3117.1 1421.1,3127.6 1428.1,3135.7 1437.4,3140.8 1446.7,3142.2 1452.6,3143.9 1460.7,3141.5 1466.5,3143.9 1477.0,3141.5 1486.3,3139.2 1495.7,3134.5 1505.0,3131.1 1512.0,3126.4 1517.8,3121.7 1528.3,3121.7 1537.6,3119.4 1546.9,3115.9 1553.9,3113.6 1559.9,3112.4 1564.1,3112.8 1576.1,3106.7 1588.1,3097.1 1600.2,3088.7 1612.2,3081.5 1624.3,3070.6 1631.5,3059.8 1638.7,3052.6 1644.7,3042.9 1650.7,3034.5 1660.4,3029.7 1670.0,3023.7 1676.0,3020.1 1680.1,3011.7 1683.7,3001.5 1685.6,3010.4 1686.4,3019.4 1694.1,3019.4 1703.7,3010.4 1713.3,2997.2 1722.9,2982.8 1732.6,2963.5 1736.2,2951.5 1741.0,2939.4 1747.0,2927.4 1751.8,2917.8 1756.6,2908.1 1760.3,2900.9 1763.9,2898.0 1768.7,2902.8 1774.7,2913.0 1780.7,2923.8 1785.5,2932.2 1791.5,2944.3 1796.4,2956.3 1801.2,2970.7 1806.0,2982.8 1810.8,2997.2 1815.6,3008.0 1820.4,3016.5 1825.2,3019.4 1830.1,3015.3 1833.7,3012.9 1837.3,3018.9 1840.9,3030.9 1843.8,3042.9 1846.9,3052.6 1851.7,3057.4 1857.7,3057.9 1862.6,3055.5" stroke-width="4.5"/>
<polyline points="1042.0,3147.2 1075.0,3146.5 1079.4,3145.0 1132.2,3145.0 1136.6,3142.8 1149.8,3142.8 1155.3,3141.7 1163.1,3141.2 1167.5,3137.3 1170.1,3130.7 1172.3,3134.0 1174.1,3140.6 1182.9,3139.0 1193.9,3135.5 1202.7,3130.7 1211.5,3125.2 1217.0,3117.5 1224.7,3109.7 1231.3,3103.1 1237.9,3098.7 1244.5,3093.2 1251.1,3092.8 1257.7,3094.3 1265.4,3098.7 1270.9,3104.2 1277.5,3110.8 1284.1,3114.8 1295.1,3116.4 1303.9,3114.8 1312.7,3110.8 1321.5,3107.5 1329.2,3102.0 1334.7,3095.4 1339.1,3086.6 1342.4,3075.6 1345.3,3064.6 1347.5,3049.2 1348.8,3036.0 1351.2,3022.7 1354.7,3006.4 1357.5,2990.1 1360.5,2971.5 1364.0,2952.8 1366.3,2934.2 1369.1,2915.6 1371.5,2889.9 1373.3,2855.0 1374.5,2808.4 1375.7,2761.8 1376.8,2692.0 1378.5,2660.5 1379.9,2692.0 1380.3,2761.8 1381.3,2808.4 1382.7,2831.7 1384.5,2855.0 1386.1,2889.9 1387.8,2913.2 1390.8,2929.5 1394.8,2941.2 1397.1,2962.2 1399.0,2990.1 1400.8,3018.1 1402.4,3046.0 1404.8,3064.6 1407.1,3083.3 1410.6,3101.9 1414.8,3115.9 1419.9,3126.4 1426.9,3134.5 1436.2,3139.6 1445.5,3141.0 1451.4,3142.7 1459.5,3140.3 1465.3,3142.7 1475.8,3140.3 1485.1,3138.0 1494.5,3133.3 1503.8,3129.9 1510.8,3125.2 1516.6,3120.5 1527.1,3120.5 1536.4,3118.2 1545.7,3114.7 1552.7,3112.4 1558.7,3111.2 1562.9,3111.6 1574.9,3105.5 1586.9,3095.9 1599.0,3087.5 1611.0,3080.3 1623.1,3069.4 1630.3,3058.6 1637.5,3051.4 1643.5,3041.7 1649.5,3033.3 1659.2,3028.5 1668.8,3022.5 1674.8,3018.9 1678.9,3010.5 1682.5,3000.3 1684.4,3009.2 1685.2,3018.2 1692.9,3018.2 1702.5,3009.2 1712.1,2996.0 1721.7,2981.6 1731.4,2962.3 1735.0,2950.3 1739.8,2938.2 1745.8,2926.2 1750.6,2916.6 1755.4,2906.9 1759.1,2899.7 1762.7,2896.8 1767.5,2901.6 1773.5,2911.8 1779.5,2922.6 1784.3,2931.0 1790.3,2943.1 1795.2,2955.1 1800.0,2969.5 1804.8,2981.6 1809.6,2996.0 1814.4,3006.8 1819.2,3015.3 1824.0,3018.2 1828.9,3014.1 1832.5,3011.7 1836.1,3017.7 1839.7,3029.7 1842.6,3041.7 1845.7,3051.4 1850.5,3056.2 1856.5,3056.7 1861.4,3054.3" stroke-width="2.2"/>
<polyline points="1042.0,3149.6 1075.0,3148.9 1079.4,3147.4 1132.2,3147.4 1136.6,3145.2 1149.8,3145.2 1155.3,3144.1 1163.1,3143.6 1167.5,3139.7 1170.1,3133.1 1172.3,3136.4 1174.1,3143.0 1182.9,3141.4 1193.9,3137.9 1202.7,3133.1 1211.5,3127.6 1217.0,3119.9 1224.7,3112.1 1231.3,3105.5 1237.9,3101.1 1244.5,3095.6 1251.1,3095.2 1257.7,3096.7 1265.4,3101.1 1270.9,3106.6 1277.5,3113.2 1284.1,3117.2 1295.1,3118.8 1303.9,3117.2 1312.7,3113.2 1321.5,3109.9 1329.2,3104.4 1334.7,3097.8 1339.1,3089.0 1342.4,3078.0 1345.3,3067.0 1347.5,3051.6 1348.8,3038.4 1351.2,3025.1 1354.7,3008.8 1357.5,2992.5 1360.5,2973.9 1364.0,2955.2 1366.3,2936.6 1369.1,2918.0 1371.5,2892.3 1373.3,2857.4 1374.5,2810.8 1375.7,2764.2 1376.8,2694.4 1378.5,2662.9 1379.9,2694.4 1380.3,2764.2 1381.3,2810.8 1382.7,2834.1 1384.5,2857.4 1386.1,2892.3 1387.8,2915.6 1390.8,2931.9 1394.8,2943.6 1397.1,2964.6 1399.0,2992.5 1400.8,3020.5 1402.4,3048.4 1404.8,3067.0 1407.1,3085.7 1410.6,3104.3 1414.8,3118.3 1419.9,3128.8 1426.9,3136.9 1436.2,3142.0 1445.5,3143.4 1451.4,3145.1 1459.5,3142.7 1465.3,3145.1 1475.8,3142.7 1485.1,3140.4 1494.5,3135.7 1503.8,3132.3 1510.8,3127.6 1516.6,3122.9 1527.1,3122.9 1536.4,3120.6 1545.7,3117.1 1552.7,3114.8 1558.7,3113.6 1562.9,3114.0 1574.9,3107.9 1586.9,3098.3 1599.0,3089.9 1611.0,3082.7 1623.1,3071.8 1630.3,3061.0 1637.5,3053.8 1643.5,3044.1 1649.5,3035.7 1659.2,3030.9 1668.8,3024.9 1674.8,3021.3 1678.9,3012.9 1682.5,3002.7 1684.4,3011.6 1685.2,3020.6 1692.9,3020.6 1702.5,3011.6 1712.1,2998.4 1721.7,2984.0 1731.4,2964.7 1735.0,2952.7 1739.8,2940.6 1745.8,2928.6 1750.6,2919.0 1755.4,2909.3 1759.1,2902.1 1762.7,2899.2 1767.5,2904.0 1773.5,2914.2 1779.5,2925.0 1784.3,2933.4 1790.3,2945.5 1795.2,2957.5 1800.0,2971.9 1804.8,2984.0 1809.6,2998.4 1814.4,3009.2 1819.2,3017.7 1824.0,3020.6 1828.9,3016.5 1832.5,3014.1 1836.1,3020.1 1839.7,3032.1 1842.6,3044.1 1845.7,3053.8 1850.5,3058.6 1856.5,3059.1 1861.4,3056.7" stroke-width="2.2"/>
<polyline points="1044.4,3147.2 1077.4,3146.5 1081.8,3145.0 1134.6,3145.0 1139.0,3142.8 1152.2,3142.8 1157.7,3141.7 1165.5,3141.2 1169.9,3137.3 1172.5,3130.7 1174.7,3134.0 1176.5,3140.6 1185.3,3139.0 1196.3,3135.5 1205.1,3130.7 1213.9,3125.2 1219.4,3117.5 1227.1,3109.7 1233.7,3103.1 1240.3,3098.7 1246.9,3093.2 1253.5,3092.8 1260.1,3094.3 1267.8,3098.7 1273.3,3104.2 1279.9,3110.8 1286.5,3114.8 1297.5,3116.4 1306.3,3114.8 1315.1,3110.8 1323.9,3107.5 1331.6,3102.0 1337.1,3095.4 1341.5,3086.6 1344.8,3075.6 1347.7,3064.6 1349.9,3049.2 1351.2,3036.0 1353.6,3022.7 1357.1,3006.4 1359.9,2990.1 1362.9,2971.5 1366.4,2952.8 1368.7,2934.2 1371.5,2915.6 1373.9,2889.9 1375.7,2855.0 1376.9,2808.4 1378.1,2761.8 1379.2,2692.0 1380.9,2660.5 1382.3,2692.0 1382.7,2761.8 1383.7,2808.4 1385.1,2831.7 1386.9,2855.0 1388.5,2889.9 1390.2,2913.2 1393.2,2929.5 1397.2,2941.2 1399.5,2962.2 1401.4,2990.1 1403.2,3018.1 1404.8,3046.0 1407.2,3064.6 1409.5,3083.3 1413.0,3101.9 1417.2,3115.9 1422.3,3126.4 1429.3,3134.5 1438.6,3139.6 1447.9,3141.0 1453.8,3142.7 1461.9,3140.3 1467.7,3142.7 1478.2,3140.3 1487.5,3138.0 1496.9,3133.3 1506.2,3129.9 1513.2,3125.2 1519.0,3120.5 1529.5,3120.5 1538.8,3118.2 1548.1,3114.7 1555.1,3112.4 1561.1,3111.2 1565.3,3111.6 1577.3,3105.5 1589.3,3095.9 1601.4,3087.5 1613.4,3080.3 1625.5,3069.4 1632.7,3058.6 1639.9,3051.4 1645.9,3041.7 1651.9,3033.3 1661.6,3028.5 1671.2,3022.5 1677.2,3018.9 1681.3,3010.5 1684.9,3000.3 1686.8,3009.2 1687.6,3018.2 1695.3,3018.2 1704.9,3009.2 1714.5,2996.0 1724.1,2981.6 1733.8,2962.3 1737.4,2950.3 1742.2,2938.2 1748.2,2926.2 1753.0,2916.6 1757.8,2906.9 1761.5,2899.7 1765.1,2896.8 1769.9,2901.6 1775.9,2911.8 1781.9,2922.6 1786.7,2931.0 1792.7,2943.1 1797.6,2955.1 1802.4,2969.5 1807.2,2981.6 1812.0,2996.0 1816.8,3006.8 1821.6,3015.3 1826.4,3018.2 1831.3,3014.1 1834.9,3011.7 1838.5,3017.7 1842.1,3029.7 1845.0,3041.7 1848.1,3051.4 1852.9,3056.2 1858.9,3056.7 1863.8,3054.3" stroke-width="2.2"/>
<polyline points="1044.4,3149.6 1077.4,3148.9 1081.8,3147.4 1134.6,3147.4 1139.0,3145.2 1152.2,3145.2 1157.7,3144.1 1165.5,3143.6 1169.9,3139.7 1172.5,3133.1 1174.7,3136.4 1176.5,3143.0 1185.3,3141.4 1196.3,3137.9 1205.1,3133.1 1213.9,3127.6 1219.4,3119.9 1227.1,3112.1 1233.7,3105.5 1240.3,3101.1 1246.9,3095.6 1253.5,3095.2 1260.1,3096.7 1267.8,3101.1 1273.3,3106.6 1279.9,3113.2 1286.5,3117.2 1297.5,3118.8 1306.3,3117.2 1315.1,3113.2 1323.9,3109.9 1331.6,3104.4 1337.1,3097.8 1341.5,3089.0 1344.8,3078.0 1347.7,3067.0 1349.9,3051.6 1351.2,3038.4 1353.6,3025.1 1357.1,3008.8 1359.9,2992.5 1362.9,2973.9 1366.4,2955.2 1368.7,2936.6 1371.5,2918.0 1373.9,2892.3 1375.7,2857.4 1376.9,2810.8 1378.1,2764.2 1379.2,2694.4 1380.9,2662.9 1382.3,2694.4 1382.7,2764.2 1383.7,2810.8 1385.1,2834.1 1386.9,2857.4 1388.5,2892.3 1390.2,2915.6 1393.2,2931.9 1397.2,2943.6 1399.5,2964.6 1401.4,2992.5 1403.2,3020.5 1404.8,3048.4 1407.2,3067.0 1409.5,3085.7 1413.0,3104.3 1417.2,3118.3 1422.3,3128.8 1429.3,3136.9 1438.6,3142.0 1447.9,3143.4 1453.8,3145.1 1461.9,3142.7 1467.7,3145.1 1478.2,3142.7 1487.5,3140.4 1496.9,3135.7 1506.2,3132.3 1513.2,3127.6 1519.0,3122.9 1529.5,3122.9 1538.8,3120.6 1548.1,3117.1 1555.1,3114.8 1561.1,3113.6 1565.3,3114.0 1577.3,3107.9 1589.3,3098.3 1601.4,3089.9 1613.4,3082.7 1625.5,3071.8 1632.7,3061.0 1639.9,3053.8 1645.9,3044.1 1651.9,3035.7 1661.6,3030.9 1671.2,3024.9 1677.2,3021.3 1681.3,3012.9 1684.9,3002.7 1686.8,3011.6 1687.6,3020.6 1695.3,3020.6 1704.9,3011.6 1714.5,2998.4 1724.1,2984.0 1733.8,2964.7 1737.4,2952.7 1742.2,2940.6 1748.2,2928.6 1753.0,2919.0 1757.8,2909.3 1761.5,2902.1 1765.1,2899.2 1769.9,2904.0 1775.9,2914.2 1781.9,2925.0 1786.7,2933.4 1792.7,2945.5 1797.6,2957.5 1802.4,2971.9 1807.2,2984.0 1812.0,2998.4 1816.8,3009.2 1821.6,3017.7 1826.4,3020.6 1831.3,3016.5 1834.9,3014.1 1838.5,3020.1 1842.1,3032.1 1845.0,3044.1 1848.1,3053.8 1852.9,3058.6 1858.9,3059.1 1863.8,3056.7" stroke-width="2.2"/>
</g>
<line x1="1301.6" y1="448.3" x2="1301.6" y2="520.2" stroke="#000" stroke-width="2.7" shape-rendering="auto"/>
<polygon points="1300.4,541.2 1294.6,518.2 1308.6,518.2 1302.8,541.2" fill="#000" shape-rendering="auto"/>
<line x1="1350.9" y1="393.2" x2="1342.5" y2="513.1" stroke="#000" stroke-width="2.7" shape-rendering="auto"/>
<polygon points="1339.9,534.0 1335.7,510.7 1349.7,511.6 1342.3,534.2" fill="#000" shape-rendering="auto"/>
<line x1="1294.0" y1="968.1" x2="1294.0" y2="1025.8" stroke="#000" stroke-width="2.7" shape-rendering="auto"/>
<polygon points="1292.8,1046.8 1287.0,1023.8 1301.0,1023.8 1295.2,1046.8" fill="#000" shape-rendering="auto"/>
<line x1="1331.6" y1="1703.2" x2="1338.4" y2="1812.1" stroke="#000" stroke-width="2.7" shape-rendering="auto"/>
<polygon points="1338.5,1833.2 1331.3,1810.6 1345.3,1809.7 1340.9,1833.0" fill="#000" shape-rendering="auto"/>
<line x1="1421.3" y1="1665.6" x2="1399.5" y2="1715.9" stroke="#000" stroke-width="2.7" shape-rendering="auto"/>
<polygon points="1390.1,1734.7 1393.9,1711.3 1406.7,1716.8 1392.3,1735.6" fill="#000" shape-rendering="auto"/>
<line x1="1381.1" y1="2094.1" x2="1381.1" y2="2193.6" stroke="#000" stroke-width="2.7" shape-rendering="auto"/>
<polygon points="1379.9,2214.6 1374.1,2191.6 1388.1,2191.6 1382.3,2214.6" fill="#000" shape-rendering="auto"/>
<text transform="translate(112.02,666.00) scale(1,1.012)" x="0.00 22.80 33.00" font-size="40" font-family='"Liberation Sans", sans-serif' stroke="#000" stroke-width="1" stroke-linejoin="round">0.0</text>
<text transform="translate(112.41,564.42) scale(1,1.012)" x="0.00 22.80 33.00" font-size="40" font-family='"Liberation Sans", sans-serif' stroke="#000" stroke-width="1" stroke-linejoin="round">0.1</text>
<text transform="translate(112.47,462.83) scale(1,1.012)" x="0.00 22.80 33.00" font-size="40" font-family='"Liberation Sans", sans-serif' stroke="#000" stroke-width="1" stroke-linejoin="round">0.2</text>
<text transform="translate(112.21,361.25) scale(1,1.012)" x="0.00 22.80 33.00" font-size="40" font-family='"Liberation Sans", sans-serif' stroke="#000" stroke-width="1" stroke-linejoin="round">0.3</text>
<text transform="translate(111.63,259.67) scale(1,1.012)" x="0.00 22.80 33.00" font-size="40" font-family='"Liberation Sans", sans-serif' stroke="#000" stroke-width="1" stroke-linejoin="round">0.4</text>
<text transform="translate(112.13,158.08) scale(1,1.012)" x="0.00 22.80 33.00" font-size="40" font-family='"Liberation Sans", sans-serif' stroke="#000" stroke-width="1" stroke-linejoin="round">0.5</text>
<text transform="translate(112.21,56.50) scale(1,1.012)" x="0.00 22.80 33.00" font-size="40" font-family='"Liberation Sans", sans-serif' stroke="#000" stroke-width="1" stroke-linejoin="round">0.6</text>
<text transform="translate(112.02,1304.60) scale(1,1.012)" x="0.00 22.80 33.00" font-size="40" font-family='"Liberation Sans", sans-serif' stroke="#000" stroke-width="1" stroke-linejoin="round">0.0</text>
<text transform="translate(112.41,1061.20) scale(1,1.012)" x="0.00 22.80 33.00" font-size="40" font-family='"Liberation Sans", sans-serif' stroke="#000" stroke-width="1" stroke-linejoin="round">0.1</text>
<text transform="translate(112.47,817.80) scale(1,1.012)" x="0.00 22.80 33.00" font-size="40" font-family='"Liberation Sans", sans-serif' stroke="#000" stroke-width="1" stroke-linejoin="round">0.2</text>
<text transform="translate(112.02,1944.80) scale(1,1.012)" x="0.00 22.80 33.00" font-size="40" font-family='"Liberation Sans", sans-serif' stroke="#000" stroke-width="1" stroke-linejoin="round">0.0</text>
<text transform="translate(112.41,1770.37) scale(1,1.012)" x="0.00 22.80 33.00" font-size="40" font-family='"Liberation Sans", sans-serif' stroke="#000" stroke-width="1" stroke-linejoin="round">0.1</text>
<text transform="translate(112.47,1595.94) scale(1,1.012)" x="0.00 22.80 33.00" font-size="40" font-family='"Liberation Sans", sans-serif' stroke="#000" stroke-width="1" stroke-linejoin="round">0.2</text>
<text transform="translate(112.21,1421.51) scale(1,1.012)" x="0.00 22.80 33.00" font-size="40" font-family='"Liberation Sans", sans-serif' stroke="#000" stroke-width="1" stroke-linejoin="round">0.3</text>
<text transform="translate(112.02,2589.00) scale(1,1.012)" x="0.00 22.80 33.00" font-size="40" font-family='"Liberation Sans", sans-serif' stroke="#000" stroke-width="1" stroke-linejoin="round">0.0</text>
<text transform="translate(112.41,2386.00) scale(1,1.012)" x="0.00 22.80 33.00" font-size="40" font-family='"Liberation Sans", sans-serif' stroke="#000" stroke-width="1" stroke-linejoin="round">0.1</text>
<text transform="translate(112.47,2183.00) scale(1,1.012)" x="0.00 22.80 33.00" font-size="40" font-family='"Liberation Sans", sans-serif' stroke="#000" stroke-width="1" stroke-linejoin="round">0.2</text>
<text transform="translate(112.21,1980.00) scale(1,1.012)" x="0.00 22.80 33.00" font-size="40" font-family='"Liberation Sans", sans-serif' stroke="#000" stroke-width="1" stroke-linejoin="round">0.3</text>
<text transform="translate(112.02,3229.40) scale(1,1.012)" x="0.00 22.80 33.00" font-size="40" font-family='"Liberation Sans", sans-serif' stroke="#000" stroke-width="1" stroke-linejoin="round">0.0</text>
<text transform="translate(111.63,3055.40) scale(1,1.012)" x="0.00 22.80 33.00" font-size="40" font-family='"Liberation Sans", sans-serif' stroke="#000" stroke-width="1" stroke-linejoin="round">0.4</text>
<text transform="translate(112.19,2881.40) scale(1,1.012)" x="0.00 22.80 33.00" font-size="40" font-family='"Liberation Sans", sans-serif' stroke="#000" stroke-width="1" stroke-linejoin="round">0.8</text>
<text transform="translate(112.47,2707.40) scale(1,1.012)" x="0.00 22.80 33.00" font-size="40" font-family='"Liberation Sans", sans-serif' stroke="#000" stroke-width="1" stroke-linejoin="round">1.2</text>
<text transform="translate(54.10,361.95) rotate(-90) scale(1,1.03)" font-size="45.7" font-family='"Liberation Sans", sans-serif' stroke="#000" stroke-width="1.3" stroke-linejoin="round">Abs</text>
<text transform="translate(50.10,1004.65) rotate(-90) scale(1,1.03)" font-size="45.7" font-family='"Liberation Sans", sans-serif' stroke="#000" stroke-width="1.3" stroke-linejoin="round">Abs</text>
<text transform="translate(50.10,1643.15) rotate(-90) scale(1,1.03)" font-size="45.7" font-family='"Liberation Sans", sans-serif' stroke="#000" stroke-width="1.3" stroke-linejoin="round">Abs</text>
<text transform="translate(52.10,2282.15) rotate(-90) scale(1,1.03)" font-size="45.7" font-family='"Liberation Sans", sans-serif' stroke="#000" stroke-width="1.3" stroke-linejoin="round">Abs</text>
<text transform="translate(50.10,2923.15) rotate(-90) scale(1,1.03)" font-size="45.7" font-family='"Liberation Sans", sans-serif' stroke="#000" stroke-width="1.3" stroke-linejoin="round">Abs</text>
<text transform="translate(149.90,3274.60) scale(1,1.012)" x="0.00 22.80 45.60 68.40" font-size="40" font-family='"Liberation Sans", sans-serif' stroke="#000" stroke-width="1" stroke-linejoin="round">4000</text>
<text transform="translate(464.60,3274.60) scale(1,1.012)" x="0.00 22.80 45.60 68.40" font-size="40" font-family='"Liberation Sans", sans-serif' stroke="#000" stroke-width="1" stroke-linejoin="round">3500</text>
<text transform="translate(779.60,3274.60) scale(1,1.012)" x="0.00 22.80 45.60 68.40" font-size="40" font-family='"Liberation Sans", sans-serif' stroke="#000" stroke-width="1" stroke-linejoin="round">3000</text>
<text transform="translate(998.35,3274.60) scale(1,1.012)" x="0.00 22.80 45.60 68.40" font-size="40" font-family='"Liberation Sans", sans-serif' stroke="#000" stroke-width="1" stroke-linejoin="round">2000</text>
<text transform="translate(1270.83,3274.60) scale(1,1.012)" x="0.00 22.80 45.60 68.40" font-size="40" font-family='"Liberation Sans", sans-serif' stroke="#000" stroke-width="1" stroke-linejoin="round">1500</text>
<text transform="translate(1543.83,3274.60) scale(1,1.012)" x="0.00 22.80 45.60 68.40" font-size="40" font-family='"Liberation Sans", sans-serif' stroke="#000" stroke-width="1" stroke-linejoin="round">1000</text>
<text transform="translate(1828.96,3274.60) scale(1,1.012)" x="0.00 22.80 45.60" font-size="40" font-family='"Liberation Sans", sans-serif' stroke="#000" stroke-width="1" stroke-linejoin="round">500</text>
<text transform="translate(818.09,3352.50) scale(1,1.04)" font-size="47.5" font-family='"Liberation Sans", sans-serif' stroke="#000" stroke-width="1.3" stroke-linejoin="round">Wavenumber (cm<tspan dy="-23" font-size="30.5">−1</tspan><tspan dy="23">)</tspan></text>
<text transform="translate(837.99,297.90) scale(1,1.03)" x="0.00 20.40 40.80 61.20" font-size="36" font-family='"Liberation Sans", sans-serif' stroke="#000" stroke-width="1" stroke-linejoin="round">2920</text>
<text transform="translate(907.54,372.50) scale(1,1.03)" x="0.00 20.40 40.80 61.20" font-size="36" font-family='"Liberation Sans", sans-serif' stroke="#000" stroke-width="1" stroke-linejoin="round">2852</text>
<text transform="translate(1189.14,507.60) scale(1,1.03)" x="0.00 20.40 40.80 61.20" font-size="36" font-family='"Liberation Sans", sans-serif' stroke="#000" stroke-width="1" stroke-linejoin="round">1644</text>
<text transform="translate(1239.46,430.10) scale(1,1.03)" x="0.00 20.40 40.80 61.20" font-size="36" font-family='"Liberation Sans", sans-serif' stroke="#000" stroke-width="1" stroke-linejoin="round">1543</text>
<text transform="translate(1291.87,379.30) scale(1,1.03)" x="0.00 20.40 40.80 61.20" font-size="36" font-family='"Liberation Sans", sans-serif' stroke="#000" stroke-width="1" stroke-linejoin="round">1469</text>
<text transform="translate(1390.02,361.40) scale(1,1.03)" x="0.00 20.40 40.80 61.20" font-size="36" font-family='"Liberation Sans", sans-serif' stroke="#000" stroke-width="1" stroke-linejoin="round">1360</text>
<text transform="translate(1433.75,490.70) scale(1,1.03)" x="0.00 20.40 40.80 61.20" font-size="36" font-family='"Liberation Sans", sans-serif' stroke="#000" stroke-width="1" stroke-linejoin="round">1208</text>
<text transform="translate(1525.59,490.70) scale(1,1.03)" x="0.00 20.40 40.80 61.20" font-size="36" font-family='"Liberation Sans", sans-serif' stroke="#000" stroke-width="1" stroke-linejoin="round">1064</text>
<text transform="translate(1163.74,1020.80) scale(1,1.03)" x="0.00 20.40 40.80 61.20" font-size="36" font-family='"Liberation Sans", sans-serif' stroke="#000" stroke-width="1" stroke-linejoin="round">1644</text>
<text transform="translate(1246.51,943.40) scale(1,1.03)" x="0.00 20.40 40.80 61.20" font-size="36" font-family='"Liberation Sans", sans-serif' stroke="#000" stroke-width="1" stroke-linejoin="round">1543</text>
<text transform="translate(1336.79,825.00) scale(1,1.03)" x="0.00 20.40 40.80 61.20" font-size="36" font-family='"Liberation Sans", sans-serif' stroke="#000" stroke-width="1" stroke-linejoin="round">1384</text>
<text transform="translate(848.99,1569.70) scale(1,1.03)" x="0.00 20.40 40.80 61.20" font-size="36" font-family='"Liberation Sans", sans-serif' stroke="#000" stroke-width="1" stroke-linejoin="round">2920</text>
<text transform="translate(765.04,1693.50) scale(1,1.03)" x="0.00 20.40 40.80 61.20" font-size="36" font-family='"Liberation Sans", sans-serif' stroke="#000" stroke-width="1" stroke-linejoin="round">2957</text>
<text transform="translate(915.49,1675.70) scale(1,1.03)" x="0.00 20.40 40.80 61.20" font-size="36" font-family='"Liberation Sans", sans-serif' stroke="#000" stroke-width="1" stroke-linejoin="round">2850</text>
<text transform="translate(1200.34,1730.50) scale(1,1.03)" x="0.00 20.40 40.80 61.20" font-size="36" font-family='"Liberation Sans", sans-serif' stroke="#000" stroke-width="1" stroke-linejoin="round">1594</text>
<text transform="translate(1284.11,1693.40) scale(1,1.03)" x="0.00 20.40 40.80 61.20" font-size="36" font-family='"Liberation Sans", sans-serif' stroke="#000" stroke-width="1" stroke-linejoin="round">1463</text>
<text transform="translate(1385.19,1647.40) scale(1,1.03)" x="0.00 20.40 40.80 61.20" font-size="36" font-family='"Liberation Sans", sans-serif' stroke="#000" stroke-width="1" stroke-linejoin="round">1384</text>
<text transform="translate(1441.50,1719.20) scale(1,1.03)" x="0.00 20.40 40.80 61.20" font-size="36" font-family='"Liberation Sans", sans-serif' stroke="#000" stroke-width="1" stroke-linejoin="round">1211</text>
<text transform="translate(1531.60,1729.90) scale(1,1.03)" x="0.00 20.40 40.80 61.20" font-size="36" font-family='"Liberation Sans", sans-serif' stroke="#000" stroke-width="1" stroke-linejoin="round">1063</text>
<text transform="translate(1231.69,2108.30) scale(1,1.03)" x="0.00 20.40 40.80 61.20" font-size="36" font-family='"Liberation Sans", sans-serif' stroke="#000" stroke-width="1" stroke-linejoin="round">1584</text>
<text transform="translate(1136.70,2262.40) scale(1,1.03)" x="0.00 20.40 40.80 61.20" font-size="36" font-family='"Liberation Sans", sans-serif' stroke="#000" stroke-width="1" stroke-linejoin="round">1678</text>
<text transform="translate(1285.69,2214.50) scale(1,1.03)" x="0.00 20.40 40.80 61.20" font-size="36" font-family='"Liberation Sans", sans-serif' stroke="#000" stroke-width="1" stroke-linejoin="round">1444</text>
<text transform="translate(1343.09,2065.70) scale(1,1.03)" x="0.00 20.40 40.80 61.20" font-size="36" font-family='"Liberation Sans", sans-serif' stroke="#000" stroke-width="1" stroke-linejoin="round">1384</text>
<text transform="translate(1447.74,2067.20) scale(1,1.03)" x="0.00 20.40 40.80 61.20" font-size="36" font-family='"Liberation Sans", sans-serif' stroke="#000" stroke-width="1" stroke-linejoin="round">1264</text>
<text transform="translate(1479.90,2237.60) scale(1,1.03)" x="0.00 20.40 40.80 61.20" font-size="36" font-family='"Liberation Sans", sans-serif' stroke="#000" stroke-width="1" stroke-linejoin="round">1181</text>
<text transform="translate(1522.20,2290.00) scale(1,1.03)" x="0.00 20.40 40.80 61.20" font-size="36" font-family='"Liberation Sans", sans-serif' stroke="#000" stroke-width="1" stroke-linejoin="round">1119</text>
<text transform="translate(1739.63,2152.50) scale(1,1.03)" x="0.00 20.40 40.80" font-size="36" font-family='"Liberation Sans", sans-serif' stroke="#000" stroke-width="1" stroke-linejoin="round">670</text>
<text transform="translate(1339.04,2644.20) scale(1,1.03)" x="0.00 20.40 40.80 61.20" font-size="36" font-family='"Liberation Sans", sans-serif' stroke="#000" stroke-width="1" stroke-linejoin="round">1384</text>
<text transform="translate(256.92,431.40)" font-size="94.5" font-family='"DejaVu Sans", "Liberation Sans", sans-serif' stroke="#fff" stroke-width="1.7" stroke-linejoin="round">5</text>
<text transform="translate(257.38,1100.40)" font-size="94.5" font-family='"DejaVu Sans", "Liberation Sans", sans-serif' stroke="#fff" stroke-width="1.7" stroke-linejoin="round">4</text>
<text transform="translate(256.67,1740.80)" font-size="94.5" font-family='"DejaVu Sans", "Liberation Sans", sans-serif' stroke="#fff" stroke-width="1.7" stroke-linejoin="round">3</text>
<text transform="translate(258.26,2430.00)" font-size="94.5" font-family='"DejaVu Sans", "Liberation Sans", sans-serif' stroke="#fff" stroke-width="1.7" stroke-linejoin="round">2</text>
<text transform="translate(258.01,3031.30)" font-size="94.5" font-family='"DejaVu Sans", "Liberation Sans", sans-serif' stroke="#fff" stroke-width="1.7" stroke-linejoin="round">1</text>
</g>
</svg>
</body></html>
